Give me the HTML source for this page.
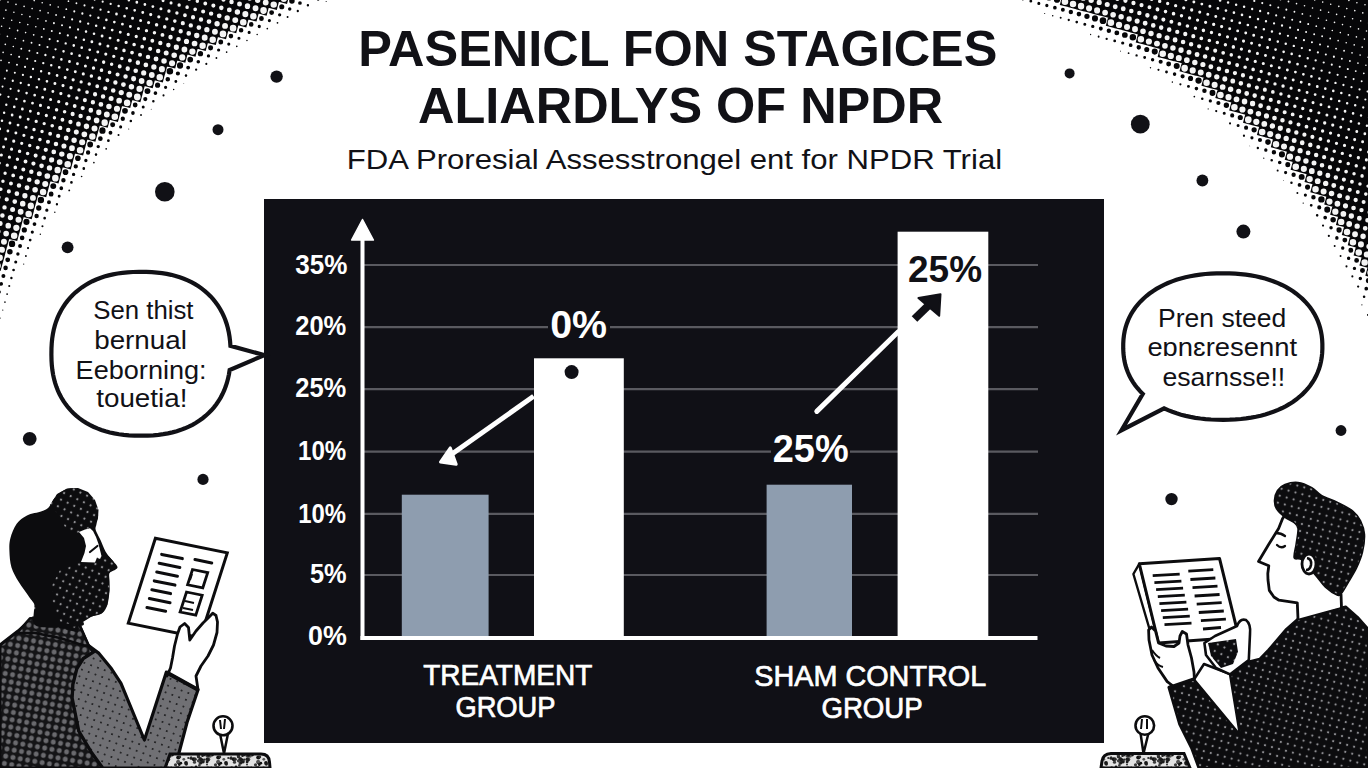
<!DOCTYPE html>
<html><head><meta charset="utf-8"><title>NPDR</title>
<style>html,body{margin:0;padding:0;background:#fff;width:1368px;height:768px;overflow:hidden}svg{display:block}</style>
</head><body><svg width="1368" height="768" viewBox="0 0 1368 768"><g id="halftone"><path fill="#060608" d="M-11.0 -7.4l8.3 2.2l-2.2 8.3l-8.3 -2.2zM-0.9 -13.3l8.3 2.2l-2.2 8.3l-8.3 -2.2zM-3.0 -5.2l8.3 2.2l-2.2 8.3l-8.3 -2.2zM-5.2 2.8l8.3 2.2l-2.2 8.3l-8.3 -2.2zM-7.3 10.8l8.3 2.2l-2.2 8.3l-8.3 -2.2zM-9.5 18.8l8.3 2.2l-2.2 8.3l-8.3 -2.2zM-11.6 26.8l8.3 2.2l-2.2 8.3l-8.3 -2.2zM7.1 -11.1l8.3 2.2l-2.2 8.3l-8.3 -2.2zM5.0 -3.1l8.3 2.2l-2.2 8.3l-8.3 -2.2zM2.8 4.9l8.3 2.2l-2.2 8.3l-8.3 -2.2zM0.7 12.9l8.3 2.2l-2.2 8.3l-8.3 -2.2zM-1.4 21.0l8.3 2.2l-2.2 8.3l-8.3 -2.2zM-3.6 29.0l8.3 2.2l-2.2 8.3l-8.3 -2.2zM-5.7 37.0l8.3 2.2l-2.2 8.3l-8.3 -2.2zM-7.9 45.0l8.3 2.2l-2.2 8.3l-8.3 -2.2zM-10.0 53.0l8.3 2.2l-2.2 8.3l-8.3 -2.2zM-12.2 61.1l8.3 2.2l-2.2 8.3l-8.3 -2.2zM15.2 -9.0l8.3 2.2l-2.2 8.3l-8.3 -2.2zM13.0 -0.9l8.3 2.2l-2.2 8.3l-8.3 -2.2zM10.9 7.1l8.3 2.2l-2.2 8.3l-8.3 -2.2zM8.7 15.1l8.3 2.2l-2.2 8.3l-8.3 -2.2zM6.6 23.1l8.3 2.2l-2.2 8.3l-8.3 -2.2zM4.4 31.1l8.3 2.2l-2.2 8.3l-8.3 -2.2zM2.3 39.1l8.3 2.2l-2.2 8.3l-8.3 -2.2zM0.1 47.2l8.3 2.2l-2.2 8.3l-8.3 -2.2zM-2.0 55.2l8.3 2.2l-2.2 8.3l-8.3 -2.2zM-4.2 63.2l8.3 2.2l-2.2 8.3l-8.3 -2.2zM-6.3 71.2l8.3 2.2l-2.2 8.3l-8.3 -2.2zM-8.5 79.2l8.3 2.2l-2.2 8.3l-8.3 -2.2zM-10.6 87.3l8.3 2.2l-2.2 8.3l-8.3 -2.2zM-12.8 95.3l8.3 2.2l-2.2 8.3l-8.3 -2.2zM25.3 -14.8l8.3 2.2l-2.2 8.3l-8.3 -2.2zM23.2 -6.8l8.3 2.2l-2.2 8.3l-8.3 -2.2zM21.0 1.2l8.3 2.2l-2.2 8.3l-8.3 -2.2zM18.9 9.2l8.3 2.2l-2.2 8.3l-8.3 -2.2zM16.7 17.2l8.3 2.2l-2.2 8.3l-8.3 -2.2zM14.6 25.3l8.3 2.2l-2.2 8.3l-8.3 -2.2zM12.4 33.3l8.3 2.2l-2.2 8.3l-8.3 -2.2zM10.3 41.3l8.3 2.2l-2.2 8.3l-8.3 -2.2zM8.1 49.3l8.3 2.2l-2.2 8.3l-8.3 -2.2zM6.0 57.3l8.3 2.2l-2.2 8.3l-8.3 -2.2zM3.8 65.3l8.3 2.2l-2.2 8.3l-8.3 -2.2zM1.7 73.4l8.3 2.2l-2.2 8.3l-8.3 -2.2zM-0.5 81.4l8.3 2.2l-2.2 8.3l-8.3 -2.2zM-2.6 89.4l8.3 2.2l-2.2 8.3l-8.3 -2.2zM-4.7 97.4l8.3 2.2l-2.2 8.3l-8.3 -2.2zM-6.9 105.4l8.3 2.2l-2.2 8.3l-8.3 -2.2zM-9.0 113.5l8.3 2.2l-2.2 8.3l-8.3 -2.2zM-11.2 121.5l8.3 2.2l-2.2 8.3l-8.3 -2.2zM33.3 -12.7l8.3 2.2l-2.2 8.3l-8.3 -2.2zM31.2 -4.7l8.3 2.2l-2.2 8.3l-8.3 -2.2zM29.0 3.4l8.3 2.2l-2.2 8.3l-8.3 -2.2zM26.9 11.4l8.3 2.2l-2.2 8.3l-8.3 -2.2zM24.7 19.4l8.3 2.2l-2.2 8.3l-8.3 -2.2zM22.6 27.4l8.3 2.2l-2.2 8.3l-8.3 -2.2zM20.5 35.4l8.3 2.2l-2.2 8.3l-8.3 -2.2zM18.3 43.4l8.3 2.2l-2.2 8.3l-8.3 -2.2zM16.2 51.5l8.3 2.2l-2.2 8.3l-8.3 -2.2zM14.0 59.5l8.3 2.2l-2.2 8.3l-8.3 -2.2zM11.9 67.5l8.3 2.2l-2.2 8.3l-8.3 -2.2zM9.7 75.5l8.3 2.2l-2.2 8.3l-8.3 -2.2zM7.6 83.5l8.3 2.2l-2.2 8.3l-8.3 -2.2zM5.4 91.5l8.3 2.2l-2.2 8.3l-8.3 -2.2zM3.3 99.6l8.3 2.2l-2.2 8.3l-8.3 -2.2zM1.1 107.6l8.3 2.2l-2.2 8.3l-8.3 -2.2zM-1.0 115.6l8.3 2.2l-2.2 8.3l-8.3 -2.2zM-3.2 123.6l8.3 2.2l-2.2 8.3l-8.3 -2.2zM-5.3 131.6l8.3 2.2l-2.2 8.3l-8.3 -2.2zM-7.5 139.6l8.3 2.2l-2.2 8.3l-8.3 -2.2zM-9.6 147.7l8.3 2.2l-2.2 8.3l-8.3 -2.2zM-11.8 155.7l8.3 2.2l-2.2 8.3l-8.3 -2.2zM41.4 -10.5l8.3 2.2l-2.2 8.3l-8.3 -2.2zM39.2 -2.5l8.3 2.2l-2.2 8.3l-8.3 -2.2zM37.1 5.5l8.3 2.2l-2.2 8.3l-8.3 -2.2zM34.9 13.5l8.3 2.2l-2.2 8.3l-8.3 -2.2zM32.8 21.5l8.3 2.2l-2.2 8.3l-8.3 -2.2zM30.6 29.6l8.3 2.2l-2.2 8.3l-8.3 -2.2zM28.5 37.6l8.3 2.2l-2.2 8.3l-8.3 -2.2zM26.3 45.6l8.3 2.2l-2.2 8.3l-8.3 -2.2zM24.2 53.6l8.3 2.2l-2.2 8.3l-8.3 -2.2zM22.0 61.6l8.3 2.2l-2.2 8.3l-8.3 -2.2zM19.9 69.6l8.3 2.2l-2.2 8.3l-8.3 -2.2zM17.7 77.7l8.3 2.2l-2.2 8.3l-8.3 -2.2zM15.6 85.7l8.3 2.2l-2.2 8.3l-8.3 -2.2zM13.4 93.7l8.3 2.2l-2.2 8.3l-8.3 -2.2zM11.3 101.7l8.3 2.2l-2.2 8.3l-8.3 -2.2zM9.1 109.7l8.3 2.2l-2.2 8.3l-8.3 -2.2zM7.0 117.7l8.3 2.2l-2.2 8.3l-8.3 -2.2zM4.8 125.8l8.3 2.2l-2.2 8.3l-8.3 -2.2zM2.7 133.8l8.3 2.2l-2.2 8.3l-8.3 -2.2zM0.5 141.8l8.3 2.2l-2.2 8.3l-8.3 -2.2zM-1.6 149.8l8.3 2.2l-2.2 8.3l-8.3 -2.2zM-3.8 157.8l8.3 2.2l-2.2 8.3l-8.3 -2.2zM-5.9 165.8l8.3 2.2l-2.2 8.3l-8.3 -2.2zM-8.0 173.9l8.3 2.2l-2.2 8.3l-8.3 -2.2zM-10.2 181.9l8.3 2.2l-2.2 8.3l-8.3 -2.2zM-12.3 189.9l8.3 2.2l-2.2 8.3l-8.3 -2.2zM49.4 -8.4l8.3 2.2l-2.2 8.3l-8.3 -2.2zM47.2 -0.4l8.3 2.2l-2.2 8.3l-8.3 -2.2zM45.1 7.7l8.3 2.2l-2.2 8.3l-8.3 -2.2zM42.9 15.7l8.3 2.2l-2.2 8.3l-8.3 -2.2zM40.8 23.7l8.3 2.2l-2.2 8.3l-8.3 -2.2zM38.6 31.7l8.3 2.2l-2.2 8.3l-8.3 -2.2zM36.5 39.7l8.3 2.2l-2.2 8.3l-8.3 -2.2zM34.3 47.7l8.3 2.2l-2.2 8.3l-8.3 -2.2zM32.2 55.8l8.3 2.2l-2.2 8.3l-8.3 -2.2zM30.0 63.8l8.3 2.2l-2.2 8.3l-8.3 -2.2zM27.9 71.8l8.3 2.2l-2.2 8.3l-8.3 -2.2zM25.7 79.8l8.3 2.2l-2.2 8.3l-8.3 -2.2zM23.6 87.8l8.3 2.2l-2.2 8.3l-8.3 -2.2zM21.5 95.8l8.3 2.2l-2.2 8.3l-8.3 -2.2zM19.3 103.9l8.3 2.2l-2.2 8.3l-8.3 -2.2zM17.2 111.9l8.3 2.2l-2.2 8.3l-8.3 -2.2zM15.0 119.9l8.3 2.2l-2.2 8.3l-8.3 -2.2zM12.9 127.9l8.3 2.2l-2.2 8.3l-8.3 -2.2zM10.7 135.9l8.3 2.2l-2.2 8.3l-8.3 -2.2zM8.6 143.9l8.3 2.2l-2.2 8.3l-8.3 -2.2zM6.4 152.0l8.3 2.2l-2.2 8.3l-8.3 -2.2zM4.3 160.0l8.3 2.2l-2.2 8.3l-8.3 -2.2zM2.1 168.0l8.3 2.2l-2.2 8.3l-8.3 -2.2zM-0.0 176.0l8.3 2.2l-2.2 8.3l-8.3 -2.2zM-2.2 184.0l8.3 2.2l-2.2 8.3l-8.3 -2.2zM-4.3 192.0l8.3 2.2l-2.2 8.3l-8.3 -2.2zM-6.5 200.1l8.3 2.2l-2.2 8.3l-8.3 -2.2zM-8.6 208.1l8.3 2.2l-2.2 8.3l-8.3 -2.2zM-10.8 216.1l8.3 2.2l-2.2 8.3l-8.3 -2.2zM-12.9 224.1l8.3 2.2l-2.2 8.3l-8.3 -2.2zM59.5 -14.2l8.3 2.2l-2.2 8.3l-8.3 -2.2zM57.4 -6.2l8.3 2.2l-2.2 8.3l-8.3 -2.2zM55.2 1.8l8.3 2.2l-2.2 8.3l-8.3 -2.2zM53.1 9.8l8.3 2.2l-2.2 8.3l-8.3 -2.2zM50.9 17.8l8.3 2.2l-2.2 8.3l-8.3 -2.2zM48.8 25.8l8.3 2.2l-2.2 8.3l-8.3 -2.2zM46.7 33.9l8.3 2.2l-2.2 8.3l-8.3 -2.2zM44.5 41.9l8.3 2.2l-2.2 8.3l-8.3 -2.2zM42.4 49.9l8.3 2.2l-2.2 8.3l-8.3 -2.2zM40.2 57.9l8.3 2.2l-2.2 8.3l-8.3 -2.2zM38.1 65.9l8.3 2.2l-2.2 8.3l-8.3 -2.2zM35.9 73.9l8.3 2.2l-2.2 8.3l-8.3 -2.2zM33.8 82.0l8.3 2.2l-2.2 8.3l-8.3 -2.2zM31.6 90.0l8.3 2.2l-2.2 8.3l-8.3 -2.2zM29.5 98.0l8.3 2.2l-2.2 8.3l-8.3 -2.2zM27.3 106.0l8.3 2.2l-2.2 8.3l-8.3 -2.2zM25.2 114.0l8.3 2.2l-2.2 8.3l-8.3 -2.2zM23.0 122.0l8.3 2.2l-2.2 8.3l-8.3 -2.2zM20.9 130.1l8.3 2.2l-2.2 8.3l-8.3 -2.2zM18.7 138.1l8.3 2.2l-2.2 8.3l-8.3 -2.2zM16.6 146.1l8.3 2.2l-2.2 8.3l-8.3 -2.2zM14.4 154.1l8.3 2.2l-2.2 8.3l-8.3 -2.2zM12.3 162.1l8.3 2.2l-2.2 8.3l-8.3 -2.2zM10.1 170.1l8.3 2.2l-2.2 8.3l-8.3 -2.2zM8.0 178.2l8.3 2.2l-2.2 8.3l-8.3 -2.2zM5.8 186.2l8.3 2.2l-2.2 8.3l-8.3 -2.2zM3.7 194.2l8.3 2.2l-2.2 8.3l-8.3 -2.2zM1.5 202.2l8.3 2.2l-2.2 8.3l-8.3 -2.2zM-0.6 210.2l8.3 2.2l-2.2 8.3l-8.3 -2.2zM-2.8 218.2l8.3 2.2l-2.2 8.3l-8.3 -2.2zM-4.9 226.3l8.3 2.2l-2.2 8.3l-8.3 -2.2zM-7.1 234.3l8.3 2.2l-2.2 8.3l-8.3 -2.2zM-9.2 242.3l8.3 2.2l-2.2 8.3l-8.3 -2.2zM-11.3 250.3l8.3 2.2l-2.2 8.3l-8.3 -2.2zM67.6 -12.1l8.3 2.2l-2.2 8.3l-8.3 -2.2zM65.4 -4.1l8.3 2.2l-2.2 8.3l-8.3 -2.2zM63.3 3.9l8.3 2.2l-2.2 8.3l-8.3 -2.2zM61.1 12.0l8.3 2.2l-2.2 8.3l-8.3 -2.2zM59.0 20.0l8.3 2.2l-2.2 8.3l-8.3 -2.2zM56.8 28.0l8.3 2.2l-2.2 8.3l-8.3 -2.2zM54.7 36.0l8.3 2.2l-2.2 8.3l-8.3 -2.2zM52.5 44.0l8.3 2.2l-2.2 8.3l-8.3 -2.2zM50.4 52.0l8.3 2.2l-2.2 8.3l-8.3 -2.2zM48.2 60.1l8.3 2.2l-2.2 8.3l-8.3 -2.2zM46.1 68.1l8.3 2.2l-2.2 8.3l-8.3 -2.2zM43.9 76.1l8.3 2.2l-2.2 8.3l-8.3 -2.2zM41.8 84.1l8.3 2.2l-2.2 8.3l-8.3 -2.2zM39.6 92.1l8.3 2.2l-2.2 8.3l-8.3 -2.2zM37.5 100.1l8.3 2.2l-2.2 8.3l-8.3 -2.2zM35.3 108.2l8.3 2.2l-2.2 8.3l-8.3 -2.2zM33.2 116.2l8.3 2.2l-2.2 8.3l-8.3 -2.2zM31.0 124.2l8.3 2.2l-2.2 8.3l-8.3 -2.2zM28.9 132.2l8.3 2.2l-2.2 8.3l-8.3 -2.2zM26.7 140.2l8.3 2.2l-2.2 8.3l-8.3 -2.2zM24.6 148.2l8.3 2.2l-2.2 8.3l-8.3 -2.2zM22.4 156.3l8.3 2.2l-2.2 8.3l-8.3 -2.2zM20.3 164.3l8.3 2.2l-2.2 8.3l-8.3 -2.2zM18.2 172.3l8.3 2.2l-2.2 8.3l-8.3 -2.2zM16.0 180.3l8.3 2.2l-2.2 8.3l-8.3 -2.2zM13.9 188.3l8.3 2.2l-2.2 8.3l-8.3 -2.2zM11.7 196.3l8.3 2.2l-2.2 8.3l-8.3 -2.2zM9.6 204.4l8.3 2.2l-2.2 8.3l-8.3 -2.2zM7.4 212.4l8.3 2.2l-2.2 8.3l-8.3 -2.2zM5.3 220.4l8.3 2.2l-2.2 8.3l-8.3 -2.2zM3.1 228.4l8.3 2.2l-2.2 8.3l-8.3 -2.2zM1.0 236.4l8.3 2.2l-2.2 8.3l-8.3 -2.2zM-1.2 244.4l8.3 2.2l-2.2 8.3l-8.3 -2.2zM-3.3 252.5l8.3 2.2l-2.2 8.3l-8.3 -2.2zM-5.5 260.5l8.3 2.2l-2.2 8.3l-8.3 -2.2zM75.6 -10.0l8.3 2.2l-2.2 8.3l-8.3 -2.2zM73.4 -1.9l8.3 2.2l-2.2 8.3l-8.3 -2.2zM71.3 6.1l8.3 2.2l-2.2 8.3l-8.3 -2.2zM69.1 14.1l8.3 2.2l-2.2 8.3l-8.3 -2.2zM67.0 22.1l8.3 2.2l-2.2 8.3l-8.3 -2.2zM64.8 30.1l8.3 2.2l-2.2 8.3l-8.3 -2.2zM62.7 38.2l8.3 2.2l-2.2 8.3l-8.3 -2.2zM60.5 46.2l8.3 2.2l-2.2 8.3l-8.3 -2.2zM58.4 54.2l8.3 2.2l-2.2 8.3l-8.3 -2.2zM56.2 62.2l8.3 2.2l-2.2 8.3l-8.3 -2.2zM54.1 70.2l8.3 2.2l-2.2 8.3l-8.3 -2.2zM51.9 78.2l8.3 2.2l-2.2 8.3l-8.3 -2.2zM49.8 86.3l8.3 2.2l-2.2 8.3l-8.3 -2.2zM47.7 94.3l8.3 2.2l-2.2 8.3l-8.3 -2.2zM45.5 102.3l8.3 2.2l-2.2 8.3l-8.3 -2.2zM43.4 110.3l8.3 2.2l-2.2 8.3l-8.3 -2.2zM41.2 118.3l8.3 2.2l-2.2 8.3l-8.3 -2.2zM39.1 126.3l8.3 2.2l-2.2 8.3l-8.3 -2.2zM36.9 134.4l8.3 2.2l-2.2 8.3l-8.3 -2.2zM34.8 142.4l8.3 2.2l-2.2 8.3l-8.3 -2.2zM32.6 150.4l8.3 2.2l-2.2 8.3l-8.3 -2.2zM30.5 158.4l8.3 2.2l-2.2 8.3l-8.3 -2.2zM28.3 166.4l8.3 2.2l-2.2 8.3l-8.3 -2.2zM26.2 174.4l8.3 2.2l-2.2 8.3l-8.3 -2.2zM24.0 182.5l8.3 2.2l-2.2 8.3l-8.3 -2.2zM21.9 190.5l8.3 2.2l-2.2 8.3l-8.3 -2.2zM19.7 198.5l8.3 2.2l-2.2 8.3l-8.3 -2.2zM17.6 206.5l8.3 2.2l-2.2 8.3l-8.3 -2.2zM15.4 214.5l8.3 2.2l-2.2 8.3l-8.3 -2.2zM13.3 222.5l8.3 2.2l-2.2 8.3l-8.3 -2.2zM11.1 230.6l8.3 2.2l-2.2 8.3l-8.3 -2.2zM83.6 -7.8l8.3 2.2l-2.2 8.3l-8.3 -2.2zM81.4 0.2l8.3 2.2l-2.2 8.3l-8.3 -2.2zM79.3 8.2l8.3 2.2l-2.2 8.3l-8.3 -2.2zM77.1 16.2l8.3 2.2l-2.2 8.3l-8.3 -2.2zM75.0 24.3l8.3 2.2l-2.2 8.3l-8.3 -2.2zM72.9 32.3l8.3 2.2l-2.2 8.3l-8.3 -2.2zM70.7 40.3l8.3 2.2l-2.2 8.3l-8.3 -2.2zM68.6 48.3l8.3 2.2l-2.2 8.3l-8.3 -2.2zM66.4 56.3l8.3 2.2l-2.2 8.3l-8.3 -2.2zM64.3 64.3l8.3 2.2l-2.2 8.3l-8.3 -2.2zM62.1 72.4l8.3 2.2l-2.2 8.3l-8.3 -2.2zM60.0 80.4l8.3 2.2l-2.2 8.3l-8.3 -2.2zM57.8 88.4l8.3 2.2l-2.2 8.3l-8.3 -2.2zM55.7 96.4l8.3 2.2l-2.2 8.3l-8.3 -2.2zM53.5 104.4l8.3 2.2l-2.2 8.3l-8.3 -2.2zM51.4 112.5l8.3 2.2l-2.2 8.3l-8.3 -2.2zM49.2 120.5l8.3 2.2l-2.2 8.3l-8.3 -2.2zM47.1 128.5l8.3 2.2l-2.2 8.3l-8.3 -2.2zM44.9 136.5l8.3 2.2l-2.2 8.3l-8.3 -2.2zM42.8 144.5l8.3 2.2l-2.2 8.3l-8.3 -2.2zM40.6 152.5l8.3 2.2l-2.2 8.3l-8.3 -2.2zM38.5 160.6l8.3 2.2l-2.2 8.3l-8.3 -2.2zM36.3 168.6l8.3 2.2l-2.2 8.3l-8.3 -2.2zM34.2 176.6l8.3 2.2l-2.2 8.3l-8.3 -2.2zM32.0 184.6l8.3 2.2l-2.2 8.3l-8.3 -2.2zM29.9 192.6l8.3 2.2l-2.2 8.3l-8.3 -2.2zM27.7 200.6l8.3 2.2l-2.2 8.3l-8.3 -2.2zM25.6 208.7l8.3 2.2l-2.2 8.3l-8.3 -2.2zM93.8 -13.7l8.3 2.2l-2.2 8.3l-8.3 -2.2zM91.6 -5.7l8.3 2.2l-2.2 8.3l-8.3 -2.2zM89.5 2.4l8.3 2.2l-2.2 8.3l-8.3 -2.2zM87.3 10.4l8.3 2.2l-2.2 8.3l-8.3 -2.2zM85.2 18.4l8.3 2.2l-2.2 8.3l-8.3 -2.2zM83.0 26.4l8.3 2.2l-2.2 8.3l-8.3 -2.2zM80.9 34.4l8.3 2.2l-2.2 8.3l-8.3 -2.2zM78.7 42.4l8.3 2.2l-2.2 8.3l-8.3 -2.2zM76.6 50.5l8.3 2.2l-2.2 8.3l-8.3 -2.2zM74.4 58.5l8.3 2.2l-2.2 8.3l-8.3 -2.2zM72.3 66.5l8.3 2.2l-2.2 8.3l-8.3 -2.2zM70.1 74.5l8.3 2.2l-2.2 8.3l-8.3 -2.2zM68.0 82.5l8.3 2.2l-2.2 8.3l-8.3 -2.2zM65.8 90.5l8.3 2.2l-2.2 8.3l-8.3 -2.2zM63.7 98.6l8.3 2.2l-2.2 8.3l-8.3 -2.2zM61.5 106.6l8.3 2.2l-2.2 8.3l-8.3 -2.2zM59.4 114.6l8.3 2.2l-2.2 8.3l-8.3 -2.2zM57.2 122.6l8.3 2.2l-2.2 8.3l-8.3 -2.2zM55.1 130.6l8.3 2.2l-2.2 8.3l-8.3 -2.2zM52.9 138.7l8.3 2.2l-2.2 8.3l-8.3 -2.2zM50.8 146.7l8.3 2.2l-2.2 8.3l-8.3 -2.2zM48.6 154.7l8.3 2.2l-2.2 8.3l-8.3 -2.2zM46.5 162.7l8.3 2.2l-2.2 8.3l-8.3 -2.2zM44.4 170.7l8.3 2.2l-2.2 8.3l-8.3 -2.2zM42.2 178.7l8.3 2.2l-2.2 8.3l-8.3 -2.2zM40.1 186.8l8.3 2.2l-2.2 8.3l-8.3 -2.2zM101.8 -11.5l8.3 2.2l-2.2 8.3l-8.3 -2.2zM99.6 -3.5l8.3 2.2l-2.2 8.3l-8.3 -2.2zM97.5 4.5l8.3 2.2l-2.2 8.3l-8.3 -2.2zM95.3 12.5l8.3 2.2l-2.2 8.3l-8.3 -2.2zM93.2 20.5l8.3 2.2l-2.2 8.3l-8.3 -2.2zM91.0 28.6l8.3 2.2l-2.2 8.3l-8.3 -2.2zM88.9 36.6l8.3 2.2l-2.2 8.3l-8.3 -2.2zM86.7 44.6l8.3 2.2l-2.2 8.3l-8.3 -2.2zM84.6 52.6l8.3 2.2l-2.2 8.3l-8.3 -2.2zM82.4 60.6l8.3 2.2l-2.2 8.3l-8.3 -2.2zM80.3 68.6l8.3 2.2l-2.2 8.3l-8.3 -2.2zM78.1 76.7l8.3 2.2l-2.2 8.3l-8.3 -2.2zM76.0 84.7l8.3 2.2l-2.2 8.3l-8.3 -2.2zM73.8 92.7l8.3 2.2l-2.2 8.3l-8.3 -2.2zM71.7 100.7l8.3 2.2l-2.2 8.3l-8.3 -2.2zM69.6 108.7l8.3 2.2l-2.2 8.3l-8.3 -2.2zM67.4 116.7l8.3 2.2l-2.2 8.3l-8.3 -2.2zM65.3 124.8l8.3 2.2l-2.2 8.3l-8.3 -2.2zM63.1 132.8l8.3 2.2l-2.2 8.3l-8.3 -2.2zM61.0 140.8l8.3 2.2l-2.2 8.3l-8.3 -2.2zM58.8 148.8l8.3 2.2l-2.2 8.3l-8.3 -2.2zM56.7 156.8l8.3 2.2l-2.2 8.3l-8.3 -2.2zM54.5 164.9l8.3 2.2l-2.2 8.3l-8.3 -2.2zM52.4 172.9l8.3 2.2l-2.2 8.3l-8.3 -2.2zM109.8 -9.4l8.3 2.2l-2.2 8.3l-8.3 -2.2zM107.6 -1.4l8.3 2.2l-2.2 8.3l-8.3 -2.2zM105.5 6.7l8.3 2.2l-2.2 8.3l-8.3 -2.2zM103.3 14.7l8.3 2.2l-2.2 8.3l-8.3 -2.2zM101.2 22.7l8.3 2.2l-2.2 8.3l-8.3 -2.2zM99.1 30.7l8.3 2.2l-2.2 8.3l-8.3 -2.2zM96.9 38.7l8.3 2.2l-2.2 8.3l-8.3 -2.2zM94.8 46.7l8.3 2.2l-2.2 8.3l-8.3 -2.2zM92.6 54.8l8.3 2.2l-2.2 8.3l-8.3 -2.2zM90.5 62.8l8.3 2.2l-2.2 8.3l-8.3 -2.2zM88.3 70.8l8.3 2.2l-2.2 8.3l-8.3 -2.2zM86.2 78.8l8.3 2.2l-2.2 8.3l-8.3 -2.2zM84.0 86.8l8.3 2.2l-2.2 8.3l-8.3 -2.2zM81.9 94.8l8.3 2.2l-2.2 8.3l-8.3 -2.2zM79.7 102.9l8.3 2.2l-2.2 8.3l-8.3 -2.2zM77.6 110.9l8.3 2.2l-2.2 8.3l-8.3 -2.2zM75.4 118.9l8.3 2.2l-2.2 8.3l-8.3 -2.2zM73.3 126.9l8.3 2.2l-2.2 8.3l-8.3 -2.2zM71.1 134.9l8.3 2.2l-2.2 8.3l-8.3 -2.2zM69.0 142.9l8.3 2.2l-2.2 8.3l-8.3 -2.2zM66.8 151.0l8.3 2.2l-2.2 8.3l-8.3 -2.2zM64.7 159.0l8.3 2.2l-2.2 8.3l-8.3 -2.2zM117.8 -7.2l8.3 2.2l-2.2 8.3l-8.3 -2.2zM115.7 0.8l8.3 2.2l-2.2 8.3l-8.3 -2.2zM113.5 8.8l8.3 2.2l-2.2 8.3l-8.3 -2.2zM111.4 16.8l8.3 2.2l-2.2 8.3l-8.3 -2.2zM109.2 24.8l8.3 2.2l-2.2 8.3l-8.3 -2.2zM107.1 32.9l8.3 2.2l-2.2 8.3l-8.3 -2.2zM104.9 40.9l8.3 2.2l-2.2 8.3l-8.3 -2.2zM102.8 48.9l8.3 2.2l-2.2 8.3l-8.3 -2.2zM100.6 56.9l8.3 2.2l-2.2 8.3l-8.3 -2.2zM98.5 64.9l8.3 2.2l-2.2 8.3l-8.3 -2.2zM96.3 72.9l8.3 2.2l-2.2 8.3l-8.3 -2.2zM94.2 81.0l8.3 2.2l-2.2 8.3l-8.3 -2.2zM92.0 89.0l8.3 2.2l-2.2 8.3l-8.3 -2.2zM89.9 97.0l8.3 2.2l-2.2 8.3l-8.3 -2.2zM87.7 105.0l8.3 2.2l-2.2 8.3l-8.3 -2.2zM85.6 113.0l8.3 2.2l-2.2 8.3l-8.3 -2.2zM83.4 121.0l8.3 2.2l-2.2 8.3l-8.3 -2.2zM81.3 129.1l8.3 2.2l-2.2 8.3l-8.3 -2.2zM79.1 137.1l8.3 2.2l-2.2 8.3l-8.3 -2.2zM77.0 145.1l8.3 2.2l-2.2 8.3l-8.3 -2.2zM128.0 -13.1l8.3 2.2l-2.2 8.3l-8.3 -2.2zM125.8 -5.1l8.3 2.2l-2.2 8.3l-8.3 -2.2zM123.7 2.9l8.3 2.2l-2.2 8.3l-8.3 -2.2zM121.5 11.0l8.3 2.2l-2.2 8.3l-8.3 -2.2zM119.4 19.0l8.3 2.2l-2.2 8.3l-8.3 -2.2zM117.2 27.0l8.3 2.2l-2.2 8.3l-8.3 -2.2zM115.1 35.0l8.3 2.2l-2.2 8.3l-8.3 -2.2zM112.9 43.0l8.3 2.2l-2.2 8.3l-8.3 -2.2zM110.8 51.0l8.3 2.2l-2.2 8.3l-8.3 -2.2zM108.6 59.1l8.3 2.2l-2.2 8.3l-8.3 -2.2zM106.5 67.1l8.3 2.2l-2.2 8.3l-8.3 -2.2zM104.3 75.1l8.3 2.2l-2.2 8.3l-8.3 -2.2zM102.2 83.1l8.3 2.2l-2.2 8.3l-8.3 -2.2zM100.0 91.1l8.3 2.2l-2.2 8.3l-8.3 -2.2zM97.9 99.1l8.3 2.2l-2.2 8.3l-8.3 -2.2zM95.8 107.2l8.3 2.2l-2.2 8.3l-8.3 -2.2zM93.6 115.2l8.3 2.2l-2.2 8.3l-8.3 -2.2zM91.5 123.2l8.3 2.2l-2.2 8.3l-8.3 -2.2zM89.3 131.2l8.3 2.2l-2.2 8.3l-8.3 -2.2zM136.0 -10.9l8.3 2.2l-2.2 8.3l-8.3 -2.2zM133.8 -2.9l8.3 2.2l-2.2 8.3l-8.3 -2.2zM131.7 5.1l8.3 2.2l-2.2 8.3l-8.3 -2.2zM129.5 13.1l8.3 2.2l-2.2 8.3l-8.3 -2.2zM127.4 21.1l8.3 2.2l-2.2 8.3l-8.3 -2.2zM125.3 29.1l8.3 2.2l-2.2 8.3l-8.3 -2.2zM123.1 37.2l8.3 2.2l-2.2 8.3l-8.3 -2.2zM121.0 45.2l8.3 2.2l-2.2 8.3l-8.3 -2.2zM118.8 53.2l8.3 2.2l-2.2 8.3l-8.3 -2.2zM116.7 61.2l8.3 2.2l-2.2 8.3l-8.3 -2.2zM114.5 69.2l8.3 2.2l-2.2 8.3l-8.3 -2.2zM112.4 77.2l8.3 2.2l-2.2 8.3l-8.3 -2.2zM110.2 85.3l8.3 2.2l-2.2 8.3l-8.3 -2.2zM108.1 93.3l8.3 2.2l-2.2 8.3l-8.3 -2.2zM105.9 101.3l8.3 2.2l-2.2 8.3l-8.3 -2.2zM103.8 109.3l8.3 2.2l-2.2 8.3l-8.3 -2.2zM101.6 117.3l8.3 2.2l-2.2 8.3l-8.3 -2.2zM144.0 -8.8l8.3 2.2l-2.2 8.3l-8.3 -2.2zM141.9 -0.8l8.3 2.2l-2.2 8.3l-8.3 -2.2zM139.7 7.2l8.3 2.2l-2.2 8.3l-8.3 -2.2zM137.6 15.2l8.3 2.2l-2.2 8.3l-8.3 -2.2zM135.4 23.3l8.3 2.2l-2.2 8.3l-8.3 -2.2zM133.3 31.3l8.3 2.2l-2.2 8.3l-8.3 -2.2zM131.1 39.3l8.3 2.2l-2.2 8.3l-8.3 -2.2zM129.0 47.3l8.3 2.2l-2.2 8.3l-8.3 -2.2zM126.8 55.3l8.3 2.2l-2.2 8.3l-8.3 -2.2zM124.7 63.4l8.3 2.2l-2.2 8.3l-8.3 -2.2zM122.5 71.4l8.3 2.2l-2.2 8.3l-8.3 -2.2zM120.4 79.4l8.3 2.2l-2.2 8.3l-8.3 -2.2zM118.2 87.4l8.3 2.2l-2.2 8.3l-8.3 -2.2zM116.1 95.4l8.3 2.2l-2.2 8.3l-8.3 -2.2zM113.9 103.4l8.3 2.2l-2.2 8.3l-8.3 -2.2zM111.8 111.5l8.3 2.2l-2.2 8.3l-8.3 -2.2zM154.2 -14.7l8.3 2.2l-2.2 8.3l-8.3 -2.2zM152.0 -6.7l8.3 2.2l-2.2 8.3l-8.3 -2.2zM149.9 1.4l8.3 2.2l-2.2 8.3l-8.3 -2.2zM147.7 9.4l8.3 2.2l-2.2 8.3l-8.3 -2.2zM145.6 17.4l8.3 2.2l-2.2 8.3l-8.3 -2.2zM143.4 25.4l8.3 2.2l-2.2 8.3l-8.3 -2.2zM141.3 33.4l8.3 2.2l-2.2 8.3l-8.3 -2.2zM139.1 41.4l8.3 2.2l-2.2 8.3l-8.3 -2.2zM137.0 49.5l8.3 2.2l-2.2 8.3l-8.3 -2.2zM134.8 57.5l8.3 2.2l-2.2 8.3l-8.3 -2.2zM132.7 65.5l8.3 2.2l-2.2 8.3l-8.3 -2.2zM130.5 73.5l8.3 2.2l-2.2 8.3l-8.3 -2.2zM128.4 81.5l8.3 2.2l-2.2 8.3l-8.3 -2.2zM126.2 89.6l8.3 2.2l-2.2 8.3l-8.3 -2.2zM124.1 97.6l8.3 2.2l-2.2 8.3l-8.3 -2.2zM162.2 -12.5l8.3 2.2l-2.2 8.3l-8.3 -2.2zM160.0 -4.5l8.3 2.2l-2.2 8.3l-8.3 -2.2zM157.9 3.5l8.3 2.2l-2.2 8.3l-8.3 -2.2zM155.7 11.5l8.3 2.2l-2.2 8.3l-8.3 -2.2zM153.6 19.5l8.3 2.2l-2.2 8.3l-8.3 -2.2zM151.5 27.6l8.3 2.2l-2.2 8.3l-8.3 -2.2zM149.3 35.6l8.3 2.2l-2.2 8.3l-8.3 -2.2zM147.2 43.6l8.3 2.2l-2.2 8.3l-8.3 -2.2zM145.0 51.6l8.3 2.2l-2.2 8.3l-8.3 -2.2zM142.9 59.6l8.3 2.2l-2.2 8.3l-8.3 -2.2zM140.7 67.6l8.3 2.2l-2.2 8.3l-8.3 -2.2zM138.6 75.7l8.3 2.2l-2.2 8.3l-8.3 -2.2zM136.4 83.7l8.3 2.2l-2.2 8.3l-8.3 -2.2zM134.3 91.7l8.3 2.2l-2.2 8.3l-8.3 -2.2zM170.2 -10.4l8.3 2.2l-2.2 8.3l-8.3 -2.2zM168.1 -2.4l8.3 2.2l-2.2 8.3l-8.3 -2.2zM165.9 5.7l8.3 2.2l-2.2 8.3l-8.3 -2.2zM163.8 13.7l8.3 2.2l-2.2 8.3l-8.3 -2.2zM161.6 21.7l8.3 2.2l-2.2 8.3l-8.3 -2.2zM159.5 29.7l8.3 2.2l-2.2 8.3l-8.3 -2.2zM157.3 37.7l8.3 2.2l-2.2 8.3l-8.3 -2.2zM155.2 45.7l8.3 2.2l-2.2 8.3l-8.3 -2.2zM153.0 53.8l8.3 2.2l-2.2 8.3l-8.3 -2.2zM150.9 61.8l8.3 2.2l-2.2 8.3l-8.3 -2.2zM148.7 69.8l8.3 2.2l-2.2 8.3l-8.3 -2.2zM146.6 77.8l8.3 2.2l-2.2 8.3l-8.3 -2.2zM178.2 -8.2l8.3 2.2l-2.2 8.3l-8.3 -2.2zM176.1 -0.2l8.3 2.2l-2.2 8.3l-8.3 -2.2zM173.9 7.8l8.3 2.2l-2.2 8.3l-8.3 -2.2zM171.8 15.8l8.3 2.2l-2.2 8.3l-8.3 -2.2zM169.6 23.8l8.3 2.2l-2.2 8.3l-8.3 -2.2zM167.5 31.9l8.3 2.2l-2.2 8.3l-8.3 -2.2zM165.3 39.9l8.3 2.2l-2.2 8.3l-8.3 -2.2zM163.2 47.9l8.3 2.2l-2.2 8.3l-8.3 -2.2zM161.0 55.9l8.3 2.2l-2.2 8.3l-8.3 -2.2zM158.9 63.9l8.3 2.2l-2.2 8.3l-8.3 -2.2zM156.7 71.9l8.3 2.2l-2.2 8.3l-8.3 -2.2zM188.4 -14.1l8.3 2.2l-2.2 8.3l-8.3 -2.2zM186.2 -6.1l8.3 2.2l-2.2 8.3l-8.3 -2.2zM184.1 1.9l8.3 2.2l-2.2 8.3l-8.3 -2.2zM181.9 10.0l8.3 2.2l-2.2 8.3l-8.3 -2.2zM179.8 18.0l8.3 2.2l-2.2 8.3l-8.3 -2.2zM177.7 26.0l8.3 2.2l-2.2 8.3l-8.3 -2.2zM175.5 34.0l8.3 2.2l-2.2 8.3l-8.3 -2.2zM173.4 42.0l8.3 2.2l-2.2 8.3l-8.3 -2.2zM171.2 50.0l8.3 2.2l-2.2 8.3l-8.3 -2.2zM169.1 58.1l8.3 2.2l-2.2 8.3l-8.3 -2.2zM196.4 -11.9l8.3 2.2l-2.2 8.3l-8.3 -2.2zM194.3 -3.9l8.3 2.2l-2.2 8.3l-8.3 -2.2zM192.1 4.1l8.3 2.2l-2.2 8.3l-8.3 -2.2zM190.0 12.1l8.3 2.2l-2.2 8.3l-8.3 -2.2zM187.8 20.1l8.3 2.2l-2.2 8.3l-8.3 -2.2zM185.7 28.1l8.3 2.2l-2.2 8.3l-8.3 -2.2zM183.5 36.2l8.3 2.2l-2.2 8.3l-8.3 -2.2zM181.4 44.2l8.3 2.2l-2.2 8.3l-8.3 -2.2zM179.2 52.2l8.3 2.2l-2.2 8.3l-8.3 -2.2zM204.4 -9.8l8.3 2.2l-2.2 8.3l-8.3 -2.2zM202.3 -1.8l8.3 2.2l-2.2 8.3l-8.3 -2.2zM200.1 6.2l8.3 2.2l-2.2 8.3l-8.3 -2.2zM198.0 14.3l8.3 2.2l-2.2 8.3l-8.3 -2.2zM195.8 22.3l8.3 2.2l-2.2 8.3l-8.3 -2.2zM193.7 30.3l8.3 2.2l-2.2 8.3l-8.3 -2.2zM191.5 38.3l8.3 2.2l-2.2 8.3l-8.3 -2.2zM189.4 46.3l8.3 2.2l-2.2 8.3l-8.3 -2.2zM212.4 -7.7l8.3 2.2l-2.2 8.3l-8.3 -2.2zM210.3 0.4l8.3 2.2l-2.2 8.3l-8.3 -2.2zM208.1 8.4l8.3 2.2l-2.2 8.3l-8.3 -2.2zM206.0 16.4l8.3 2.2l-2.2 8.3l-8.3 -2.2zM203.9 24.4l8.3 2.2l-2.2 8.3l-8.3 -2.2zM201.7 32.4l8.3 2.2l-2.2 8.3l-8.3 -2.2zM199.6 40.5l8.3 2.2l-2.2 8.3l-8.3 -2.2zM222.6 -13.5l8.3 2.2l-2.2 8.3l-8.3 -2.2zM220.5 -5.5l8.3 2.2l-2.2 8.3l-8.3 -2.2zM218.3 2.5l8.3 2.2l-2.2 8.3l-8.3 -2.2zM216.2 10.5l8.3 2.2l-2.2 8.3l-8.3 -2.2zM214.0 18.5l8.3 2.2l-2.2 8.3l-8.3 -2.2zM211.9 26.6l8.3 2.2l-2.2 8.3l-8.3 -2.2zM209.7 34.6l8.3 2.2l-2.2 8.3l-8.3 -2.2zM230.6 -11.4l8.3 2.2l-2.2 8.3l-8.3 -2.2zM228.5 -3.4l8.3 2.2l-2.2 8.3l-8.3 -2.2zM226.3 4.7l8.3 2.2l-2.2 8.3l-8.3 -2.2zM224.2 12.7l8.3 2.2l-2.2 8.3l-8.3 -2.2zM222.0 20.7l8.3 2.2l-2.2 8.3l-8.3 -2.2zM219.9 28.7l8.3 2.2l-2.2 8.3l-8.3 -2.2zM238.6 -9.2l8.3 2.2l-2.2 8.3l-8.3 -2.2zM236.5 -1.2l8.3 2.2l-2.2 8.3l-8.3 -2.2zM234.3 6.8l8.3 2.2l-2.2 8.3l-8.3 -2.2zM232.2 14.8l8.3 2.2l-2.2 8.3l-8.3 -2.2zM230.1 22.8l8.3 2.2l-2.2 8.3l-8.3 -2.2zM248.8 -15.1l8.3 2.2l-2.2 8.3l-8.3 -2.2zM246.7 -7.1l8.3 2.2l-2.2 8.3l-8.3 -2.2zM244.5 0.9l8.3 2.2l-2.2 8.3l-8.3 -2.2zM242.4 9.0l8.3 2.2l-2.2 8.3l-8.3 -2.2zM240.2 17.0l8.3 2.2l-2.2 8.3l-8.3 -2.2zM256.8 -12.9l8.3 2.2l-2.2 8.3l-8.3 -2.2zM254.7 -4.9l8.3 2.2l-2.2 8.3l-8.3 -2.2zM252.5 3.1l8.3 2.2l-2.2 8.3l-8.3 -2.2zM250.4 11.1l8.3 2.2l-2.2 8.3l-8.3 -2.2zM264.8 -10.8l8.3 2.2l-2.2 8.3l-8.3 -2.2zM262.7 -2.8l8.3 2.2l-2.2 8.3l-8.3 -2.2zM260.5 5.2l8.3 2.2l-2.2 8.3l-8.3 -2.2zM272.9 -8.6l8.3 2.2l-2.2 8.3l-8.3 -2.2zM270.7 -0.6l8.3 2.2l-2.2 8.3l-8.3 -2.2zM283.0 -14.5l8.3 2.2l-2.2 8.3l-8.3 -2.2zM280.9 -6.5l8.3 2.2l-2.2 8.3l-8.3 -2.2zM291.0 -12.4l8.3 2.2l-2.2 8.3l-8.3 -2.2zM1056.1 -13.6l8.3 2.2l-2.2 8.3l-8.3 -2.2zM1064.1 -11.4l8.3 2.2l-2.2 8.3l-8.3 -2.2zM1062.0 -3.4l8.3 2.2l-2.2 8.3l-8.3 -2.2zM1072.2 -9.3l8.3 2.2l-2.2 8.3l-8.3 -2.2zM1070.0 -1.3l8.3 2.2l-2.2 8.3l-8.3 -2.2zM1082.3 -15.2l8.3 2.2l-2.2 8.3l-8.3 -2.2zM1080.2 -7.1l8.3 2.2l-2.2 8.3l-8.3 -2.2zM1078.0 0.9l8.3 2.2l-2.2 8.3l-8.3 -2.2zM1090.3 -13.0l8.3 2.2l-2.2 8.3l-8.3 -2.2zM1088.2 -5.0l8.3 2.2l-2.2 8.3l-8.3 -2.2zM1086.1 3.0l8.3 2.2l-2.2 8.3l-8.3 -2.2zM1098.4 -10.9l8.3 2.2l-2.2 8.3l-8.3 -2.2zM1096.2 -2.9l8.3 2.2l-2.2 8.3l-8.3 -2.2zM1094.1 5.2l8.3 2.2l-2.2 8.3l-8.3 -2.2zM1106.4 -8.7l8.3 2.2l-2.2 8.3l-8.3 -2.2zM1104.2 -0.7l8.3 2.2l-2.2 8.3l-8.3 -2.2zM1102.1 7.3l8.3 2.2l-2.2 8.3l-8.3 -2.2zM1116.5 -14.6l8.3 2.2l-2.2 8.3l-8.3 -2.2zM1114.4 -6.6l8.3 2.2l-2.2 8.3l-8.3 -2.2zM1112.3 1.4l8.3 2.2l-2.2 8.3l-8.3 -2.2zM1110.1 9.5l8.3 2.2l-2.2 8.3l-8.3 -2.2zM1108.0 17.5l8.3 2.2l-2.2 8.3l-8.3 -2.2zM1124.6 -12.4l8.3 2.2l-2.2 8.3l-8.3 -2.2zM1122.4 -4.4l8.3 2.2l-2.2 8.3l-8.3 -2.2zM1120.3 3.6l8.3 2.2l-2.2 8.3l-8.3 -2.2zM1118.1 11.6l8.3 2.2l-2.2 8.3l-8.3 -2.2zM1116.0 19.6l8.3 2.2l-2.2 8.3l-8.3 -2.2zM1132.6 -10.3l8.3 2.2l-2.2 8.3l-8.3 -2.2zM1130.4 -2.3l8.3 2.2l-2.2 8.3l-8.3 -2.2zM1128.3 5.7l8.3 2.2l-2.2 8.3l-8.3 -2.2zM1126.1 13.8l8.3 2.2l-2.2 8.3l-8.3 -2.2zM1124.0 21.8l8.3 2.2l-2.2 8.3l-8.3 -2.2zM1140.6 -8.1l8.3 2.2l-2.2 8.3l-8.3 -2.2zM1138.4 -0.1l8.3 2.2l-2.2 8.3l-8.3 -2.2zM1136.3 7.9l8.3 2.2l-2.2 8.3l-8.3 -2.2zM1134.2 15.9l8.3 2.2l-2.2 8.3l-8.3 -2.2zM1132.0 23.9l8.3 2.2l-2.2 8.3l-8.3 -2.2zM1150.8 -14.0l8.3 2.2l-2.2 8.3l-8.3 -2.2zM1148.6 -6.0l8.3 2.2l-2.2 8.3l-8.3 -2.2zM1146.5 2.0l8.3 2.2l-2.2 8.3l-8.3 -2.2zM1144.3 10.0l8.3 2.2l-2.2 8.3l-8.3 -2.2zM1142.2 18.1l8.3 2.2l-2.2 8.3l-8.3 -2.2zM1140.0 26.1l8.3 2.2l-2.2 8.3l-8.3 -2.2zM1137.9 34.1l8.3 2.2l-2.2 8.3l-8.3 -2.2zM1158.8 -11.9l8.3 2.2l-2.2 8.3l-8.3 -2.2zM1156.6 -3.8l8.3 2.2l-2.2 8.3l-8.3 -2.2zM1154.5 4.2l8.3 2.2l-2.2 8.3l-8.3 -2.2zM1152.3 12.2l8.3 2.2l-2.2 8.3l-8.3 -2.2zM1150.2 20.2l8.3 2.2l-2.2 8.3l-8.3 -2.2zM1148.0 28.2l8.3 2.2l-2.2 8.3l-8.3 -2.2zM1145.9 36.2l8.3 2.2l-2.2 8.3l-8.3 -2.2zM1166.8 -9.7l8.3 2.2l-2.2 8.3l-8.3 -2.2zM1164.6 -1.7l8.3 2.2l-2.2 8.3l-8.3 -2.2zM1162.5 6.3l8.3 2.2l-2.2 8.3l-8.3 -2.2zM1160.4 14.3l8.3 2.2l-2.2 8.3l-8.3 -2.2zM1158.2 22.4l8.3 2.2l-2.2 8.3l-8.3 -2.2zM1156.1 30.4l8.3 2.2l-2.2 8.3l-8.3 -2.2zM1153.9 38.4l8.3 2.2l-2.2 8.3l-8.3 -2.2zM1174.8 -7.6l8.3 2.2l-2.2 8.3l-8.3 -2.2zM1172.7 0.4l8.3 2.2l-2.2 8.3l-8.3 -2.2zM1170.5 8.5l8.3 2.2l-2.2 8.3l-8.3 -2.2zM1168.4 16.5l8.3 2.2l-2.2 8.3l-8.3 -2.2zM1166.2 24.5l8.3 2.2l-2.2 8.3l-8.3 -2.2zM1164.1 32.5l8.3 2.2l-2.2 8.3l-8.3 -2.2zM1161.9 40.5l8.3 2.2l-2.2 8.3l-8.3 -2.2zM1159.8 48.6l8.3 2.2l-2.2 8.3l-8.3 -2.2zM1185.0 -13.4l8.3 2.2l-2.2 8.3l-8.3 -2.2zM1182.8 -5.4l8.3 2.2l-2.2 8.3l-8.3 -2.2zM1180.7 2.6l8.3 2.2l-2.2 8.3l-8.3 -2.2zM1178.5 10.6l8.3 2.2l-2.2 8.3l-8.3 -2.2zM1176.4 18.6l8.3 2.2l-2.2 8.3l-8.3 -2.2zM1174.2 26.6l8.3 2.2l-2.2 8.3l-8.3 -2.2zM1172.1 34.7l8.3 2.2l-2.2 8.3l-8.3 -2.2zM1169.9 42.7l8.3 2.2l-2.2 8.3l-8.3 -2.2zM1167.8 50.7l8.3 2.2l-2.2 8.3l-8.3 -2.2zM1193.0 -11.3l8.3 2.2l-2.2 8.3l-8.3 -2.2zM1190.8 -3.3l8.3 2.2l-2.2 8.3l-8.3 -2.2zM1188.7 4.7l8.3 2.2l-2.2 8.3l-8.3 -2.2zM1186.6 12.8l8.3 2.2l-2.2 8.3l-8.3 -2.2zM1184.4 20.8l8.3 2.2l-2.2 8.3l-8.3 -2.2zM1182.3 28.8l8.3 2.2l-2.2 8.3l-8.3 -2.2zM1180.1 36.8l8.3 2.2l-2.2 8.3l-8.3 -2.2zM1178.0 44.8l8.3 2.2l-2.2 8.3l-8.3 -2.2zM1175.8 52.8l8.3 2.2l-2.2 8.3l-8.3 -2.2zM1201.0 -9.1l8.3 2.2l-2.2 8.3l-8.3 -2.2zM1198.9 -1.1l8.3 2.2l-2.2 8.3l-8.3 -2.2zM1196.7 6.9l8.3 2.2l-2.2 8.3l-8.3 -2.2zM1194.6 14.9l8.3 2.2l-2.2 8.3l-8.3 -2.2zM1192.4 22.9l8.3 2.2l-2.2 8.3l-8.3 -2.2zM1190.3 30.9l8.3 2.2l-2.2 8.3l-8.3 -2.2zM1188.1 39.0l8.3 2.2l-2.2 8.3l-8.3 -2.2zM1186.0 47.0l8.3 2.2l-2.2 8.3l-8.3 -2.2zM1183.8 55.0l8.3 2.2l-2.2 8.3l-8.3 -2.2zM1181.7 63.0l8.3 2.2l-2.2 8.3l-8.3 -2.2zM1211.2 -15.0l8.3 2.2l-2.2 8.3l-8.3 -2.2zM1209.0 -7.0l8.3 2.2l-2.2 8.3l-8.3 -2.2zM1206.9 1.0l8.3 2.2l-2.2 8.3l-8.3 -2.2zM1204.7 9.0l8.3 2.2l-2.2 8.3l-8.3 -2.2zM1202.6 17.1l8.3 2.2l-2.2 8.3l-8.3 -2.2zM1200.4 25.1l8.3 2.2l-2.2 8.3l-8.3 -2.2zM1198.3 33.1l8.3 2.2l-2.2 8.3l-8.3 -2.2zM1196.1 41.1l8.3 2.2l-2.2 8.3l-8.3 -2.2zM1194.0 49.1l8.3 2.2l-2.2 8.3l-8.3 -2.2zM1191.8 57.1l8.3 2.2l-2.2 8.3l-8.3 -2.2zM1189.7 65.2l8.3 2.2l-2.2 8.3l-8.3 -2.2zM1219.2 -12.9l8.3 2.2l-2.2 8.3l-8.3 -2.2zM1217.0 -4.8l8.3 2.2l-2.2 8.3l-8.3 -2.2zM1214.9 3.2l8.3 2.2l-2.2 8.3l-8.3 -2.2zM1212.8 11.2l8.3 2.2l-2.2 8.3l-8.3 -2.2zM1210.6 19.2l8.3 2.2l-2.2 8.3l-8.3 -2.2zM1208.5 27.2l8.3 2.2l-2.2 8.3l-8.3 -2.2zM1206.3 35.2l8.3 2.2l-2.2 8.3l-8.3 -2.2zM1204.2 43.3l8.3 2.2l-2.2 8.3l-8.3 -2.2zM1202.0 51.3l8.3 2.2l-2.2 8.3l-8.3 -2.2zM1199.9 59.3l8.3 2.2l-2.2 8.3l-8.3 -2.2zM1197.7 67.3l8.3 2.2l-2.2 8.3l-8.3 -2.2zM1227.2 -10.7l8.3 2.2l-2.2 8.3l-8.3 -2.2zM1225.1 -2.7l8.3 2.2l-2.2 8.3l-8.3 -2.2zM1222.9 5.3l8.3 2.2l-2.2 8.3l-8.3 -2.2zM1220.8 13.3l8.3 2.2l-2.2 8.3l-8.3 -2.2zM1218.6 21.4l8.3 2.2l-2.2 8.3l-8.3 -2.2zM1216.5 29.4l8.3 2.2l-2.2 8.3l-8.3 -2.2zM1214.3 37.4l8.3 2.2l-2.2 8.3l-8.3 -2.2zM1212.2 45.4l8.3 2.2l-2.2 8.3l-8.3 -2.2zM1210.0 53.4l8.3 2.2l-2.2 8.3l-8.3 -2.2zM1207.9 61.4l8.3 2.2l-2.2 8.3l-8.3 -2.2zM1205.7 69.5l8.3 2.2l-2.2 8.3l-8.3 -2.2zM1203.6 77.5l8.3 2.2l-2.2 8.3l-8.3 -2.2zM1235.2 -8.6l8.3 2.2l-2.2 8.3l-8.3 -2.2zM1233.1 -0.5l8.3 2.2l-2.2 8.3l-8.3 -2.2zM1230.9 7.5l8.3 2.2l-2.2 8.3l-8.3 -2.2zM1228.8 15.5l8.3 2.2l-2.2 8.3l-8.3 -2.2zM1226.6 23.5l8.3 2.2l-2.2 8.3l-8.3 -2.2zM1224.5 31.5l8.3 2.2l-2.2 8.3l-8.3 -2.2zM1222.3 39.5l8.3 2.2l-2.2 8.3l-8.3 -2.2zM1220.2 47.6l8.3 2.2l-2.2 8.3l-8.3 -2.2zM1218.0 55.6l8.3 2.2l-2.2 8.3l-8.3 -2.2zM1215.9 63.6l8.3 2.2l-2.2 8.3l-8.3 -2.2zM1213.7 71.6l8.3 2.2l-2.2 8.3l-8.3 -2.2zM1211.6 79.6l8.3 2.2l-2.2 8.3l-8.3 -2.2zM1245.4 -14.4l8.3 2.2l-2.2 8.3l-8.3 -2.2zM1243.2 -6.4l8.3 2.2l-2.2 8.3l-8.3 -2.2zM1241.1 1.6l8.3 2.2l-2.2 8.3l-8.3 -2.2zM1239.0 9.6l8.3 2.2l-2.2 8.3l-8.3 -2.2zM1236.8 17.6l8.3 2.2l-2.2 8.3l-8.3 -2.2zM1234.7 25.7l8.3 2.2l-2.2 8.3l-8.3 -2.2zM1232.5 33.7l8.3 2.2l-2.2 8.3l-8.3 -2.2zM1230.4 41.7l8.3 2.2l-2.2 8.3l-8.3 -2.2zM1228.2 49.7l8.3 2.2l-2.2 8.3l-8.3 -2.2zM1226.1 57.7l8.3 2.2l-2.2 8.3l-8.3 -2.2zM1223.9 65.7l8.3 2.2l-2.2 8.3l-8.3 -2.2zM1221.8 73.8l8.3 2.2l-2.2 8.3l-8.3 -2.2zM1219.6 81.8l8.3 2.2l-2.2 8.3l-8.3 -2.2zM1217.5 89.8l8.3 2.2l-2.2 8.3l-8.3 -2.2zM1253.4 -12.3l8.3 2.2l-2.2 8.3l-8.3 -2.2zM1251.3 -4.3l8.3 2.2l-2.2 8.3l-8.3 -2.2zM1249.1 3.7l8.3 2.2l-2.2 8.3l-8.3 -2.2zM1247.0 11.8l8.3 2.2l-2.2 8.3l-8.3 -2.2zM1244.8 19.8l8.3 2.2l-2.2 8.3l-8.3 -2.2zM1242.7 27.8l8.3 2.2l-2.2 8.3l-8.3 -2.2zM1240.5 35.8l8.3 2.2l-2.2 8.3l-8.3 -2.2zM1238.4 43.8l8.3 2.2l-2.2 8.3l-8.3 -2.2zM1236.2 51.9l8.3 2.2l-2.2 8.3l-8.3 -2.2zM1234.1 59.9l8.3 2.2l-2.2 8.3l-8.3 -2.2zM1231.9 67.9l8.3 2.2l-2.2 8.3l-8.3 -2.2zM1229.8 75.9l8.3 2.2l-2.2 8.3l-8.3 -2.2zM1227.6 83.9l8.3 2.2l-2.2 8.3l-8.3 -2.2zM1225.5 91.9l8.3 2.2l-2.2 8.3l-8.3 -2.2zM1261.4 -10.1l8.3 2.2l-2.2 8.3l-8.3 -2.2zM1259.3 -2.1l8.3 2.2l-2.2 8.3l-8.3 -2.2zM1257.1 5.9l8.3 2.2l-2.2 8.3l-8.3 -2.2zM1255.0 13.9l8.3 2.2l-2.2 8.3l-8.3 -2.2zM1252.8 21.9l8.3 2.2l-2.2 8.3l-8.3 -2.2zM1250.7 29.9l8.3 2.2l-2.2 8.3l-8.3 -2.2zM1248.5 38.0l8.3 2.2l-2.2 8.3l-8.3 -2.2zM1246.4 46.0l8.3 2.2l-2.2 8.3l-8.3 -2.2zM1244.2 54.0l8.3 2.2l-2.2 8.3l-8.3 -2.2zM1242.1 62.0l8.3 2.2l-2.2 8.3l-8.3 -2.2zM1239.9 70.0l8.3 2.2l-2.2 8.3l-8.3 -2.2zM1237.8 78.1l8.3 2.2l-2.2 8.3l-8.3 -2.2zM1235.7 86.1l8.3 2.2l-2.2 8.3l-8.3 -2.2zM1233.5 94.1l8.3 2.2l-2.2 8.3l-8.3 -2.2zM1231.4 102.1l8.3 2.2l-2.2 8.3l-8.3 -2.2zM1269.4 -8.0l8.3 2.2l-2.2 8.3l-8.3 -2.2zM1267.3 0.0l8.3 2.2l-2.2 8.3l-8.3 -2.2zM1265.2 8.0l8.3 2.2l-2.2 8.3l-8.3 -2.2zM1263.0 16.1l8.3 2.2l-2.2 8.3l-8.3 -2.2zM1260.9 24.1l8.3 2.2l-2.2 8.3l-8.3 -2.2zM1258.7 32.1l8.3 2.2l-2.2 8.3l-8.3 -2.2zM1256.6 40.1l8.3 2.2l-2.2 8.3l-8.3 -2.2zM1254.4 48.1l8.3 2.2l-2.2 8.3l-8.3 -2.2zM1252.3 56.1l8.3 2.2l-2.2 8.3l-8.3 -2.2zM1250.1 64.2l8.3 2.2l-2.2 8.3l-8.3 -2.2zM1248.0 72.2l8.3 2.2l-2.2 8.3l-8.3 -2.2zM1245.8 80.2l8.3 2.2l-2.2 8.3l-8.3 -2.2zM1243.7 88.2l8.3 2.2l-2.2 8.3l-8.3 -2.2zM1241.5 96.2l8.3 2.2l-2.2 8.3l-8.3 -2.2zM1239.4 104.3l8.3 2.2l-2.2 8.3l-8.3 -2.2zM1279.6 -13.9l8.3 2.2l-2.2 8.3l-8.3 -2.2zM1277.5 -5.8l8.3 2.2l-2.2 8.3l-8.3 -2.2zM1275.3 2.2l8.3 2.2l-2.2 8.3l-8.3 -2.2zM1273.2 10.2l8.3 2.2l-2.2 8.3l-8.3 -2.2zM1271.0 18.2l8.3 2.2l-2.2 8.3l-8.3 -2.2zM1268.9 26.2l8.3 2.2l-2.2 8.3l-8.3 -2.2zM1266.7 34.2l8.3 2.2l-2.2 8.3l-8.3 -2.2zM1264.6 42.3l8.3 2.2l-2.2 8.3l-8.3 -2.2zM1262.4 50.3l8.3 2.2l-2.2 8.3l-8.3 -2.2zM1260.3 58.3l8.3 2.2l-2.2 8.3l-8.3 -2.2zM1258.1 66.3l8.3 2.2l-2.2 8.3l-8.3 -2.2zM1256.0 74.3l8.3 2.2l-2.2 8.3l-8.3 -2.2zM1253.8 82.3l8.3 2.2l-2.2 8.3l-8.3 -2.2zM1251.7 90.4l8.3 2.2l-2.2 8.3l-8.3 -2.2zM1249.5 98.4l8.3 2.2l-2.2 8.3l-8.3 -2.2zM1247.4 106.4l8.3 2.2l-2.2 8.3l-8.3 -2.2zM1245.2 114.4l8.3 2.2l-2.2 8.3l-8.3 -2.2zM1287.6 -11.7l8.3 2.2l-2.2 8.3l-8.3 -2.2zM1285.5 -3.7l8.3 2.2l-2.2 8.3l-8.3 -2.2zM1283.3 4.3l8.3 2.2l-2.2 8.3l-8.3 -2.2zM1281.2 12.3l8.3 2.2l-2.2 8.3l-8.3 -2.2zM1279.0 20.4l8.3 2.2l-2.2 8.3l-8.3 -2.2zM1276.9 28.4l8.3 2.2l-2.2 8.3l-8.3 -2.2zM1274.7 36.4l8.3 2.2l-2.2 8.3l-8.3 -2.2zM1272.6 44.4l8.3 2.2l-2.2 8.3l-8.3 -2.2zM1270.4 52.4l8.3 2.2l-2.2 8.3l-8.3 -2.2zM1268.3 60.4l8.3 2.2l-2.2 8.3l-8.3 -2.2zM1266.1 68.5l8.3 2.2l-2.2 8.3l-8.3 -2.2zM1264.0 76.5l8.3 2.2l-2.2 8.3l-8.3 -2.2zM1261.9 84.5l8.3 2.2l-2.2 8.3l-8.3 -2.2zM1259.7 92.5l8.3 2.2l-2.2 8.3l-8.3 -2.2zM1257.6 100.5l8.3 2.2l-2.2 8.3l-8.3 -2.2zM1255.4 108.5l8.3 2.2l-2.2 8.3l-8.3 -2.2zM1253.3 116.6l8.3 2.2l-2.2 8.3l-8.3 -2.2zM1295.6 -9.6l8.3 2.2l-2.2 8.3l-8.3 -2.2zM1293.5 -1.5l8.3 2.2l-2.2 8.3l-8.3 -2.2zM1291.4 6.5l8.3 2.2l-2.2 8.3l-8.3 -2.2zM1289.2 14.5l8.3 2.2l-2.2 8.3l-8.3 -2.2zM1287.1 22.5l8.3 2.2l-2.2 8.3l-8.3 -2.2zM1284.9 30.5l8.3 2.2l-2.2 8.3l-8.3 -2.2zM1282.8 38.5l8.3 2.2l-2.2 8.3l-8.3 -2.2zM1280.6 46.6l8.3 2.2l-2.2 8.3l-8.3 -2.2zM1278.5 54.6l8.3 2.2l-2.2 8.3l-8.3 -2.2zM1276.3 62.6l8.3 2.2l-2.2 8.3l-8.3 -2.2zM1274.2 70.6l8.3 2.2l-2.2 8.3l-8.3 -2.2zM1272.0 78.6l8.3 2.2l-2.2 8.3l-8.3 -2.2zM1269.9 86.6l8.3 2.2l-2.2 8.3l-8.3 -2.2zM1267.7 94.7l8.3 2.2l-2.2 8.3l-8.3 -2.2zM1265.6 102.7l8.3 2.2l-2.2 8.3l-8.3 -2.2zM1263.4 110.7l8.3 2.2l-2.2 8.3l-8.3 -2.2zM1261.3 118.7l8.3 2.2l-2.2 8.3l-8.3 -2.2zM1259.1 126.7l8.3 2.2l-2.2 8.3l-8.3 -2.2zM1303.7 -7.4l8.3 2.2l-2.2 8.3l-8.3 -2.2zM1301.5 0.6l8.3 2.2l-2.2 8.3l-8.3 -2.2zM1299.4 8.6l8.3 2.2l-2.2 8.3l-8.3 -2.2zM1297.2 16.6l8.3 2.2l-2.2 8.3l-8.3 -2.2zM1295.1 24.7l8.3 2.2l-2.2 8.3l-8.3 -2.2zM1292.9 32.7l8.3 2.2l-2.2 8.3l-8.3 -2.2zM1290.8 40.7l8.3 2.2l-2.2 8.3l-8.3 -2.2zM1288.6 48.7l8.3 2.2l-2.2 8.3l-8.3 -2.2zM1286.5 56.7l8.3 2.2l-2.2 8.3l-8.3 -2.2zM1284.3 64.7l8.3 2.2l-2.2 8.3l-8.3 -2.2zM1282.2 72.8l8.3 2.2l-2.2 8.3l-8.3 -2.2zM1280.0 80.8l8.3 2.2l-2.2 8.3l-8.3 -2.2zM1277.9 88.8l8.3 2.2l-2.2 8.3l-8.3 -2.2zM1275.7 96.8l8.3 2.2l-2.2 8.3l-8.3 -2.2zM1273.6 104.8l8.3 2.2l-2.2 8.3l-8.3 -2.2zM1271.4 112.8l8.3 2.2l-2.2 8.3l-8.3 -2.2zM1269.3 120.9l8.3 2.2l-2.2 8.3l-8.3 -2.2zM1267.1 128.9l8.3 2.2l-2.2 8.3l-8.3 -2.2zM1313.8 -13.3l8.3 2.2l-2.2 8.3l-8.3 -2.2zM1311.7 -5.3l8.3 2.2l-2.2 8.3l-8.3 -2.2zM1309.5 2.8l8.3 2.2l-2.2 8.3l-8.3 -2.2zM1307.4 10.8l8.3 2.2l-2.2 8.3l-8.3 -2.2zM1305.2 18.8l8.3 2.2l-2.2 8.3l-8.3 -2.2zM1303.1 26.8l8.3 2.2l-2.2 8.3l-8.3 -2.2zM1300.9 34.8l8.3 2.2l-2.2 8.3l-8.3 -2.2zM1298.8 42.8l8.3 2.2l-2.2 8.3l-8.3 -2.2zM1296.6 50.9l8.3 2.2l-2.2 8.3l-8.3 -2.2zM1294.5 58.9l8.3 2.2l-2.2 8.3l-8.3 -2.2zM1292.3 66.9l8.3 2.2l-2.2 8.3l-8.3 -2.2zM1290.2 74.9l8.3 2.2l-2.2 8.3l-8.3 -2.2zM1288.1 82.9l8.3 2.2l-2.2 8.3l-8.3 -2.2zM1285.9 90.9l8.3 2.2l-2.2 8.3l-8.3 -2.2zM1283.8 99.0l8.3 2.2l-2.2 8.3l-8.3 -2.2zM1281.6 107.0l8.3 2.2l-2.2 8.3l-8.3 -2.2zM1279.5 115.0l8.3 2.2l-2.2 8.3l-8.3 -2.2zM1277.3 123.0l8.3 2.2l-2.2 8.3l-8.3 -2.2zM1275.2 131.0l8.3 2.2l-2.2 8.3l-8.3 -2.2zM1273.0 139.0l8.3 2.2l-2.2 8.3l-8.3 -2.2zM1321.8 -11.1l8.3 2.2l-2.2 8.3l-8.3 -2.2zM1319.7 -3.1l8.3 2.2l-2.2 8.3l-8.3 -2.2zM1317.6 4.9l8.3 2.2l-2.2 8.3l-8.3 -2.2zM1315.4 12.9l8.3 2.2l-2.2 8.3l-8.3 -2.2zM1313.3 20.9l8.3 2.2l-2.2 8.3l-8.3 -2.2zM1311.1 29.0l8.3 2.2l-2.2 8.3l-8.3 -2.2zM1309.0 37.0l8.3 2.2l-2.2 8.3l-8.3 -2.2zM1306.8 45.0l8.3 2.2l-2.2 8.3l-8.3 -2.2zM1304.7 53.0l8.3 2.2l-2.2 8.3l-8.3 -2.2zM1302.5 61.0l8.3 2.2l-2.2 8.3l-8.3 -2.2zM1300.4 69.0l8.3 2.2l-2.2 8.3l-8.3 -2.2zM1298.2 77.1l8.3 2.2l-2.2 8.3l-8.3 -2.2zM1296.1 85.1l8.3 2.2l-2.2 8.3l-8.3 -2.2zM1293.9 93.1l8.3 2.2l-2.2 8.3l-8.3 -2.2zM1291.8 101.1l8.3 2.2l-2.2 8.3l-8.3 -2.2zM1289.6 109.1l8.3 2.2l-2.2 8.3l-8.3 -2.2zM1287.5 117.1l8.3 2.2l-2.2 8.3l-8.3 -2.2zM1285.3 125.2l8.3 2.2l-2.2 8.3l-8.3 -2.2zM1283.2 133.2l8.3 2.2l-2.2 8.3l-8.3 -2.2zM1281.0 141.2l8.3 2.2l-2.2 8.3l-8.3 -2.2zM1329.9 -9.0l8.3 2.2l-2.2 8.3l-8.3 -2.2zM1327.7 -1.0l8.3 2.2l-2.2 8.3l-8.3 -2.2zM1325.6 7.0l8.3 2.2l-2.2 8.3l-8.3 -2.2zM1323.4 15.1l8.3 2.2l-2.2 8.3l-8.3 -2.2zM1321.3 23.1l8.3 2.2l-2.2 8.3l-8.3 -2.2zM1319.1 31.1l8.3 2.2l-2.2 8.3l-8.3 -2.2zM1317.0 39.1l8.3 2.2l-2.2 8.3l-8.3 -2.2zM1314.8 47.1l8.3 2.2l-2.2 8.3l-8.3 -2.2zM1312.7 55.2l8.3 2.2l-2.2 8.3l-8.3 -2.2zM1310.5 63.2l8.3 2.2l-2.2 8.3l-8.3 -2.2zM1308.4 71.2l8.3 2.2l-2.2 8.3l-8.3 -2.2zM1306.2 79.2l8.3 2.2l-2.2 8.3l-8.3 -2.2zM1304.1 87.2l8.3 2.2l-2.2 8.3l-8.3 -2.2zM1301.9 95.2l8.3 2.2l-2.2 8.3l-8.3 -2.2zM1299.8 103.3l8.3 2.2l-2.2 8.3l-8.3 -2.2zM1297.6 111.3l8.3 2.2l-2.2 8.3l-8.3 -2.2zM1295.5 119.3l8.3 2.2l-2.2 8.3l-8.3 -2.2zM1293.3 127.3l8.3 2.2l-2.2 8.3l-8.3 -2.2zM1291.2 135.3l8.3 2.2l-2.2 8.3l-8.3 -2.2zM1289.0 143.3l8.3 2.2l-2.2 8.3l-8.3 -2.2zM1286.9 151.4l8.3 2.2l-2.2 8.3l-8.3 -2.2zM1340.0 -14.9l8.3 2.2l-2.2 8.3l-8.3 -2.2zM1337.9 -6.8l8.3 2.2l-2.2 8.3l-8.3 -2.2zM1335.7 1.2l8.3 2.2l-2.2 8.3l-8.3 -2.2zM1333.6 9.2l8.3 2.2l-2.2 8.3l-8.3 -2.2zM1331.4 17.2l8.3 2.2l-2.2 8.3l-8.3 -2.2zM1329.3 25.2l8.3 2.2l-2.2 8.3l-8.3 -2.2zM1327.1 33.2l8.3 2.2l-2.2 8.3l-8.3 -2.2zM1325.0 41.3l8.3 2.2l-2.2 8.3l-8.3 -2.2zM1322.8 49.3l8.3 2.2l-2.2 8.3l-8.3 -2.2zM1320.7 57.3l8.3 2.2l-2.2 8.3l-8.3 -2.2zM1318.5 65.3l8.3 2.2l-2.2 8.3l-8.3 -2.2zM1316.4 73.3l8.3 2.2l-2.2 8.3l-8.3 -2.2zM1314.3 81.4l8.3 2.2l-2.2 8.3l-8.3 -2.2zM1312.1 89.4l8.3 2.2l-2.2 8.3l-8.3 -2.2zM1310.0 97.4l8.3 2.2l-2.2 8.3l-8.3 -2.2zM1307.8 105.4l8.3 2.2l-2.2 8.3l-8.3 -2.2zM1305.7 113.4l8.3 2.2l-2.2 8.3l-8.3 -2.2zM1303.5 121.4l8.3 2.2l-2.2 8.3l-8.3 -2.2zM1301.4 129.5l8.3 2.2l-2.2 8.3l-8.3 -2.2zM1299.2 137.5l8.3 2.2l-2.2 8.3l-8.3 -2.2zM1297.1 145.5l8.3 2.2l-2.2 8.3l-8.3 -2.2zM1294.9 153.5l8.3 2.2l-2.2 8.3l-8.3 -2.2zM1292.8 161.5l8.3 2.2l-2.2 8.3l-8.3 -2.2zM1348.0 -12.7l8.3 2.2l-2.2 8.3l-8.3 -2.2zM1345.9 -4.7l8.3 2.2l-2.2 8.3l-8.3 -2.2zM1343.8 3.3l8.3 2.2l-2.2 8.3l-8.3 -2.2zM1341.6 11.3l8.3 2.2l-2.2 8.3l-8.3 -2.2zM1339.5 19.4l8.3 2.2l-2.2 8.3l-8.3 -2.2zM1337.3 27.4l8.3 2.2l-2.2 8.3l-8.3 -2.2zM1335.2 35.4l8.3 2.2l-2.2 8.3l-8.3 -2.2zM1333.0 43.4l8.3 2.2l-2.2 8.3l-8.3 -2.2zM1330.9 51.4l8.3 2.2l-2.2 8.3l-8.3 -2.2zM1328.7 59.4l8.3 2.2l-2.2 8.3l-8.3 -2.2zM1326.6 67.5l8.3 2.2l-2.2 8.3l-8.3 -2.2zM1324.4 75.5l8.3 2.2l-2.2 8.3l-8.3 -2.2zM1322.3 83.5l8.3 2.2l-2.2 8.3l-8.3 -2.2zM1320.1 91.5l8.3 2.2l-2.2 8.3l-8.3 -2.2zM1318.0 99.5l8.3 2.2l-2.2 8.3l-8.3 -2.2zM1315.8 107.6l8.3 2.2l-2.2 8.3l-8.3 -2.2zM1313.7 115.6l8.3 2.2l-2.2 8.3l-8.3 -2.2zM1311.5 123.6l8.3 2.2l-2.2 8.3l-8.3 -2.2zM1309.4 131.6l8.3 2.2l-2.2 8.3l-8.3 -2.2zM1307.2 139.6l8.3 2.2l-2.2 8.3l-8.3 -2.2zM1305.1 147.6l8.3 2.2l-2.2 8.3l-8.3 -2.2zM1302.9 155.7l8.3 2.2l-2.2 8.3l-8.3 -2.2zM1300.8 163.7l8.3 2.2l-2.2 8.3l-8.3 -2.2zM1356.1 -10.6l8.3 2.2l-2.2 8.3l-8.3 -2.2zM1353.9 -2.5l8.3 2.2l-2.2 8.3l-8.3 -2.2zM1351.8 5.5l8.3 2.2l-2.2 8.3l-8.3 -2.2zM1349.6 13.5l8.3 2.2l-2.2 8.3l-8.3 -2.2zM1347.5 21.5l8.3 2.2l-2.2 8.3l-8.3 -2.2zM1345.3 29.5l8.3 2.2l-2.2 8.3l-8.3 -2.2zM1343.2 37.5l8.3 2.2l-2.2 8.3l-8.3 -2.2zM1341.0 45.6l8.3 2.2l-2.2 8.3l-8.3 -2.2zM1338.9 53.6l8.3 2.2l-2.2 8.3l-8.3 -2.2zM1336.7 61.6l8.3 2.2l-2.2 8.3l-8.3 -2.2zM1334.6 69.6l8.3 2.2l-2.2 8.3l-8.3 -2.2zM1332.4 77.6l8.3 2.2l-2.2 8.3l-8.3 -2.2zM1330.3 85.6l8.3 2.2l-2.2 8.3l-8.3 -2.2zM1328.1 93.7l8.3 2.2l-2.2 8.3l-8.3 -2.2zM1326.0 101.7l8.3 2.2l-2.2 8.3l-8.3 -2.2zM1323.8 109.7l8.3 2.2l-2.2 8.3l-8.3 -2.2zM1321.7 117.7l8.3 2.2l-2.2 8.3l-8.3 -2.2zM1319.5 125.7l8.3 2.2l-2.2 8.3l-8.3 -2.2zM1317.4 133.8l8.3 2.2l-2.2 8.3l-8.3 -2.2zM1315.2 141.8l8.3 2.2l-2.2 8.3l-8.3 -2.2zM1313.1 149.8l8.3 2.2l-2.2 8.3l-8.3 -2.2zM1311.0 157.8l8.3 2.2l-2.2 8.3l-8.3 -2.2zM1308.8 165.8l8.3 2.2l-2.2 8.3l-8.3 -2.2zM1306.7 173.8l8.3 2.2l-2.2 8.3l-8.3 -2.2zM1364.1 -8.4l8.3 2.2l-2.2 8.3l-8.3 -2.2zM1361.9 -0.4l8.3 2.2l-2.2 8.3l-8.3 -2.2zM1359.8 7.6l8.3 2.2l-2.2 8.3l-8.3 -2.2zM1357.6 15.6l8.3 2.2l-2.2 8.3l-8.3 -2.2zM1355.5 23.7l8.3 2.2l-2.2 8.3l-8.3 -2.2zM1353.3 31.7l8.3 2.2l-2.2 8.3l-8.3 -2.2zM1351.2 39.7l8.3 2.2l-2.2 8.3l-8.3 -2.2zM1349.0 47.7l8.3 2.2l-2.2 8.3l-8.3 -2.2zM1346.9 55.7l8.3 2.2l-2.2 8.3l-8.3 -2.2zM1344.7 63.7l8.3 2.2l-2.2 8.3l-8.3 -2.2zM1342.6 71.8l8.3 2.2l-2.2 8.3l-8.3 -2.2zM1340.5 79.8l8.3 2.2l-2.2 8.3l-8.3 -2.2zM1338.3 87.8l8.3 2.2l-2.2 8.3l-8.3 -2.2zM1336.2 95.8l8.3 2.2l-2.2 8.3l-8.3 -2.2zM1334.0 103.8l8.3 2.2l-2.2 8.3l-8.3 -2.2zM1331.9 111.8l8.3 2.2l-2.2 8.3l-8.3 -2.2zM1329.7 119.9l8.3 2.2l-2.2 8.3l-8.3 -2.2zM1327.6 127.9l8.3 2.2l-2.2 8.3l-8.3 -2.2zM1325.4 135.9l8.3 2.2l-2.2 8.3l-8.3 -2.2zM1323.3 143.9l8.3 2.2l-2.2 8.3l-8.3 -2.2zM1321.1 151.9l8.3 2.2l-2.2 8.3l-8.3 -2.2zM1319.0 160.0l8.3 2.2l-2.2 8.3l-8.3 -2.2zM1316.8 168.0l8.3 2.2l-2.2 8.3l-8.3 -2.2zM1314.7 176.0l8.3 2.2l-2.2 8.3l-8.3 -2.2zM1312.5 184.0l8.3 2.2l-2.2 8.3l-8.3 -2.2zM1374.2 -14.3l8.3 2.2l-2.2 8.3l-8.3 -2.2zM1372.1 -6.3l8.3 2.2l-2.2 8.3l-8.3 -2.2zM1370.0 1.8l8.3 2.2l-2.2 8.3l-8.3 -2.2zM1367.8 9.8l8.3 2.2l-2.2 8.3l-8.3 -2.2zM1365.7 17.8l8.3 2.2l-2.2 8.3l-8.3 -2.2zM1363.5 25.8l8.3 2.2l-2.2 8.3l-8.3 -2.2zM1361.4 33.8l8.3 2.2l-2.2 8.3l-8.3 -2.2zM1359.2 41.8l8.3 2.2l-2.2 8.3l-8.3 -2.2zM1357.1 49.9l8.3 2.2l-2.2 8.3l-8.3 -2.2zM1354.9 57.9l8.3 2.2l-2.2 8.3l-8.3 -2.2zM1352.8 65.9l8.3 2.2l-2.2 8.3l-8.3 -2.2zM1350.6 73.9l8.3 2.2l-2.2 8.3l-8.3 -2.2zM1348.5 81.9l8.3 2.2l-2.2 8.3l-8.3 -2.2zM1346.3 89.9l8.3 2.2l-2.2 8.3l-8.3 -2.2zM1344.2 98.0l8.3 2.2l-2.2 8.3l-8.3 -2.2zM1342.0 106.0l8.3 2.2l-2.2 8.3l-8.3 -2.2zM1339.9 114.0l8.3 2.2l-2.2 8.3l-8.3 -2.2zM1337.7 122.0l8.3 2.2l-2.2 8.3l-8.3 -2.2zM1335.6 130.0l8.3 2.2l-2.2 8.3l-8.3 -2.2zM1333.4 138.0l8.3 2.2l-2.2 8.3l-8.3 -2.2zM1331.3 146.1l8.3 2.2l-2.2 8.3l-8.3 -2.2zM1329.1 154.1l8.3 2.2l-2.2 8.3l-8.3 -2.2zM1327.0 162.1l8.3 2.2l-2.2 8.3l-8.3 -2.2zM1324.8 170.1l8.3 2.2l-2.2 8.3l-8.3 -2.2zM1322.7 178.1l8.3 2.2l-2.2 8.3l-8.3 -2.2zM1320.5 186.2l8.3 2.2l-2.2 8.3l-8.3 -2.2zM1373.7 19.9l8.3 2.2l-2.2 8.3l-8.3 -2.2zM1371.5 28.0l8.3 2.2l-2.2 8.3l-8.3 -2.2zM1369.4 36.0l8.3 2.2l-2.2 8.3l-8.3 -2.2zM1367.2 44.0l8.3 2.2l-2.2 8.3l-8.3 -2.2zM1365.1 52.0l8.3 2.2l-2.2 8.3l-8.3 -2.2zM1362.9 60.0l8.3 2.2l-2.2 8.3l-8.3 -2.2zM1360.8 68.0l8.3 2.2l-2.2 8.3l-8.3 -2.2zM1358.6 76.1l8.3 2.2l-2.2 8.3l-8.3 -2.2zM1356.5 84.1l8.3 2.2l-2.2 8.3l-8.3 -2.2zM1354.3 92.1l8.3 2.2l-2.2 8.3l-8.3 -2.2zM1352.2 100.1l8.3 2.2l-2.2 8.3l-8.3 -2.2zM1350.0 108.1l8.3 2.2l-2.2 8.3l-8.3 -2.2zM1347.9 116.1l8.3 2.2l-2.2 8.3l-8.3 -2.2zM1345.7 124.2l8.3 2.2l-2.2 8.3l-8.3 -2.2zM1343.6 132.2l8.3 2.2l-2.2 8.3l-8.3 -2.2zM1341.4 140.2l8.3 2.2l-2.2 8.3l-8.3 -2.2zM1339.3 148.2l8.3 2.2l-2.2 8.3l-8.3 -2.2zM1337.2 156.2l8.3 2.2l-2.2 8.3l-8.3 -2.2zM1335.0 164.2l8.3 2.2l-2.2 8.3l-8.3 -2.2zM1332.9 172.3l8.3 2.2l-2.2 8.3l-8.3 -2.2zM1330.7 180.3l8.3 2.2l-2.2 8.3l-8.3 -2.2zM1328.6 188.3l8.3 2.2l-2.2 8.3l-8.3 -2.2zM1326.4 196.3l8.3 2.2l-2.2 8.3l-8.3 -2.2zM1373.1 54.2l8.3 2.2l-2.2 8.3l-8.3 -2.2zM1370.9 62.2l8.3 2.2l-2.2 8.3l-8.3 -2.2zM1368.8 70.2l8.3 2.2l-2.2 8.3l-8.3 -2.2zM1366.7 78.2l8.3 2.2l-2.2 8.3l-8.3 -2.2zM1364.5 86.2l8.3 2.2l-2.2 8.3l-8.3 -2.2zM1362.4 94.2l8.3 2.2l-2.2 8.3l-8.3 -2.2zM1360.2 102.3l8.3 2.2l-2.2 8.3l-8.3 -2.2zM1358.1 110.3l8.3 2.2l-2.2 8.3l-8.3 -2.2zM1355.9 118.3l8.3 2.2l-2.2 8.3l-8.3 -2.2zM1353.8 126.3l8.3 2.2l-2.2 8.3l-8.3 -2.2zM1351.6 134.3l8.3 2.2l-2.2 8.3l-8.3 -2.2zM1349.5 142.3l8.3 2.2l-2.2 8.3l-8.3 -2.2zM1347.3 150.4l8.3 2.2l-2.2 8.3l-8.3 -2.2zM1345.2 158.4l8.3 2.2l-2.2 8.3l-8.3 -2.2zM1343.0 166.4l8.3 2.2l-2.2 8.3l-8.3 -2.2zM1340.9 174.4l8.3 2.2l-2.2 8.3l-8.3 -2.2zM1338.7 182.4l8.3 2.2l-2.2 8.3l-8.3 -2.2zM1336.6 190.4l8.3 2.2l-2.2 8.3l-8.3 -2.2zM1334.4 198.5l8.3 2.2l-2.2 8.3l-8.3 -2.2zM1332.3 206.5l8.3 2.2l-2.2 8.3l-8.3 -2.2zM1374.7 80.4l8.3 2.2l-2.2 8.3l-8.3 -2.2zM1372.5 88.4l8.3 2.2l-2.2 8.3l-8.3 -2.2zM1370.4 96.4l8.3 2.2l-2.2 8.3l-8.3 -2.2zM1368.2 104.4l8.3 2.2l-2.2 8.3l-8.3 -2.2zM1366.1 112.4l8.3 2.2l-2.2 8.3l-8.3 -2.2zM1363.9 120.4l8.3 2.2l-2.2 8.3l-8.3 -2.2zM1361.8 128.5l8.3 2.2l-2.2 8.3l-8.3 -2.2zM1359.6 136.5l8.3 2.2l-2.2 8.3l-8.3 -2.2zM1357.5 144.5l8.3 2.2l-2.2 8.3l-8.3 -2.2zM1355.3 152.5l8.3 2.2l-2.2 8.3l-8.3 -2.2zM1353.2 160.5l8.3 2.2l-2.2 8.3l-8.3 -2.2zM1351.0 168.5l8.3 2.2l-2.2 8.3l-8.3 -2.2zM1348.9 176.6l8.3 2.2l-2.2 8.3l-8.3 -2.2zM1346.7 184.6l8.3 2.2l-2.2 8.3l-8.3 -2.2zM1344.6 192.6l8.3 2.2l-2.2 8.3l-8.3 -2.2zM1342.4 200.6l8.3 2.2l-2.2 8.3l-8.3 -2.2zM1340.3 208.6l8.3 2.2l-2.2 8.3l-8.3 -2.2zM1338.1 216.6l8.3 2.2l-2.2 8.3l-8.3 -2.2zM1374.1 114.6l8.3 2.2l-2.2 8.3l-8.3 -2.2zM1371.9 122.6l8.3 2.2l-2.2 8.3l-8.3 -2.2zM1369.8 130.6l8.3 2.2l-2.2 8.3l-8.3 -2.2zM1367.6 138.6l8.3 2.2l-2.2 8.3l-8.3 -2.2zM1365.5 146.6l8.3 2.2l-2.2 8.3l-8.3 -2.2zM1363.4 154.7l8.3 2.2l-2.2 8.3l-8.3 -2.2zM1361.2 162.7l8.3 2.2l-2.2 8.3l-8.3 -2.2zM1359.1 170.7l8.3 2.2l-2.2 8.3l-8.3 -2.2zM1356.9 178.7l8.3 2.2l-2.2 8.3l-8.3 -2.2zM1354.8 186.7l8.3 2.2l-2.2 8.3l-8.3 -2.2zM1352.6 194.7l8.3 2.2l-2.2 8.3l-8.3 -2.2zM1350.5 202.8l8.3 2.2l-2.2 8.3l-8.3 -2.2zM1348.3 210.8l8.3 2.2l-2.2 8.3l-8.3 -2.2zM1346.2 218.8l8.3 2.2l-2.2 8.3l-8.3 -2.2zM1344.0 226.8l8.3 2.2l-2.2 8.3l-8.3 -2.2zM1373.5 148.8l8.3 2.2l-2.2 8.3l-8.3 -2.2zM1371.4 156.8l8.3 2.2l-2.2 8.3l-8.3 -2.2zM1369.2 164.8l8.3 2.2l-2.2 8.3l-8.3 -2.2zM1367.1 172.8l8.3 2.2l-2.2 8.3l-8.3 -2.2zM1364.9 180.9l8.3 2.2l-2.2 8.3l-8.3 -2.2zM1362.8 188.9l8.3 2.2l-2.2 8.3l-8.3 -2.2zM1360.6 196.9l8.3 2.2l-2.2 8.3l-8.3 -2.2zM1358.5 204.9l8.3 2.2l-2.2 8.3l-8.3 -2.2zM1356.3 212.9l8.3 2.2l-2.2 8.3l-8.3 -2.2zM1354.2 220.9l8.3 2.2l-2.2 8.3l-8.3 -2.2zM1352.0 229.0l8.3 2.2l-2.2 8.3l-8.3 -2.2zM1349.9 237.0l8.3 2.2l-2.2 8.3l-8.3 -2.2zM1372.9 183.0l8.3 2.2l-2.2 8.3l-8.3 -2.2zM1370.8 191.0l8.3 2.2l-2.2 8.3l-8.3 -2.2zM1368.6 199.0l8.3 2.2l-2.2 8.3l-8.3 -2.2zM1366.5 207.1l8.3 2.2l-2.2 8.3l-8.3 -2.2zM1364.3 215.1l8.3 2.2l-2.2 8.3l-8.3 -2.2zM1362.2 223.1l8.3 2.2l-2.2 8.3l-8.3 -2.2zM1360.1 231.1l8.3 2.2l-2.2 8.3l-8.3 -2.2zM1357.9 239.1l8.3 2.2l-2.2 8.3l-8.3 -2.2zM1355.8 247.1l8.3 2.2l-2.2 8.3l-8.3 -2.2zM1374.5 209.2l8.3 2.2l-2.2 8.3l-8.3 -2.2zM1372.4 217.2l8.3 2.2l-2.2 8.3l-8.3 -2.2zM1370.2 225.2l8.3 2.2l-2.2 8.3l-8.3 -2.2zM1368.1 233.3l8.3 2.2l-2.2 8.3l-8.3 -2.2zM1365.9 241.3l8.3 2.2l-2.2 8.3l-8.3 -2.2zM1363.8 249.3l8.3 2.2l-2.2 8.3l-8.3 -2.2zM1361.6 257.3l8.3 2.2l-2.2 8.3l-8.3 -2.2zM1373.9 243.4l8.3 2.2l-2.2 8.3l-8.3 -2.2zM1371.8 251.4l8.3 2.2l-2.2 8.3l-8.3 -2.2zM1369.6 259.5l8.3 2.2l-2.2 8.3l-8.3 -2.2zM1367.5 267.5l8.3 2.2l-2.2 8.3l-8.3 -2.2zM1373.4 277.6l8.3 2.2l-2.2 8.3l-8.3 -2.2z"/><path fill="#060608" d="M-7.7 273.7a3.13 3.13 0 1 0 6.26 0a3.13 3.13 0 1 0 -6.26 0M-9.6 281.8a2.88 2.88 0 1 0 5.75 0a2.88 2.88 0 1 0 -5.75 0M-11.5 289.8a2.63 2.63 0 1 0 5.26 0a2.63 2.63 0 1 0 -5.26 0M8.9 243.8a3.14 3.14 0 1 0 6.27 0a3.14 3.14 0 1 0 -6.27 0M7.1 251.8a2.78 2.78 0 1 0 5.56 0a2.78 2.78 0 1 0 -5.56 0M5.3 259.8a2.40 2.40 0 1 0 4.81 0a2.40 2.40 0 1 0 -4.81 0M3.4 267.9a2.19 2.19 0 1 0 4.37 0a2.19 2.19 0 1 0 -4.37 0M1.4 275.9a2.00 2.00 0 1 0 4.00 0a2.00 2.00 0 1 0 -4.00 0M-0.6 283.9a1.82 1.82 0 1 0 3.64 0a1.82 1.82 0 1 0 -3.64 0M-2.5 291.9a1.66 1.66 0 1 0 3.32 0a1.66 1.66 0 1 0 -3.32 0M-4.6 299.9a1.57 1.57 0 1 0 3.13 0a1.57 1.57 0 1 0 -3.13 0M-6.7 308.0a1.48 1.48 0 1 0 2.96 0a1.48 1.48 0 1 0 -2.96 0M-8.7 316.0a1.40 1.40 0 1 0 2.80 0a1.40 1.40 0 1 0 -2.80 0M-10.8 324.0a1.34 1.34 0 1 0 2.67 0a1.34 1.34 0 1 0 -2.67 0M23.4 221.9a3.06 3.06 0 1 0 6.13 0a3.06 3.06 0 1 0 -6.13 0M21.7 229.9a2.61 2.61 0 1 0 5.22 0a2.61 2.61 0 1 0 -5.22 0M19.9 237.9a2.23 2.23 0 1 0 4.45 0a2.23 2.23 0 1 0 -4.45 0M18.1 246.0a1.97 1.97 0 1 0 3.94 0a1.97 1.97 0 1 0 -3.94 0M16.2 254.0a1.70 1.70 0 1 0 3.41 0a1.70 1.70 0 1 0 -3.41 0M14.2 262.0a1.53 1.53 0 1 0 3.07 0a1.53 1.53 0 1 0 -3.07 0M12.2 270.0a1.37 1.37 0 1 0 2.74 0a1.37 1.37 0 1 0 -2.74 0M10.2 278.0a1.20 1.20 0 1 0 2.41 0a1.20 1.20 0 1 0 -2.41 0M8.2 286.0a1.05 1.05 0 1 0 2.10 0a1.05 1.05 0 1 0 -2.10 0M6.2 294.1a0.90 0.90 0 1 0 1.81 0a0.90 0.90 0 1 0 -1.81 0M4.2 302.1a0.76 0.76 0 1 0 1.51 0a0.76 0.76 0 1 0 -1.51 0M2.2 310.1a0.60 0.60 0 1 0 1.21 0a0.60 0.60 0 1 0 -1.21 0M0.2 318.1a0.45 0.45 0 1 0 0.89 0a0.45 0.45 0 1 0 -0.89 0M37.7 200.0a3.19 3.19 0 1 0 6.39 0a3.19 3.19 0 1 0 -6.39 0M36.1 208.0a2.67 2.67 0 1 0 5.34 0a2.67 2.67 0 1 0 -5.34 0M34.4 216.0a2.21 2.21 0 1 0 4.42 0a2.21 2.21 0 1 0 -4.42 0M32.6 224.1a1.89 1.89 0 1 0 3.79 0a1.89 1.89 0 1 0 -3.79 0M30.7 232.1a1.60 1.60 0 1 0 3.21 0a1.60 1.60 0 1 0 -3.21 0M28.8 240.1a1.38 1.38 0 1 0 2.76 0a1.38 1.38 0 1 0 -2.76 0M26.9 248.1a1.14 1.14 0 1 0 2.28 0a1.14 1.14 0 1 0 -2.28 0M25.0 256.1a0.91 0.91 0 1 0 1.81 0a0.91 0.91 0 1 0 -1.81 0M23.1 264.1a0.62 0.62 0 1 0 1.24 0a0.62 0.62 0 1 0 -1.24 0M50.3 186.1a2.97 2.97 0 1 0 5.94 0a2.97 2.97 0 1 0 -5.94 0M48.8 194.1a2.34 2.34 0 1 0 4.67 0a2.34 2.34 0 1 0 -4.67 0M47.0 202.2a1.98 1.98 0 1 0 3.96 0a1.98 1.98 0 1 0 -3.96 0M45.2 210.2a1.62 1.62 0 1 0 3.24 0a1.62 1.62 0 1 0 -3.24 0M43.3 218.2a1.35 1.35 0 1 0 2.70 0a1.35 1.35 0 1 0 -2.70 0M41.4 226.2a1.05 1.05 0 1 0 2.10 0a1.05 1.05 0 1 0 -2.10 0M39.6 234.2a0.71 0.71 0 1 0 1.42 0a0.71 0.71 0 1 0 -1.42 0M62.7 172.2a2.83 2.83 0 1 0 5.66 0a2.83 2.83 0 1 0 -5.66 0M61.2 180.3a2.22 2.22 0 1 0 4.44 0a2.22 2.22 0 1 0 -4.44 0M59.5 188.3a1.80 1.80 0 1 0 3.59 0a1.80 1.80 0 1 0 -3.59 0M57.7 196.3a1.46 1.46 0 1 0 2.92 0a1.46 1.46 0 1 0 -2.92 0M55.8 204.3a1.12 1.12 0 1 0 2.23 0a1.12 1.12 0 1 0 -2.23 0M54.1 212.3a0.72 0.72 0 1 0 1.44 0a0.72 0.72 0 1 0 -1.44 0M75.1 158.3a2.80 2.80 0 1 0 5.60 0a2.80 2.80 0 1 0 -5.60 0M73.6 166.4a2.16 2.16 0 1 0 4.33 0a2.16 2.16 0 1 0 -4.33 0M71.9 174.4a1.68 1.68 0 1 0 3.37 0a1.68 1.68 0 1 0 -3.37 0M70.1 182.4a1.34 1.34 0 1 0 2.68 0a1.34 1.34 0 1 0 -2.68 0M68.3 190.4a0.94 0.94 0 1 0 1.88 0a0.94 0.94 0 1 0 -1.88 0M87.3 144.5a2.88 2.88 0 1 0 5.76 0a2.88 2.88 0 1 0 -5.76 0M85.9 152.5a2.18 2.18 0 1 0 4.36 0a2.18 2.18 0 1 0 -4.36 0M84.2 160.5a1.67 1.67 0 1 0 3.34 0a1.67 1.67 0 1 0 -3.34 0M82.5 168.5a1.29 1.29 0 1 0 2.57 0a1.29 1.29 0 1 0 -2.57 0M80.8 176.5a0.82 0.82 0 1 0 1.65 0a0.82 0.82 0 1 0 -1.65 0M99.4 130.6a3.07 3.07 0 1 0 6.13 0a3.07 3.07 0 1 0 -6.13 0M98.1 138.6a2.27 2.27 0 1 0 4.53 0a2.27 2.27 0 1 0 -4.53 0M96.5 146.6a1.72 1.72 0 1 0 3.45 0a1.72 1.72 0 1 0 -3.45 0M94.7 154.6a1.30 1.30 0 1 0 2.61 0a1.30 1.30 0 1 0 -2.61 0M93.1 162.6a0.80 0.80 0 1 0 1.59 0a0.80 0.80 0 1 0 -1.59 0M110.2 124.7a2.49 2.49 0 1 0 4.98 0a2.49 2.49 0 1 0 -4.98 0M108.6 132.7a1.88 1.88 0 1 0 3.75 0a1.88 1.88 0 1 0 -3.75 0M107.0 140.7a1.39 1.39 0 1 0 2.78 0a1.39 1.39 0 1 0 -2.78 0M105.3 148.8a0.87 0.87 0 1 0 1.74 0a0.87 0.87 0 1 0 -1.74 0M122.1 110.8a2.88 2.88 0 1 0 5.77 0a2.88 2.88 0 1 0 -5.77 0M120.7 118.8a2.10 2.10 0 1 0 4.19 0a2.10 2.10 0 1 0 -4.19 0M119.1 126.9a1.53 1.53 0 1 0 3.07 0a1.53 1.53 0 1 0 -3.07 0M117.5 134.9a1.02 1.02 0 1 0 2.04 0a1.02 1.02 0 1 0 -2.04 0M132.8 105.0a2.38 2.38 0 1 0 4.77 0a2.38 2.38 0 1 0 -4.77 0M131.2 113.0a1.75 1.75 0 1 0 3.49 0a1.75 1.75 0 1 0 -3.49 0M129.6 121.0a1.24 1.24 0 1 0 2.47 0a1.24 1.24 0 1 0 -2.47 0M128.2 129.0a0.54 0.54 0 1 0 1.08 0a0.54 0.54 0 1 0 -1.08 0M144.5 91.1a2.96 2.96 0 1 0 5.93 0a2.96 2.96 0 1 0 -5.93 0M143.2 99.1a2.10 2.10 0 1 0 4.20 0a2.10 2.10 0 1 0 -4.20 0M141.7 107.1a1.50 1.50 0 1 0 3.00 0a1.50 1.50 0 1 0 -3.00 0M140.1 115.1a0.92 0.92 0 1 0 1.83 0a0.92 0.92 0 1 0 -1.83 0M155.0 85.2a2.59 2.59 0 1 0 5.19 0a2.59 2.59 0 1 0 -5.19 0M153.6 93.2a1.83 1.83 0 1 0 3.66 0a1.83 1.83 0 1 0 -3.66 0M152.1 101.2a1.26 1.26 0 1 0 2.52 0a1.26 1.26 0 1 0 -2.52 0M150.7 109.2a0.48 0.48 0 1 0 0.97 0a0.48 0.48 0 1 0 -0.97 0M166.6 71.3a3.29 3.29 0 1 0 6.58 0a3.29 3.29 0 1 0 -6.58 0M165.5 79.3a2.28 2.28 0 1 0 4.56 0a2.28 2.28 0 1 0 -4.56 0M164.0 87.3a1.61 1.61 0 1 0 3.22 0a1.61 1.61 0 1 0 -3.22 0M162.5 95.4a1.02 1.02 0 1 0 2.03 0a1.02 1.02 0 1 0 -2.03 0M177.0 65.4a3.06 3.06 0 1 0 6.11 0a3.06 3.06 0 1 0 -6.11 0M175.8 73.5a2.10 2.10 0 1 0 4.21 0a2.10 2.10 0 1 0 -4.21 0M174.4 81.5a1.45 1.45 0 1 0 2.90 0a1.45 1.45 0 1 0 -2.90 0M172.9 89.5a0.76 0.76 0 1 0 1.52 0a0.76 0.76 0 1 0 -1.52 0M187.4 59.6a2.84 2.84 0 1 0 5.69 0a2.84 2.84 0 1 0 -5.69 0M186.2 67.6a1.94 1.94 0 1 0 3.88 0a1.94 1.94 0 1 0 -3.88 0M184.7 75.6a1.29 1.29 0 1 0 2.59 0a1.29 1.29 0 1 0 -2.59 0M183.4 83.6a0.42 0.42 0 1 0 0.84 0a0.42 0.42 0 1 0 -0.84 0M197.8 53.7a2.65 2.65 0 1 0 5.31 0a2.65 2.65 0 1 0 -5.31 0M196.5 61.7a1.79 1.79 0 1 0 3.58 0a1.79 1.79 0 1 0 -3.58 0M195.0 69.7a1.14 1.14 0 1 0 2.29 0a1.14 1.14 0 1 0 -2.29 0M208.1 47.8a2.50 2.50 0 1 0 4.99 0a2.50 2.50 0 1 0 -4.99 0M206.8 55.9a1.67 1.67 0 1 0 3.34 0a1.67 1.67 0 1 0 -3.34 0M205.3 63.9a1.03 1.03 0 1 0 2.05 0a1.03 1.03 0 1 0 -2.05 0M218.4 42.0a2.38 2.38 0 1 0 4.75 0a2.38 2.38 0 1 0 -4.75 0M217.0 50.0a1.61 1.61 0 1 0 3.22 0a1.61 1.61 0 1 0 -3.22 0M215.5 58.0a0.92 0.92 0 1 0 1.85 0a0.92 0.92 0 1 0 -1.85 0M228.6 36.1a2.32 2.32 0 1 0 4.64 0a2.32 2.32 0 1 0 -4.64 0M227.2 44.1a1.57 1.57 0 1 0 3.14 0a1.57 1.57 0 1 0 -3.14 0M225.8 52.1a0.84 0.84 0 1 0 1.68 0a0.84 0.84 0 1 0 -1.68 0M238.8 30.2a2.30 2.30 0 1 0 4.61 0a2.30 2.30 0 1 0 -4.61 0M237.4 38.2a1.54 1.54 0 1 0 3.09 0a1.54 1.54 0 1 0 -3.09 0M236.0 46.3a0.79 0.79 0 1 0 1.57 0a0.79 0.79 0 1 0 -1.57 0M248.9 24.4a2.31 2.31 0 1 0 4.62 0a2.31 2.31 0 1 0 -4.62 0M247.6 32.4a1.54 1.54 0 1 0 3.08 0a1.54 1.54 0 1 0 -3.08 0M246.2 40.4a0.76 0.76 0 1 0 1.53 0a0.76 0.76 0 1 0 -1.53 0M259.1 18.5a2.34 2.34 0 1 0 4.67 0a2.34 2.34 0 1 0 -4.67 0M257.7 26.5a1.56 1.56 0 1 0 3.11 0a1.56 1.56 0 1 0 -3.11 0M256.4 34.5a0.77 0.77 0 1 0 1.55 0a0.77 0.77 0 1 0 -1.55 0M269.2 12.6a2.43 2.43 0 1 0 4.86 0a2.43 2.43 0 1 0 -4.86 0M267.8 20.6a1.59 1.59 0 1 0 3.18 0a1.59 1.59 0 1 0 -3.18 0M266.5 28.7a0.82 0.82 0 1 0 1.63 0a0.82 0.82 0 1 0 -1.63 0M279.2 6.8a2.57 2.57 0 1 0 5.14 0a2.57 2.57 0 1 0 -5.14 0M278.0 14.8a1.64 1.64 0 1 0 3.28 0a1.64 1.64 0 1 0 -3.28 0M276.6 22.8a0.89 0.89 0 1 0 1.78 0a0.89 0.89 0 1 0 -1.78 0M289.2 0.9a2.73 2.73 0 1 0 5.47 0a2.73 2.73 0 1 0 -5.47 0M288.0 8.9a1.72 1.72 0 1 0 3.44 0a1.72 1.72 0 1 0 -3.44 0M286.6 16.9a0.98 0.98 0 1 0 1.96 0a0.98 0.98 0 1 0 -1.96 0M299.2 -5.0a2.92 2.92 0 1 0 5.85 0a2.92 2.92 0 1 0 -5.85 0M298.1 3.0a1.85 1.85 0 1 0 3.71 0a1.85 1.85 0 1 0 -3.71 0M296.7 11.0a1.09 1.09 0 1 0 2.17 0a1.09 1.09 0 1 0 -2.17 0M308.1 -2.8a2.00 2.00 0 1 0 4.01 0a2.00 2.00 0 1 0 -4.01 0M306.7 5.2a1.21 1.21 0 1 0 2.42 0a1.21 1.21 0 1 0 -2.42 0M318.1 -8.7a2.16 2.16 0 1 0 4.33 0a2.16 2.16 0 1 0 -4.33 0M316.8 -0.7a1.35 1.35 0 1 0 2.71 0a1.35 1.35 0 1 0 -2.71 0M326.8 -6.6a1.50 1.50 0 1 0 3.00 0a1.50 1.50 0 1 0 -3.00 0M325.6 1.5a0.57 0.57 0 1 0 1.14 0a0.57 0.57 0 1 0 -1.14 0M335.5 -4.4a0.85 0.85 0 1 0 1.69 0a0.85 0.85 0 1 0 -1.69 0M989.8 -9.5a0.96 0.96 0 1 0 1.92 0a0.96 0.96 0 1 0 -1.92 0M997.7 -7.4a1.04 1.04 0 1 0 2.07 0a1.04 1.04 0 1 0 -2.07 0M1005.6 -5.2a1.12 1.12 0 1 0 2.24 0a1.12 1.12 0 1 0 -2.24 0M1013.6 -3.1a1.22 1.22 0 1 0 2.43 0a1.22 1.22 0 1 0 -2.43 0M1022.6 -8.9a2.29 2.29 0 1 0 4.57 0a2.29 2.29 0 1 0 -4.57 0M1021.5 -0.9a1.32 1.32 0 1 0 2.64 0a1.32 1.32 0 1 0 -2.64 0M1030.5 -6.8a2.45 2.45 0 1 0 4.90 0a2.45 2.45 0 1 0 -4.90 0M1029.4 1.2a1.42 1.42 0 1 0 2.85 0a1.42 1.42 0 1 0 -2.85 0M1038.3 -4.6a2.67 2.67 0 1 0 5.35 0a2.67 2.67 0 1 0 -5.35 0M1037.3 3.4a1.53 1.53 0 1 0 3.06 0a1.53 1.53 0 1 0 -3.06 0M1046.1 -2.5a2.90 2.90 0 1 0 5.79 0a2.90 2.90 0 1 0 -5.79 0M1045.2 5.5a1.64 1.64 0 1 0 3.28 0a1.64 1.64 0 1 0 -3.28 0M1044.1 13.5a0.57 0.57 0 1 0 1.15 0a0.57 0.57 0 1 0 -1.15 0M1053.9 -0.3a3.12 3.12 0 1 0 6.24 0a3.12 3.12 0 1 0 -6.24 0M1053.1 7.7a1.79 1.79 0 1 0 3.57 0a1.79 1.79 0 1 0 -3.57 0M1051.9 15.7a0.80 0.80 0 1 0 1.60 0a0.80 0.80 0 1 0 -1.60 0M1060.9 9.8a1.97 1.97 0 1 0 3.94 0a1.97 1.97 0 1 0 -3.94 0M1059.7 17.8a0.99 0.99 0 1 0 1.98 0a0.99 0.99 0 1 0 -1.98 0M1068.7 12.0a2.15 2.15 0 1 0 4.29 0a2.15 2.15 0 1 0 -4.29 0M1067.6 20.0a1.16 1.16 0 1 0 2.32 0a1.16 1.16 0 1 0 -2.32 0M1076.6 14.1a2.32 2.32 0 1 0 4.64 0a2.32 2.32 0 1 0 -4.64 0M1075.4 22.1a1.34 1.34 0 1 0 2.68 0a1.34 1.34 0 1 0 -2.68 0M1084.3 16.3a2.65 2.65 0 1 0 5.30 0a2.65 2.65 0 1 0 -5.30 0M1083.3 24.3a1.51 1.51 0 1 0 3.02 0a1.51 1.51 0 1 0 -3.02 0M1092.0 18.4a2.98 2.98 0 1 0 5.95 0a2.98 2.98 0 1 0 -5.95 0M1091.1 26.4a1.67 1.67 0 1 0 3.34 0a1.67 1.67 0 1 0 -3.34 0M1090.0 34.5a0.63 0.63 0 1 0 1.26 0a0.63 0.63 0 1 0 -1.26 0M1099.7 20.6a3.29 3.29 0 1 0 6.57 0a3.29 3.29 0 1 0 -6.57 0M1098.9 28.6a1.92 1.92 0 1 0 3.83 0a1.92 1.92 0 1 0 -3.83 0M1097.7 36.6a0.93 0.93 0 1 0 1.85 0a0.93 0.93 0 1 0 -1.85 0M1106.7 30.7a2.16 2.16 0 1 0 4.31 0a2.16 2.16 0 1 0 -4.31 0M1105.5 38.8a1.16 1.16 0 1 0 2.33 0a1.16 1.16 0 1 0 -2.33 0M1114.4 32.9a2.43 2.43 0 1 0 4.86 0a2.43 2.43 0 1 0 -4.86 0M1113.3 40.9a1.40 1.40 0 1 0 2.80 0a1.40 1.40 0 1 0 -2.80 0M1122.0 35.0a2.86 2.86 0 1 0 5.72 0a2.86 2.86 0 1 0 -5.72 0M1121.1 43.0a1.61 1.61 0 1 0 3.22 0a1.61 1.61 0 1 0 -3.22 0M1120.1 51.1a0.47 0.47 0 1 0 0.93 0a0.47 0.47 0 1 0 -0.93 0M1129.6 37.2a3.25 3.25 0 1 0 6.50 0a3.25 3.25 0 1 0 -6.50 0M1128.8 45.2a1.88 1.88 0 1 0 3.76 0a1.88 1.88 0 1 0 -3.76 0M1127.7 53.2a0.89 0.89 0 1 0 1.78 0a0.89 0.89 0 1 0 -1.78 0M1136.6 47.3a2.18 2.18 0 1 0 4.35 0a2.18 2.18 0 1 0 -4.35 0M1135.4 55.4a1.18 1.18 0 1 0 2.36 0a1.18 1.18 0 1 0 -2.36 0M1144.2 49.5a2.56 2.56 0 1 0 5.12 0a2.56 2.56 0 1 0 -5.12 0M1143.2 57.5a1.46 1.46 0 1 0 2.92 0a1.46 1.46 0 1 0 -2.92 0M1151.7 51.6a3.04 3.04 0 1 0 6.09 0a3.04 3.04 0 1 0 -6.09 0M1150.9 59.7a1.71 1.71 0 1 0 3.42 0a1.71 1.71 0 1 0 -3.42 0M1149.8 67.7a0.69 0.69 0 1 0 1.39 0a0.69 0.69 0 1 0 -1.39 0M1158.6 61.8a2.07 2.07 0 1 0 4.14 0a2.07 2.07 0 1 0 -4.14 0M1157.4 69.8a1.08 1.08 0 1 0 2.16 0a1.08 1.08 0 1 0 -2.16 0M1166.2 64.0a2.44 2.44 0 1 0 4.88 0a2.44 2.44 0 1 0 -4.88 0M1165.1 72.0a1.40 1.40 0 1 0 2.81 0a1.40 1.40 0 1 0 -2.81 0M1173.7 66.1a3.01 3.01 0 1 0 6.02 0a3.01 3.01 0 1 0 -6.02 0M1172.9 74.1a1.69 1.69 0 1 0 3.37 0a1.69 1.69 0 1 0 -3.37 0M1171.7 82.1a0.67 0.67 0 1 0 1.33 0a0.67 0.67 0 1 0 -1.33 0M1180.5 76.3a2.09 2.09 0 1 0 4.19 0a2.09 2.09 0 1 0 -4.19 0M1179.3 84.3a1.10 1.10 0 1 0 2.21 0a1.10 1.10 0 1 0 -2.21 0M1188.0 78.4a2.55 2.55 0 1 0 5.11 0a2.55 2.55 0 1 0 -5.11 0M1187.0 86.4a1.46 1.46 0 1 0 2.93 0a1.46 1.46 0 1 0 -2.93 0M1195.4 80.6a3.16 3.16 0 1 0 6.32 0a3.16 3.16 0 1 0 -6.32 0M1194.6 88.6a1.82 1.82 0 1 0 3.64 0a1.82 1.82 0 1 0 -3.64 0M1193.5 96.6a0.84 0.84 0 1 0 1.67 0a0.84 0.84 0 1 0 -1.67 0M1202.2 90.7a2.24 2.24 0 1 0 4.49 0a2.24 2.24 0 1 0 -4.49 0M1201.0 98.7a1.27 1.27 0 1 0 2.54 0a1.27 1.27 0 1 0 -2.54 0M1209.6 92.9a2.88 2.88 0 1 0 5.75 0a2.88 2.88 0 1 0 -5.75 0M1208.7 100.9a1.63 1.63 0 1 0 3.26 0a1.63 1.63 0 1 0 -3.26 0M1207.6 108.9a0.57 0.57 0 1 0 1.14 0a0.57 0.57 0 1 0 -1.14 0M1216.3 103.0a2.09 2.09 0 1 0 4.19 0a2.09 2.09 0 1 0 -4.19 0M1215.1 111.1a1.12 1.12 0 1 0 2.24 0a1.12 1.12 0 1 0 -2.24 0M1223.7 105.2a2.68 2.68 0 1 0 5.36 0a2.68 2.68 0 1 0 -5.36 0M1222.7 113.2a1.54 1.54 0 1 0 3.08 0a1.54 1.54 0 1 0 -3.08 0M1230.2 115.4a2.01 2.01 0 1 0 4.01 0a2.01 2.01 0 1 0 -4.01 0M1229.0 123.4a1.05 1.05 0 1 0 2.10 0a1.05 1.05 0 1 0 -2.10 0M1237.7 117.5a2.59 2.59 0 1 0 5.18 0a2.59 2.59 0 1 0 -5.18 0M1236.6 125.5a1.51 1.51 0 1 0 3.02 0a1.51 1.51 0 1 0 -3.02 0M1244.1 127.7a2.00 2.00 0 1 0 3.99 0a2.00 2.00 0 1 0 -3.99 0M1242.9 135.7a1.06 1.06 0 1 0 2.11 0a1.06 1.06 0 1 0 -2.11 0M1251.5 129.8a2.62 2.62 0 1 0 5.25 0a2.62 2.62 0 1 0 -5.25 0M1250.4 137.8a1.54 1.54 0 1 0 3.07 0a1.54 1.54 0 1 0 -3.07 0M1249.4 145.9a0.39 0.39 0 1 0 0.78 0a0.39 0.39 0 1 0 -0.78 0M1257.9 140.0a2.06 2.06 0 1 0 4.13 0a2.06 2.06 0 1 0 -4.13 0M1256.7 148.0a1.14 1.14 0 1 0 2.27 0a1.14 1.14 0 1 0 -2.27 0M1265.2 142.1a2.78 2.78 0 1 0 5.56 0a2.78 2.78 0 1 0 -5.56 0M1264.2 150.1a1.63 1.63 0 1 0 3.25 0a1.63 1.63 0 1 0 -3.25 0M1263.1 158.2a0.66 0.66 0 1 0 1.32 0a0.66 0.66 0 1 0 -1.32 0M1271.7 152.3a2.21 2.21 0 1 0 4.42 0a2.21 2.21 0 1 0 -4.42 0M1270.4 160.3a1.30 1.30 0 1 0 2.60 0a1.30 1.30 0 1 0 -2.60 0M1278.9 154.4a3.04 3.04 0 1 0 6.09 0a3.04 3.04 0 1 0 -6.09 0M1277.9 162.5a1.82 1.82 0 1 0 3.64 0a1.82 1.82 0 1 0 -3.64 0M1276.7 170.5a0.95 0.95 0 1 0 1.89 0a0.95 0.95 0 1 0 -1.89 0M1285.3 164.6a2.49 2.49 0 1 0 4.97 0a2.49 2.49 0 1 0 -4.97 0M1284.1 172.6a1.52 1.52 0 1 0 3.03 0a1.52 1.52 0 1 0 -3.03 0M1283.0 180.6a0.47 0.47 0 1 0 0.95 0a0.47 0.47 0 1 0 -0.95 0M1291.5 174.8a2.12 2.12 0 1 0 4.23 0a2.12 2.12 0 1 0 -4.23 0M1290.2 182.8a1.25 1.25 0 1 0 2.50 0a1.25 1.25 0 1 0 -2.50 0M1298.7 176.9a2.97 2.97 0 1 0 5.95 0a2.97 2.97 0 1 0 -5.95 0M1297.7 184.9a1.82 1.82 0 1 0 3.63 0a1.82 1.82 0 1 0 -3.63 0M1296.4 193.0a0.99 0.99 0 1 0 1.98 0a0.99 0.99 0 1 0 -1.98 0M1305.0 187.1a2.55 2.55 0 1 0 5.10 0a2.55 2.55 0 1 0 -5.10 0M1303.8 195.1a1.58 1.58 0 1 0 3.17 0a1.58 1.58 0 1 0 -3.17 0M1302.5 203.1a0.71 0.71 0 1 0 1.42 0a0.71 0.71 0 1 0 -1.42 0M1311.2 197.3a2.24 2.24 0 1 0 4.48 0a2.24 2.24 0 1 0 -4.48 0M1309.8 205.3a1.41 1.41 0 1 0 2.82 0a1.41 1.41 0 1 0 -2.82 0M1318.2 199.4a3.21 3.21 0 1 0 6.42 0a3.21 3.21 0 1 0 -6.42 0M1317.2 207.4a2.05 2.05 0 1 0 4.10 0a2.05 2.05 0 1 0 -4.10 0M1315.9 215.4a1.26 1.26 0 1 0 2.51 0a1.26 1.26 0 1 0 -2.51 0M1324.3 209.6a2.96 2.96 0 1 0 5.91 0a2.96 2.96 0 1 0 -5.91 0M1323.3 217.6a1.88 1.88 0 1 0 3.77 0a1.88 1.88 0 1 0 -3.77 0M1321.9 225.6a1.12 1.12 0 1 0 2.25 0a1.12 1.12 0 1 0 -2.25 0M1330.4 219.7a2.74 2.74 0 1 0 5.48 0a2.74 2.74 0 1 0 -5.48 0M1329.3 227.8a1.75 1.75 0 1 0 3.50 0a1.75 1.75 0 1 0 -3.50 0M1327.8 235.8a1.04 1.04 0 1 0 2.07 0a1.04 1.04 0 1 0 -2.07 0M1336.5 229.9a2.57 2.57 0 1 0 5.13 0a2.57 2.57 0 1 0 -5.13 0M1335.2 237.9a1.67 1.67 0 1 0 3.33 0a1.67 1.67 0 1 0 -3.33 0M1333.7 245.9a0.98 0.98 0 1 0 1.96 0a0.98 0.98 0 1 0 -1.96 0M1342.4 240.1a2.45 2.45 0 1 0 4.90 0a2.45 2.45 0 1 0 -4.90 0M1341.1 248.1a1.64 1.64 0 1 0 3.27 0a1.64 1.64 0 1 0 -3.27 0M1339.6 256.1a0.97 0.97 0 1 0 1.94 0a0.97 0.97 0 1 0 -1.94 0M1348.4 250.2a2.40 2.40 0 1 0 4.79 0a2.40 2.40 0 1 0 -4.79 0M1347.0 258.2a1.64 1.64 0 1 0 3.27 0a1.64 1.64 0 1 0 -3.27 0M1345.5 266.3a1.00 1.00 0 1 0 1.99 0a1.00 1.00 0 1 0 -1.99 0M1354.2 260.4a2.41 2.41 0 1 0 4.82 0a2.41 2.41 0 1 0 -4.82 0M1352.8 268.4a1.66 1.66 0 1 0 3.32 0a1.66 1.66 0 1 0 -3.32 0M1351.3 276.4a1.06 1.06 0 1 0 2.12 0a1.06 1.06 0 1 0 -2.12 0M1360.0 270.6a2.48 2.48 0 1 0 4.97 0a2.48 2.48 0 1 0 -4.97 0M1358.6 278.6a1.73 1.73 0 1 0 3.46 0a1.73 1.73 0 1 0 -3.46 0M1357.0 286.6a1.16 1.16 0 1 0 2.32 0a1.16 1.16 0 1 0 -2.32 0M1365.8 280.7a2.61 2.61 0 1 0 5.23 0a2.61 2.61 0 1 0 -5.23 0M1364.4 288.7a1.85 1.85 0 1 0 3.71 0a1.85 1.85 0 1 0 -3.71 0M1362.8 296.8a1.29 1.29 0 1 0 2.59 0a1.29 1.29 0 1 0 -2.59 0M1361.3 304.8a0.61 0.61 0 1 0 1.22 0a0.61 0.61 0 1 0 -1.22 0M1371.4 290.9a2.79 2.79 0 1 0 5.58 0a2.79 2.79 0 1 0 -5.58 0M1370.1 298.9a2.00 2.00 0 1 0 4.01 0a2.00 2.00 0 1 0 -4.01 0M1368.5 306.9a1.44 1.44 0 1 0 2.89 0a1.44 1.44 0 1 0 -2.89 0M1366.9 314.9a0.89 0.89 0 1 0 1.78 0a0.89 0.89 0 1 0 -1.78 0M1375.8 309.1a2.17 2.17 0 1 0 4.35 0a2.17 2.17 0 1 0 -4.35 0M1374.2 317.1a1.60 1.60 0 1 0 3.21 0a1.60 1.60 0 1 0 -3.21 0M1372.5 325.1a1.13 1.13 0 1 0 2.26 0a1.13 1.13 0 1 0 -2.26 0M1371.1 333.1a0.45 0.45 0 1 0 0.90 0a0.45 0.45 0 1 0 -0.90 0"/><path fill="#f4f4f4" d="M-8.8 -2.1a0.79 0.79 0 1 0 1.57 0a0.79 0.79 0 1 0 -1.57 0M1.4 -8.0a0.79 0.79 0 1 0 1.58 0a0.79 0.79 0 1 0 -1.58 0M-0.8 0.0a0.79 0.79 0 1 0 1.58 0a0.79 0.79 0 1 0 -1.58 0M-2.9 8.0a0.79 0.79 0 1 0 1.58 0a0.79 0.79 0 1 0 -1.58 0M-5.1 16.0a0.79 0.79 0 1 0 1.59 0a0.79 0.79 0 1 0 -1.59 0M-7.2 24.1a0.80 0.80 0 1 0 1.59 0a0.80 0.80 0 1 0 -1.59 0M-9.4 32.1a0.80 0.80 0 1 0 1.60 0a0.80 0.80 0 1 0 -1.60 0M9.4 -5.9a0.79 0.79 0 1 0 1.58 0a0.79 0.79 0 1 0 -1.58 0M7.2 2.1a0.79 0.79 0 1 0 1.59 0a0.79 0.79 0 1 0 -1.59 0M5.1 10.2a0.80 0.80 0 1 0 1.59 0a0.80 0.80 0 1 0 -1.59 0M2.9 18.2a0.80 0.80 0 1 0 1.60 0a0.80 0.80 0 1 0 -1.60 0M0.8 26.2a0.80 0.80 0 1 0 1.60 0a0.80 0.80 0 1 0 -1.60 0M-1.4 34.2a0.80 0.80 0 1 0 1.60 0a0.80 0.80 0 1 0 -1.60 0M-3.5 42.2a0.80 0.80 0 1 0 1.61 0a0.80 0.80 0 1 0 -1.61 0M-5.7 50.3a0.81 0.81 0 1 0 1.61 0a0.81 0.81 0 1 0 -1.61 0M-7.8 58.3a0.81 0.81 0 1 0 1.62 0a0.81 0.81 0 1 0 -1.62 0M-10.0 66.3a0.81 0.81 0 1 0 1.62 0a0.81 0.81 0 1 0 -1.62 0M17.4 -3.7a0.79 0.79 0 1 0 1.59 0a0.79 0.79 0 1 0 -1.59 0M15.2 4.3a0.80 0.80 0 1 0 1.59 0a0.80 0.80 0 1 0 -1.59 0M13.1 12.3a0.80 0.80 0 1 0 1.60 0a0.80 0.80 0 1 0 -1.60 0M10.9 20.3a0.80 0.80 0 1 0 1.60 0a0.80 0.80 0 1 0 -1.60 0M8.8 28.3a0.80 0.80 0 1 0 1.61 0a0.80 0.80 0 1 0 -1.61 0M6.6 36.4a0.81 0.81 0 1 0 1.61 0a0.81 0.81 0 1 0 -1.61 0M4.5 44.4a0.81 0.81 0 1 0 1.61 0a0.81 0.81 0 1 0 -1.61 0M2.3 52.4a0.81 0.81 0 1 0 1.62 0a0.81 0.81 0 1 0 -1.62 0M0.2 60.4a0.82 0.82 0 1 0 1.63 0a0.82 0.82 0 1 0 -1.63 0M-2.0 68.4a0.87 0.87 0 1 0 1.74 0a0.87 0.87 0 1 0 -1.74 0M-4.2 76.5a0.92 0.92 0 1 0 1.83 0a0.92 0.92 0 1 0 -1.83 0M-6.4 84.5a0.96 0.96 0 1 0 1.92 0a0.96 0.96 0 1 0 -1.92 0M-8.6 92.5a1.00 1.00 0 1 0 2.00 0a1.00 1.00 0 1 0 -2.00 0M-10.8 100.5a1.04 1.04 0 1 0 2.08 0a1.04 1.04 0 1 0 -2.08 0M27.6 -9.6a0.80 0.80 0 1 0 1.59 0a0.80 0.80 0 1 0 -1.59 0M25.4 -1.6a0.80 0.80 0 1 0 1.60 0a0.80 0.80 0 1 0 -1.60 0M23.3 6.4a0.80 0.80 0 1 0 1.60 0a0.80 0.80 0 1 0 -1.60 0M21.1 14.5a0.80 0.80 0 1 0 1.61 0a0.80 0.80 0 1 0 -1.61 0M19.0 22.5a0.80 0.80 0 1 0 1.61 0a0.80 0.80 0 1 0 -1.61 0M16.8 30.5a0.81 0.81 0 1 0 1.61 0a0.81 0.81 0 1 0 -1.61 0M14.6 38.5a0.81 0.81 0 1 0 1.62 0a0.81 0.81 0 1 0 -1.62 0M12.5 46.5a0.81 0.81 0 1 0 1.62 0a0.81 0.81 0 1 0 -1.62 0M10.3 54.5a0.86 0.86 0 1 0 1.72 0a0.86 0.86 0 1 0 -1.72 0M8.1 62.6a0.91 0.91 0 1 0 1.82 0a0.91 0.91 0 1 0 -1.82 0M5.9 70.6a0.96 0.96 0 1 0 1.91 0a0.96 0.96 0 1 0 -1.91 0M3.7 78.6a1.00 1.00 0 1 0 2.00 0a1.00 1.00 0 1 0 -2.00 0M1.5 86.6a1.04 1.04 0 1 0 2.08 0a1.04 1.04 0 1 0 -2.08 0M-0.7 94.6a1.08 1.08 0 1 0 2.16 0a1.08 1.08 0 1 0 -2.16 0M-2.8 102.7a1.12 1.12 0 1 0 2.23 0a1.12 1.12 0 1 0 -2.23 0M-5.0 110.7a1.15 1.15 0 1 0 2.30 0a1.15 1.15 0 1 0 -2.30 0M-7.2 118.7a1.19 1.19 0 1 0 2.39 0a1.19 1.19 0 1 0 -2.39 0M-9.4 126.7a1.24 1.24 0 1 0 2.47 0a1.24 1.24 0 1 0 -2.47 0M35.6 -7.4a0.80 0.80 0 1 0 1.60 0a0.80 0.80 0 1 0 -1.60 0M33.4 0.6a0.80 0.80 0 1 0 1.60 0a0.80 0.80 0 1 0 -1.60 0M31.3 8.6a0.80 0.80 0 1 0 1.61 0a0.80 0.80 0 1 0 -1.61 0M29.1 16.6a0.81 0.81 0 1 0 1.61 0a0.81 0.81 0 1 0 -1.61 0M27.0 24.6a0.81 0.81 0 1 0 1.62 0a0.81 0.81 0 1 0 -1.62 0M24.8 32.6a0.81 0.81 0 1 0 1.62 0a0.81 0.81 0 1 0 -1.62 0M22.6 40.7a0.84 0.84 0 1 0 1.69 0a0.84 0.84 0 1 0 -1.69 0M20.4 48.7a0.90 0.90 0 1 0 1.79 0a0.90 0.90 0 1 0 -1.79 0M18.2 56.7a0.95 0.95 0 1 0 1.89 0a0.95 0.95 0 1 0 -1.89 0M16.0 64.7a0.99 0.99 0 1 0 1.98 0a0.99 0.99 0 1 0 -1.98 0M13.8 72.7a1.03 1.03 0 1 0 2.07 0a1.03 1.03 0 1 0 -2.07 0M11.7 80.7a1.08 1.08 0 1 0 2.15 0a1.08 1.08 0 1 0 -2.15 0M9.5 88.8a1.11 1.11 0 1 0 2.23 0a1.11 1.11 0 1 0 -2.23 0M7.3 96.8a1.15 1.15 0 1 0 2.30 0a1.15 1.15 0 1 0 -2.30 0M5.1 104.8a1.20 1.20 0 1 0 2.40 0a1.20 1.20 0 1 0 -2.40 0M2.9 112.8a1.24 1.24 0 1 0 2.48 0a1.24 1.24 0 1 0 -2.48 0M0.7 120.8a1.28 1.28 0 1 0 2.57 0a1.28 1.28 0 1 0 -2.57 0M-1.5 128.9a1.32 1.32 0 1 0 2.64 0a1.32 1.32 0 1 0 -2.64 0M-3.7 136.9a1.36 1.36 0 1 0 2.72 0a1.36 1.36 0 1 0 -2.72 0M-5.8 144.9a1.39 1.39 0 1 0 2.79 0a1.39 1.39 0 1 0 -2.79 0M-8.0 152.9a1.43 1.43 0 1 0 2.85 0a1.43 1.43 0 1 0 -2.85 0M-10.2 160.9a1.46 1.46 0 1 0 2.92 0a1.46 1.46 0 1 0 -2.92 0M43.6 -5.3a0.80 0.80 0 1 0 1.61 0a0.80 0.80 0 1 0 -1.61 0M41.4 2.7a0.80 0.80 0 1 0 1.61 0a0.80 0.80 0 1 0 -1.61 0M39.3 10.7a0.81 0.81 0 1 0 1.61 0a0.81 0.81 0 1 0 -1.61 0M37.1 18.8a0.81 0.81 0 1 0 1.62 0a0.81 0.81 0 1 0 -1.62 0M35.0 26.8a0.82 0.82 0 1 0 1.64 0a0.82 0.82 0 1 0 -1.64 0M32.8 34.8a0.88 0.88 0 1 0 1.76 0a0.88 0.88 0 1 0 -1.76 0M30.6 42.8a0.93 0.93 0 1 0 1.86 0a0.93 0.93 0 1 0 -1.86 0M28.4 50.8a0.98 0.98 0 1 0 1.96 0a0.98 0.98 0 1 0 -1.96 0M26.2 58.8a1.02 1.02 0 1 0 2.05 0a1.02 1.02 0 1 0 -2.05 0M24.0 66.9a1.07 1.07 0 1 0 2.14 0a1.07 1.07 0 1 0 -2.14 0M21.8 74.9a1.11 1.11 0 1 0 2.22 0a1.11 1.11 0 1 0 -2.22 0M19.6 82.9a1.15 1.15 0 1 0 2.29 0a1.15 1.15 0 1 0 -2.29 0M17.4 90.9a1.20 1.20 0 1 0 2.39 0a1.20 1.20 0 1 0 -2.39 0M15.2 98.9a1.24 1.24 0 1 0 2.48 0a1.24 1.24 0 1 0 -2.48 0M13.0 106.9a1.29 1.29 0 1 0 2.57 0a1.29 1.29 0 1 0 -2.57 0M10.8 115.0a1.33 1.33 0 1 0 2.65 0a1.33 1.33 0 1 0 -2.65 0M8.6 123.0a1.37 1.37 0 1 0 2.73 0a1.37 1.37 0 1 0 -2.73 0M6.5 131.0a1.40 1.40 0 1 0 2.80 0a1.40 1.40 0 1 0 -2.80 0M4.3 139.0a1.44 1.44 0 1 0 2.87 0a1.44 1.44 0 1 0 -2.87 0M2.1 147.0a1.47 1.47 0 1 0 2.94 0a1.47 1.47 0 1 0 -2.94 0M-0.1 155.1a1.51 1.51 0 1 0 3.03 0a1.51 1.51 0 1 0 -3.03 0M-2.3 163.1a1.56 1.56 0 1 0 3.12 0a1.56 1.56 0 1 0 -3.12 0M-4.5 171.1a1.60 1.60 0 1 0 3.20 0a1.60 1.60 0 1 0 -3.20 0M-6.7 179.1a1.64 1.64 0 1 0 3.28 0a1.64 1.64 0 1 0 -3.28 0M-8.9 187.1a1.68 1.68 0 1 0 3.36 0a1.68 1.68 0 1 0 -3.36 0M-11.0 195.1a1.71 1.71 0 1 0 3.43 0a1.71 1.71 0 1 0 -3.43 0M51.6 -3.1a0.81 0.81 0 1 0 1.61 0a0.81 0.81 0 1 0 -1.61 0M49.4 4.9a0.81 0.81 0 1 0 1.62 0a0.81 0.81 0 1 0 -1.62 0M47.3 12.9a0.81 0.81 0 1 0 1.62 0a0.81 0.81 0 1 0 -1.62 0M45.1 20.9a0.85 0.85 0 1 0 1.71 0a0.85 0.85 0 1 0 -1.71 0M42.9 28.9a0.91 0.91 0 1 0 1.82 0a0.91 0.91 0 1 0 -1.82 0M40.7 36.9a0.96 0.96 0 1 0 1.92 0a0.96 0.96 0 1 0 -1.92 0M38.5 45.0a1.01 1.01 0 1 0 2.02 0a1.01 1.01 0 1 0 -2.02 0M36.3 53.0a1.05 1.05 0 1 0 2.11 0a1.05 1.05 0 1 0 -2.11 0M34.1 61.0a1.10 1.10 0 1 0 2.20 0a1.10 1.10 0 1 0 -2.20 0M31.9 69.0a1.14 1.14 0 1 0 2.28 0a1.14 1.14 0 1 0 -2.28 0M29.7 77.0a1.19 1.19 0 1 0 2.37 0a1.19 1.19 0 1 0 -2.37 0M27.5 85.0a1.24 1.24 0 1 0 2.47 0a1.24 1.24 0 1 0 -2.47 0M25.3 93.1a1.28 1.28 0 1 0 2.56 0a1.28 1.28 0 1 0 -2.56 0M23.1 101.1a1.33 1.33 0 1 0 2.65 0a1.33 1.33 0 1 0 -2.65 0M21.0 109.1a1.37 1.37 0 1 0 2.73 0a1.37 1.37 0 1 0 -2.73 0M18.8 117.1a1.41 1.41 0 1 0 2.81 0a1.41 1.41 0 1 0 -2.81 0M16.6 125.1a1.44 1.44 0 1 0 2.89 0a1.44 1.44 0 1 0 -2.89 0M14.4 133.1a1.48 1.48 0 1 0 2.96 0a1.48 1.48 0 1 0 -2.96 0M12.2 141.2a1.53 1.53 0 1 0 3.05 0a1.53 1.53 0 1 0 -3.05 0M10.0 149.2a1.57 1.57 0 1 0 3.15 0a1.57 1.57 0 1 0 -3.15 0M7.8 157.2a1.62 1.62 0 1 0 3.24 0a1.62 1.62 0 1 0 -3.24 0M5.6 165.2a1.66 1.66 0 1 0 3.33 0a1.66 1.66 0 1 0 -3.33 0M3.4 173.2a1.70 1.70 0 1 0 3.41 0a1.70 1.70 0 1 0 -3.41 0M1.2 181.3a1.74 1.74 0 1 0 3.48 0a1.74 1.74 0 1 0 -3.48 0M-1.0 189.3a1.82 1.82 0 1 0 3.64 0a1.82 1.82 0 1 0 -3.64 0M-3.2 197.3a1.91 1.91 0 1 0 3.82 0a1.91 1.91 0 1 0 -3.82 0M-5.4 205.3a1.99 1.99 0 1 0 3.99 0a1.99 1.99 0 1 0 -3.99 0M-7.7 213.3a2.07 2.07 0 1 0 4.14 0a2.07 2.07 0 1 0 -4.14 0M-9.9 221.3a2.14 2.14 0 1 0 4.28 0a2.14 2.14 0 1 0 -4.28 0M-12.1 229.4a2.21 2.21 0 1 0 4.42 0a2.21 2.21 0 1 0 -4.42 0M61.8 -9.0a0.81 0.81 0 1 0 1.61 0a0.81 0.81 0 1 0 -1.61 0M59.6 -1.0a0.81 0.81 0 1 0 1.62 0a0.81 0.81 0 1 0 -1.62 0M57.4 7.0a0.82 0.82 0 1 0 1.64 0a0.82 0.82 0 1 0 -1.64 0M55.2 15.0a0.88 0.88 0 1 0 1.76 0a0.88 0.88 0 1 0 -1.76 0M53.0 23.1a0.94 0.94 0 1 0 1.87 0a0.94 0.94 0 1 0 -1.87 0M50.8 31.1a0.99 0.99 0 1 0 1.98 0a0.99 0.99 0 1 0 -1.98 0M48.6 39.1a1.04 1.04 0 1 0 2.07 0a1.04 1.04 0 1 0 -2.07 0M46.4 47.1a1.08 1.08 0 1 0 2.17 0a1.08 1.08 0 1 0 -2.17 0M44.3 55.1a1.13 1.13 0 1 0 2.25 0a1.13 1.13 0 1 0 -2.25 0M42.1 63.1a1.17 1.17 0 1 0 2.35 0a1.17 1.17 0 1 0 -2.35 0M39.9 71.2a1.22 1.22 0 1 0 2.45 0a1.22 1.22 0 1 0 -2.45 0M37.7 79.2a1.27 1.27 0 1 0 2.55 0a1.27 1.27 0 1 0 -2.55 0M35.5 87.2a1.32 1.32 0 1 0 2.64 0a1.32 1.32 0 1 0 -2.64 0M33.3 95.2a1.36 1.36 0 1 0 2.72 0a1.36 1.36 0 1 0 -2.72 0M31.1 103.2a1.40 1.40 0 1 0 2.81 0a1.40 1.40 0 1 0 -2.81 0M28.9 111.2a1.44 1.44 0 1 0 2.89 0a1.44 1.44 0 1 0 -2.89 0M26.7 119.3a1.48 1.48 0 1 0 2.96 0a1.48 1.48 0 1 0 -2.96 0M24.5 127.3a1.53 1.53 0 1 0 3.07 0a1.53 1.53 0 1 0 -3.07 0M22.3 135.3a1.58 1.58 0 1 0 3.17 0a1.58 1.58 0 1 0 -3.17 0M20.1 143.3a1.63 1.63 0 1 0 3.26 0a1.63 1.63 0 1 0 -3.26 0M17.9 151.3a1.68 1.68 0 1 0 3.35 0a1.68 1.68 0 1 0 -3.35 0M15.7 159.3a1.72 1.72 0 1 0 3.44 0a1.72 1.72 0 1 0 -3.44 0M13.5 167.4a1.78 1.78 0 1 0 3.55 0a1.78 1.78 0 1 0 -3.55 0M11.3 175.4a1.88 1.88 0 1 0 3.76 0a1.88 1.88 0 1 0 -3.76 0M9.0 183.4a1.97 1.97 0 1 0 3.95 0a1.97 1.97 0 1 0 -3.95 0M6.8 191.4a2.06 2.06 0 1 0 4.12 0a2.06 2.06 0 1 0 -4.12 0M4.6 199.4a2.14 2.14 0 1 0 4.29 0a2.14 2.14 0 1 0 -4.29 0M2.3 207.4a2.22 2.22 0 1 0 4.44 0a2.22 2.22 0 1 0 -4.44 0M0.1 215.5a2.29 2.29 0 1 0 4.58 0a2.29 2.29 0 1 0 -4.58 0M-2.1 223.5a2.37 2.37 0 1 0 4.73 0a2.37 2.37 0 1 0 -4.73 0M-4.4 231.5a2.48 2.48 0 1 0 4.97 0a2.48 2.48 0 1 0 -4.97 0M-6.6 239.5a2.59 2.59 0 1 0 5.18 0a2.59 2.59 0 1 0 -5.18 0M-8.9 247.5a2.69 2.69 0 1 0 5.38 0a2.69 2.69 0 1 0 -5.38 0M-11.1 255.6a2.78 2.78 0 1 0 5.56 0a2.78 2.78 0 1 0 -5.56 0M69.8 -6.9a0.81 0.81 0 1 0 1.62 0a0.81 0.81 0 1 0 -1.62 0M67.6 1.2a0.85 0.85 0 1 0 1.70 0a0.85 0.85 0 1 0 -1.70 0M65.4 9.2a0.91 0.91 0 1 0 1.82 0a0.91 0.91 0 1 0 -1.82 0M63.2 17.2a0.96 0.96 0 1 0 1.93 0a0.96 0.96 0 1 0 -1.93 0M61.0 25.2a1.01 1.01 0 1 0 2.03 0a1.01 1.01 0 1 0 -2.03 0M58.8 33.2a1.06 1.06 0 1 0 2.12 0a1.06 1.06 0 1 0 -2.12 0M56.6 41.2a1.11 1.11 0 1 0 2.22 0a1.11 1.11 0 1 0 -2.22 0M54.4 49.3a1.15 1.15 0 1 0 2.30 0a1.15 1.15 0 1 0 -2.30 0M52.2 57.3a1.21 1.21 0 1 0 2.41 0a1.21 1.21 0 1 0 -2.41 0M50.0 65.3a1.26 1.26 0 1 0 2.52 0a1.26 1.26 0 1 0 -2.52 0M47.8 73.3a1.31 1.31 0 1 0 2.61 0a1.31 1.31 0 1 0 -2.61 0M45.6 81.3a1.35 1.35 0 1 0 2.70 0a1.35 1.35 0 1 0 -2.70 0M43.4 89.3a1.40 1.40 0 1 0 2.79 0a1.40 1.40 0 1 0 -2.79 0M41.2 97.4a1.44 1.44 0 1 0 2.88 0a1.44 1.44 0 1 0 -2.88 0M39.0 105.4a1.48 1.48 0 1 0 2.95 0a1.48 1.48 0 1 0 -2.95 0M36.8 113.4a1.53 1.53 0 1 0 3.06 0a1.53 1.53 0 1 0 -3.06 0M34.6 121.4a1.59 1.59 0 1 0 3.17 0a1.59 1.59 0 1 0 -3.17 0M32.4 129.4a1.64 1.64 0 1 0 3.27 0a1.64 1.64 0 1 0 -3.27 0M30.2 137.4a1.68 1.68 0 1 0 3.37 0a1.68 1.68 0 1 0 -3.37 0M28.0 145.5a1.73 1.73 0 1 0 3.46 0a1.73 1.73 0 1 0 -3.46 0M25.8 153.5a1.81 1.81 0 1 0 3.62 0a1.81 1.81 0 1 0 -3.62 0M23.6 161.5a1.92 1.92 0 1 0 3.83 0a1.92 1.92 0 1 0 -3.83 0M21.3 169.5a2.02 2.02 0 1 0 4.04 0a2.02 2.02 0 1 0 -4.04 0M19.1 177.5a2.11 2.11 0 1 0 4.22 0a2.11 2.11 0 1 0 -4.22 0M16.8 185.5a2.20 2.20 0 1 0 4.39 0a2.20 2.20 0 1 0 -4.39 0M14.6 193.6a2.28 2.28 0 1 0 4.55 0a2.28 2.28 0 1 0 -4.55 0M12.4 201.6a2.36 2.36 0 1 0 4.73 0a2.36 2.36 0 1 0 -4.73 0M10.1 209.6a2.50 2.50 0 1 0 5.00 0a2.50 2.50 0 1 0 -5.00 0M7.8 217.6a2.62 2.62 0 1 0 5.24 0a2.62 2.62 0 1 0 -5.24 0M5.5 225.6a2.74 2.74 0 1 0 5.47 0a2.74 2.74 0 1 0 -5.47 0M3.3 233.6a2.84 2.84 0 1 0 5.68 0a2.84 2.84 0 1 0 -5.68 0M1.0 241.7a2.95 2.95 0 1 0 5.91 0a2.95 2.95 0 1 0 -5.91 0M-1.2 249.7a3.07 3.07 0 1 0 6.15 0a3.07 3.07 0 1 0 -6.15 0M-3.5 257.7a3.18 3.18 0 1 0 6.37 0a3.18 3.18 0 1 0 -6.37 0M-5.7 265.7a3.28 3.28 0 1 0 6.57 0a3.28 3.28 0 1 0 -6.57 0M77.7 -4.7a0.87 0.87 0 1 0 1.74 0a0.87 0.87 0 1 0 -1.74 0M75.5 3.3a0.93 0.93 0 1 0 1.86 0a0.93 0.93 0 1 0 -1.86 0M73.3 11.3a0.99 0.99 0 1 0 1.97 0a0.99 0.99 0 1 0 -1.97 0M71.1 19.3a1.04 1.04 0 1 0 2.07 0a1.04 1.04 0 1 0 -2.07 0M68.9 27.4a1.09 1.09 0 1 0 2.17 0a1.09 1.09 0 1 0 -2.17 0M66.7 35.4a1.13 1.13 0 1 0 2.26 0a1.13 1.13 0 1 0 -2.26 0M64.5 43.4a1.18 1.18 0 1 0 2.37 0a1.18 1.18 0 1 0 -2.37 0M62.3 51.4a1.24 1.24 0 1 0 2.47 0a1.24 1.24 0 1 0 -2.47 0M60.1 59.4a1.29 1.29 0 1 0 2.58 0a1.29 1.29 0 1 0 -2.58 0M57.9 67.4a1.34 1.34 0 1 0 2.67 0a1.34 1.34 0 1 0 -2.67 0M55.7 75.5a1.38 1.38 0 1 0 2.77 0a1.38 1.38 0 1 0 -2.77 0M53.5 83.5a1.43 1.43 0 1 0 2.85 0a1.43 1.43 0 1 0 -2.85 0M51.4 91.5a1.47 1.47 0 1 0 2.94 0a1.47 1.47 0 1 0 -2.94 0M49.1 99.5a1.52 1.52 0 1 0 3.05 0a1.52 1.52 0 1 0 -3.05 0M46.9 107.5a1.58 1.58 0 1 0 3.16 0a1.58 1.58 0 1 0 -3.16 0M44.7 115.5a1.63 1.63 0 1 0 3.27 0a1.63 1.63 0 1 0 -3.27 0M42.5 123.6a1.68 1.68 0 1 0 3.37 0a1.68 1.68 0 1 0 -3.37 0M40.3 131.6a1.73 1.73 0 1 0 3.46 0a1.73 1.73 0 1 0 -3.46 0M38.1 139.6a1.82 1.82 0 1 0 3.65 0a1.82 1.82 0 1 0 -3.65 0M35.8 147.6a1.94 1.94 0 1 0 3.88 0a1.94 1.94 0 1 0 -3.88 0M33.6 155.6a2.04 2.04 0 1 0 4.09 0a2.04 2.04 0 1 0 -4.09 0M31.3 163.6a2.14 2.14 0 1 0 4.28 0a2.14 2.14 0 1 0 -4.28 0M29.1 171.7a2.23 2.23 0 1 0 4.47 0a2.23 2.23 0 1 0 -4.47 0M26.9 179.7a2.32 2.32 0 1 0 4.64 0a2.32 2.32 0 1 0 -4.64 0M24.6 187.7a2.45 2.45 0 1 0 4.91 0a2.45 2.45 0 1 0 -4.91 0M22.3 195.7a2.60 2.60 0 1 0 5.19 0a2.60 2.60 0 1 0 -5.19 0M20.0 203.7a2.73 2.73 0 1 0 5.45 0a2.73 2.73 0 1 0 -5.45 0M17.8 211.7a2.85 2.85 0 1 0 5.69 0a2.85 2.85 0 1 0 -5.69 0M15.5 219.8a2.98 2.98 0 1 0 5.97 0a2.98 2.98 0 1 0 -5.97 0M13.2 227.8a3.12 3.12 0 1 0 6.25 0a3.12 3.12 0 1 0 -6.25 0M10.9 235.8a3.25 3.25 0 1 0 6.50 0a3.25 3.25 0 1 0 -6.50 0M85.7 -2.6a0.95 0.95 0 1 0 1.90 0a0.95 0.95 0 1 0 -1.90 0M83.5 5.4a1.01 1.01 0 1 0 2.01 0a1.01 1.01 0 1 0 -2.01 0M81.3 13.5a1.06 1.06 0 1 0 2.11 0a1.06 1.06 0 1 0 -2.11 0M79.1 21.5a1.11 1.11 0 1 0 2.21 0a1.11 1.11 0 1 0 -2.21 0M76.9 29.5a1.15 1.15 0 1 0 2.31 0a1.15 1.15 0 1 0 -2.31 0M74.7 37.5a1.21 1.21 0 1 0 2.42 0a1.21 1.21 0 1 0 -2.42 0M72.5 45.5a1.27 1.27 0 1 0 2.53 0a1.27 1.27 0 1 0 -2.53 0M70.3 53.6a1.32 1.32 0 1 0 2.63 0a1.32 1.32 0 1 0 -2.63 0M68.1 61.6a1.37 1.37 0 1 0 2.73 0a1.37 1.37 0 1 0 -2.73 0M65.9 69.6a1.41 1.41 0 1 0 2.82 0a1.41 1.41 0 1 0 -2.82 0M63.7 77.6a1.46 1.46 0 1 0 2.91 0a1.46 1.46 0 1 0 -2.91 0M61.5 85.6a1.51 1.51 0 1 0 3.01 0a1.51 1.51 0 1 0 -3.01 0M59.3 93.6a1.57 1.57 0 1 0 3.13 0a1.57 1.57 0 1 0 -3.13 0M57.1 101.7a1.62 1.62 0 1 0 3.25 0a1.62 1.62 0 1 0 -3.25 0M54.9 109.7a1.68 1.68 0 1 0 3.35 0a1.68 1.68 0 1 0 -3.35 0M52.7 117.7a1.73 1.73 0 1 0 3.46 0a1.73 1.73 0 1 0 -3.46 0M50.4 125.7a1.82 1.82 0 1 0 3.64 0a1.82 1.82 0 1 0 -3.64 0M48.2 133.7a1.94 1.94 0 1 0 3.88 0a1.94 1.94 0 1 0 -3.88 0M45.9 141.7a2.05 2.05 0 1 0 4.11 0a2.05 2.05 0 1 0 -4.11 0M43.6 149.8a2.16 2.16 0 1 0 4.32 0a2.16 2.16 0 1 0 -4.32 0M41.4 157.8a2.25 2.25 0 1 0 4.51 0a2.25 2.25 0 1 0 -4.51 0M39.2 165.8a2.35 2.35 0 1 0 4.70 0a2.35 2.35 0 1 0 -4.70 0M36.8 173.8a2.51 2.51 0 1 0 5.03 0a2.51 2.51 0 1 0 -5.03 0M34.5 181.8a2.66 2.66 0 1 0 5.33 0a2.66 2.66 0 1 0 -5.33 0M32.3 189.8a2.80 2.80 0 1 0 5.60 0a2.80 2.80 0 1 0 -5.60 0M30.0 197.9a2.94 2.94 0 1 0 5.89 0a2.94 2.94 0 1 0 -5.89 0M27.7 205.9a3.11 3.11 0 1 0 6.21 0a3.11 3.11 0 1 0 -6.21 0M25.4 213.9a3.25 3.25 0 1 0 6.51 0a3.25 3.25 0 1 0 -6.51 0M95.8 -8.4a0.97 0.97 0 1 0 1.94 0a0.97 0.97 0 1 0 -1.94 0M93.6 -0.4a1.02 1.02 0 1 0 2.05 0a1.02 1.02 0 1 0 -2.05 0M91.4 7.6a1.08 1.08 0 1 0 2.15 0a1.08 1.08 0 1 0 -2.15 0M89.2 15.6a1.12 1.12 0 1 0 2.25 0a1.12 1.12 0 1 0 -2.25 0M87.0 23.6a1.18 1.18 0 1 0 2.36 0a1.18 1.18 0 1 0 -2.36 0M84.8 31.6a1.24 1.24 0 1 0 2.47 0a1.24 1.24 0 1 0 -2.47 0M82.6 39.7a1.29 1.29 0 1 0 2.58 0a1.29 1.29 0 1 0 -2.58 0M80.4 47.7a1.34 1.34 0 1 0 2.68 0a1.34 1.34 0 1 0 -2.68 0M78.2 55.7a1.39 1.39 0 1 0 2.78 0a1.39 1.39 0 1 0 -2.78 0M76.0 63.7a1.44 1.44 0 1 0 2.88 0a1.44 1.44 0 1 0 -2.88 0M73.8 71.7a1.48 1.48 0 1 0 2.97 0a1.48 1.48 0 1 0 -2.97 0M71.6 79.8a1.55 1.55 0 1 0 3.09 0a1.55 1.55 0 1 0 -3.09 0M69.4 87.8a1.61 1.61 0 1 0 3.21 0a1.61 1.61 0 1 0 -3.21 0M67.2 95.8a1.66 1.66 0 1 0 3.33 0a1.66 1.66 0 1 0 -3.33 0M65.0 103.8a1.72 1.72 0 1 0 3.44 0a1.72 1.72 0 1 0 -3.44 0M62.8 111.8a1.80 1.80 0 1 0 3.60 0a1.80 1.80 0 1 0 -3.60 0M60.5 119.8a1.93 1.93 0 1 0 3.86 0a1.93 1.93 0 1 0 -3.86 0M58.2 127.9a2.05 2.05 0 1 0 4.09 0a2.05 2.05 0 1 0 -4.09 0M56.0 135.9a2.16 2.16 0 1 0 4.32 0a2.16 2.16 0 1 0 -4.32 0M53.7 143.9a2.26 2.26 0 1 0 4.52 0a2.26 2.26 0 1 0 -4.52 0M51.4 151.9a2.37 2.37 0 1 0 4.74 0a2.37 2.37 0 1 0 -4.74 0M49.1 159.9a2.55 2.55 0 1 0 5.09 0a2.55 2.55 0 1 0 -5.09 0M46.8 167.9a2.70 2.70 0 1 0 5.41 0a2.70 2.70 0 1 0 -5.41 0M44.5 176.0a2.85 2.85 0 1 0 5.70 0a2.85 2.85 0 1 0 -5.70 0M42.2 184.0a3.02 3.02 0 1 0 6.04 0a3.02 3.02 0 1 0 -6.04 0M39.9 192.0a3.19 3.19 0 1 0 6.38 0a3.19 3.19 0 1 0 -6.38 0M103.8 -6.3a1.04 1.04 0 1 0 2.08 0a1.04 1.04 0 1 0 -2.08 0M101.6 1.7a1.09 1.09 0 1 0 2.18 0a1.09 1.09 0 1 0 -2.18 0M99.4 9.7a1.14 1.14 0 1 0 2.28 0a1.14 1.14 0 1 0 -2.28 0M97.2 17.8a1.20 1.20 0 1 0 2.40 0a1.20 1.20 0 1 0 -2.40 0M94.9 25.8a1.26 1.26 0 1 0 2.52 0a1.26 1.26 0 1 0 -2.52 0M92.7 33.8a1.31 1.31 0 1 0 2.63 0a1.31 1.31 0 1 0 -2.63 0M90.5 41.8a1.37 1.37 0 1 0 2.73 0a1.37 1.37 0 1 0 -2.73 0M88.3 49.8a1.41 1.41 0 1 0 2.83 0a1.41 1.41 0 1 0 -2.83 0M86.2 57.8a1.46 1.46 0 1 0 2.92 0a1.46 1.46 0 1 0 -2.92 0M83.9 65.9a1.52 1.52 0 1 0 3.04 0a1.52 1.52 0 1 0 -3.04 0M81.7 73.9a1.58 1.58 0 1 0 3.17 0a1.58 1.58 0 1 0 -3.17 0M79.5 81.9a1.64 1.64 0 1 0 3.29 0a1.64 1.64 0 1 0 -3.29 0M77.3 89.9a1.70 1.70 0 1 0 3.40 0a1.70 1.70 0 1 0 -3.40 0M75.1 97.9a1.76 1.76 0 1 0 3.52 0a1.76 1.76 0 1 0 -3.52 0M72.8 106.0a1.90 1.90 0 1 0 3.80 0a1.90 1.90 0 1 0 -3.80 0M70.6 114.0a2.03 2.03 0 1 0 4.05 0a2.03 2.03 0 1 0 -4.05 0M68.3 122.0a2.14 2.14 0 1 0 4.29 0a2.14 2.14 0 1 0 -4.29 0M66.0 130.0a2.25 2.25 0 1 0 4.50 0a2.25 2.25 0 1 0 -4.50 0M63.8 138.0a2.37 2.37 0 1 0 4.73 0a2.37 2.37 0 1 0 -4.73 0M61.4 146.0a2.55 2.55 0 1 0 5.10 0a2.55 2.55 0 1 0 -5.10 0M59.1 154.1a2.72 2.72 0 1 0 5.44 0a2.72 2.72 0 1 0 -5.44 0M56.8 162.1a2.87 2.87 0 1 0 5.75 0a2.87 2.87 0 1 0 -5.75 0M54.5 170.1a3.07 3.07 0 1 0 6.13 0a3.07 3.07 0 1 0 -6.13 0M52.1 178.1a3.25 3.25 0 1 0 6.49 0a3.25 3.25 0 1 0 -6.49 0M111.7 -4.1a1.11 1.11 0 1 0 2.21 0a1.11 1.11 0 1 0 -2.21 0M109.5 3.9a1.16 1.16 0 1 0 2.32 0a1.16 1.16 0 1 0 -2.32 0M107.3 11.9a1.22 1.22 0 1 0 2.44 0a1.22 1.22 0 1 0 -2.44 0M105.1 19.9a1.28 1.28 0 1 0 2.56 0a1.28 1.28 0 1 0 -2.56 0M102.9 27.9a1.33 1.33 0 1 0 2.67 0a1.33 1.33 0 1 0 -2.67 0M100.7 35.9a1.39 1.39 0 1 0 2.77 0a1.39 1.39 0 1 0 -2.77 0M98.5 44.0a1.44 1.44 0 1 0 2.87 0a1.44 1.44 0 1 0 -2.87 0M96.3 52.0a1.48 1.48 0 1 0 2.97 0a1.48 1.48 0 1 0 -2.97 0M94.1 60.0a1.55 1.55 0 1 0 3.10 0a1.55 1.55 0 1 0 -3.10 0M91.9 68.0a1.62 1.62 0 1 0 3.23 0a1.62 1.62 0 1 0 -3.23 0M89.7 76.0a1.68 1.68 0 1 0 3.35 0a1.68 1.68 0 1 0 -3.35 0M87.5 84.0a1.73 1.73 0 1 0 3.47 0a1.73 1.73 0 1 0 -3.47 0M85.2 92.1a1.85 1.85 0 1 0 3.70 0a1.85 1.85 0 1 0 -3.70 0M82.9 100.1a1.99 1.99 0 1 0 3.97 0a1.99 1.99 0 1 0 -3.97 0M80.6 108.1a2.11 2.11 0 1 0 4.22 0a2.11 2.11 0 1 0 -4.22 0M78.4 116.1a2.23 2.23 0 1 0 4.46 0a2.23 2.23 0 1 0 -4.46 0M76.1 124.1a2.34 2.34 0 1 0 4.67 0a2.34 2.34 0 1 0 -4.67 0M73.8 132.1a2.53 2.53 0 1 0 5.06 0a2.53 2.53 0 1 0 -5.06 0M71.4 140.2a2.71 2.71 0 1 0 5.42 0a2.71 2.71 0 1 0 -5.42 0M69.1 148.2a2.87 2.87 0 1 0 5.75 0a2.87 2.87 0 1 0 -5.75 0M66.8 156.2a3.08 3.08 0 1 0 6.16 0a3.08 3.08 0 1 0 -6.16 0M64.4 164.2a3.27 3.27 0 1 0 6.54 0a3.27 3.27 0 1 0 -6.54 0M119.7 -2.0a1.18 1.18 0 1 0 2.35 0a1.18 1.18 0 1 0 -2.35 0M117.4 6.0a1.24 1.24 0 1 0 2.48 0a1.24 1.24 0 1 0 -2.48 0M115.2 14.0a1.30 1.30 0 1 0 2.59 0a1.30 1.30 0 1 0 -2.59 0M113.0 22.1a1.35 1.35 0 1 0 2.70 0a1.35 1.35 0 1 0 -2.70 0M110.8 30.1a1.40 1.40 0 1 0 2.81 0a1.40 1.40 0 1 0 -2.81 0M108.6 38.1a1.45 1.45 0 1 0 2.91 0a1.45 1.45 0 1 0 -2.91 0M106.4 46.1a1.51 1.51 0 1 0 3.03 0a1.51 1.51 0 1 0 -3.03 0M104.2 54.1a1.58 1.58 0 1 0 3.16 0a1.58 1.58 0 1 0 -3.16 0M102.0 62.1a1.65 1.65 0 1 0 3.29 0a1.65 1.65 0 1 0 -3.29 0M99.8 70.2a1.71 1.71 0 1 0 3.41 0a1.71 1.71 0 1 0 -3.41 0M97.6 78.2a1.79 1.79 0 1 0 3.57 0a1.79 1.79 0 1 0 -3.57 0M95.3 86.2a1.93 1.93 0 1 0 3.86 0a1.93 1.93 0 1 0 -3.86 0M93.0 94.2a2.07 2.07 0 1 0 4.13 0a2.07 2.07 0 1 0 -4.13 0M90.7 102.2a2.19 2.19 0 1 0 4.38 0a2.19 2.19 0 1 0 -4.38 0M88.5 110.2a2.31 2.31 0 1 0 4.61 0a2.31 2.31 0 1 0 -4.61 0M86.1 118.3a2.48 2.48 0 1 0 4.97 0a2.48 2.48 0 1 0 -4.97 0M83.8 126.3a2.68 2.68 0 1 0 5.35 0a2.68 2.68 0 1 0 -5.35 0M81.5 134.3a2.85 2.85 0 1 0 5.70 0a2.85 2.85 0 1 0 -5.70 0M79.1 142.3a3.06 3.06 0 1 0 6.12 0a3.06 3.06 0 1 0 -6.12 0M76.8 150.3a3.26 3.26 0 1 0 6.53 0a3.26 3.26 0 1 0 -6.53 0M129.8 -7.9a1.19 1.19 0 1 0 2.38 0a1.19 1.19 0 1 0 -2.38 0M127.6 0.2a1.25 1.25 0 1 0 2.51 0a1.25 1.25 0 1 0 -2.51 0M125.4 8.2a1.31 1.31 0 1 0 2.62 0a1.31 1.31 0 1 0 -2.62 0M123.2 16.2a1.37 1.37 0 1 0 2.74 0a1.37 1.37 0 1 0 -2.74 0M121.0 24.2a1.42 1.42 0 1 0 2.84 0a1.42 1.42 0 1 0 -2.84 0M118.8 32.2a1.47 1.47 0 1 0 2.94 0a1.47 1.47 0 1 0 -2.94 0M116.6 40.2a1.54 1.54 0 1 0 3.08 0a1.54 1.54 0 1 0 -3.08 0M114.4 48.3a1.61 1.61 0 1 0 3.22 0a1.61 1.61 0 1 0 -3.22 0M112.1 56.3a1.67 1.67 0 1 0 3.34 0a1.67 1.67 0 1 0 -3.34 0M109.9 64.3a1.73 1.73 0 1 0 3.47 0a1.73 1.73 0 1 0 -3.47 0M107.7 72.3a1.86 1.86 0 1 0 3.72 0a1.86 1.86 0 1 0 -3.72 0M105.4 80.3a2.00 2.00 0 1 0 4.01 0a2.00 2.00 0 1 0 -4.01 0M103.1 88.3a2.14 2.14 0 1 0 4.28 0a2.14 2.14 0 1 0 -4.28 0M100.8 96.4a2.26 2.26 0 1 0 4.52 0a2.26 2.26 0 1 0 -4.52 0M98.5 104.4a2.41 2.41 0 1 0 4.82 0a2.41 2.41 0 1 0 -4.82 0M96.2 112.4a2.62 2.62 0 1 0 5.23 0a2.62 2.62 0 1 0 -5.23 0M93.8 120.4a2.80 2.80 0 1 0 5.61 0a2.80 2.80 0 1 0 -5.61 0M91.5 128.4a3.01 3.01 0 1 0 6.02 0a3.01 3.01 0 1 0 -6.02 0M89.1 136.4a3.23 3.23 0 1 0 6.46 0a3.23 3.23 0 1 0 -6.46 0M137.7 -5.7a1.27 1.27 0 1 0 2.53 0a1.27 1.27 0 1 0 -2.53 0M135.5 2.3a1.33 1.33 0 1 0 2.65 0a1.33 1.33 0 1 0 -2.65 0M133.3 10.3a1.38 1.38 0 1 0 2.76 0a1.38 1.38 0 1 0 -2.76 0M131.1 18.3a1.44 1.44 0 1 0 2.87 0a1.44 1.44 0 1 0 -2.87 0M128.9 26.4a1.49 1.49 0 1 0 2.98 0a1.49 1.49 0 1 0 -2.98 0M126.7 34.4a1.56 1.56 0 1 0 3.12 0a1.56 1.56 0 1 0 -3.12 0M124.5 42.4a1.63 1.63 0 1 0 3.26 0a1.63 1.63 0 1 0 -3.26 0M122.3 50.4a1.70 1.70 0 1 0 3.39 0a1.70 1.70 0 1 0 -3.39 0M120.1 58.4a1.77 1.77 0 1 0 3.54 0a1.77 1.77 0 1 0 -3.54 0M117.8 66.4a1.93 1.93 0 1 0 3.85 0a1.93 1.93 0 1 0 -3.85 0M115.5 74.5a2.07 2.07 0 1 0 4.14 0a2.07 2.07 0 1 0 -4.14 0M113.2 82.5a2.20 2.20 0 1 0 4.40 0a2.20 2.20 0 1 0 -4.40 0M110.9 90.5a2.32 2.32 0 1 0 4.65 0a2.32 2.32 0 1 0 -4.65 0M108.6 98.5a2.53 2.53 0 1 0 5.06 0a2.53 2.53 0 1 0 -5.06 0M106.2 106.5a2.73 2.73 0 1 0 5.47 0a2.73 2.73 0 1 0 -5.47 0M103.9 114.5a2.93 2.93 0 1 0 5.86 0a2.93 2.93 0 1 0 -5.86 0M101.5 122.6a3.17 3.17 0 1 0 6.33 0a3.17 3.17 0 1 0 -6.33 0M145.7 -3.6a1.34 1.34 0 1 0 2.67 0a1.34 1.34 0 1 0 -2.67 0M143.5 4.5a1.39 1.39 0 1 0 2.79 0a1.39 1.39 0 1 0 -2.79 0M141.3 12.5a1.45 1.45 0 1 0 2.90 0a1.45 1.45 0 1 0 -2.90 0M139.1 20.5a1.51 1.51 0 1 0 3.02 0a1.51 1.51 0 1 0 -3.02 0M136.9 28.5a1.58 1.58 0 1 0 3.17 0a1.58 1.58 0 1 0 -3.17 0M134.6 36.5a1.65 1.65 0 1 0 3.30 0a1.65 1.65 0 1 0 -3.30 0M132.4 44.5a1.72 1.72 0 1 0 3.43 0a1.72 1.72 0 1 0 -3.43 0M130.2 52.6a1.83 1.83 0 1 0 3.65 0a1.83 1.83 0 1 0 -3.65 0M127.9 60.6a1.98 1.98 0 1 0 3.97 0a1.98 1.98 0 1 0 -3.97 0M125.6 68.6a2.13 2.13 0 1 0 4.25 0a2.13 2.13 0 1 0 -4.25 0M123.3 76.6a2.26 2.26 0 1 0 4.52 0a2.26 2.26 0 1 0 -4.52 0M121.0 84.6a2.42 2.42 0 1 0 4.84 0a2.42 2.42 0 1 0 -4.84 0M118.6 92.6a2.64 2.64 0 1 0 5.28 0a2.64 2.64 0 1 0 -5.28 0M116.3 100.7a2.84 2.84 0 1 0 5.68 0a2.84 2.84 0 1 0 -5.68 0M113.9 108.7a3.07 3.07 0 1 0 6.15 0a3.07 3.07 0 1 0 -6.15 0M111.5 116.7a3.30 3.30 0 1 0 6.61 0a3.30 3.30 0 1 0 -6.61 0M155.9 -9.4a1.35 1.35 0 1 0 2.69 0a1.35 1.35 0 1 0 -2.69 0M153.6 -1.4a1.40 1.40 0 1 0 2.81 0a1.40 1.40 0 1 0 -2.81 0M151.4 6.6a1.46 1.46 0 1 0 2.92 0a1.46 1.46 0 1 0 -2.92 0M149.2 14.6a1.53 1.53 0 1 0 3.05 0a1.53 1.53 0 1 0 -3.05 0M147.0 22.6a1.60 1.60 0 1 0 3.20 0a1.60 1.60 0 1 0 -3.20 0M144.8 30.7a1.67 1.67 0 1 0 3.34 0a1.67 1.67 0 1 0 -3.34 0M142.6 38.7a1.74 1.74 0 1 0 3.47 0a1.74 1.74 0 1 0 -3.47 0M140.3 46.7a1.88 1.88 0 1 0 3.76 0a1.88 1.88 0 1 0 -3.76 0M138.0 54.7a2.03 2.03 0 1 0 4.07 0a2.03 2.03 0 1 0 -4.07 0M135.7 62.7a2.18 2.18 0 1 0 4.35 0a2.18 2.18 0 1 0 -4.35 0M133.4 70.7a2.31 2.31 0 1 0 4.62 0a2.31 2.31 0 1 0 -4.62 0M131.1 78.8a2.52 2.52 0 1 0 5.03 0a2.52 2.52 0 1 0 -5.03 0M128.7 86.8a2.73 2.73 0 1 0 5.47 0a2.73 2.73 0 1 0 -5.47 0M126.3 94.8a2.95 2.95 0 1 0 5.90 0a2.95 2.95 0 1 0 -5.90 0M123.9 102.8a3.20 3.20 0 1 0 6.39 0a3.20 3.20 0 1 0 -6.39 0M163.8 -7.3a1.41 1.41 0 1 0 2.83 0a1.41 1.41 0 1 0 -2.83 0M161.6 0.7a1.47 1.47 0 1 0 2.94 0a1.47 1.47 0 1 0 -2.94 0M159.4 8.7a1.54 1.54 0 1 0 3.08 0a1.54 1.54 0 1 0 -3.08 0M157.2 16.8a1.61 1.61 0 1 0 3.23 0a1.61 1.61 0 1 0 -3.23 0M154.9 24.8a1.69 1.69 0 1 0 3.37 0a1.69 1.69 0 1 0 -3.37 0M152.7 32.8a1.75 1.75 0 1 0 3.50 0a1.75 1.75 0 1 0 -3.50 0M150.4 40.8a1.92 1.92 0 1 0 3.85 0a1.92 1.92 0 1 0 -3.85 0M148.1 48.8a2.08 2.08 0 1 0 4.16 0a2.08 2.08 0 1 0 -4.16 0M145.8 56.9a2.22 2.22 0 1 0 4.44 0a2.22 2.22 0 1 0 -4.44 0M143.5 64.9a2.36 2.36 0 1 0 4.73 0a2.36 2.36 0 1 0 -4.73 0M141.1 72.9a2.60 2.60 0 1 0 5.20 0a2.60 2.60 0 1 0 -5.20 0M138.8 80.9a2.82 2.82 0 1 0 5.63 0a2.82 2.82 0 1 0 -5.63 0M136.4 88.9a3.06 3.06 0 1 0 6.12 0a3.06 3.06 0 1 0 -6.12 0M134.0 96.9a3.31 3.31 0 1 0 6.61 0a3.31 3.31 0 1 0 -6.61 0M171.8 -5.1a1.48 1.48 0 1 0 2.95 0a1.48 1.48 0 1 0 -2.95 0M169.5 2.9a1.55 1.55 0 1 0 3.10 0a1.55 1.55 0 1 0 -3.10 0M167.3 10.9a1.63 1.63 0 1 0 3.25 0a1.63 1.63 0 1 0 -3.25 0M165.1 18.9a1.70 1.70 0 1 0 3.40 0a1.70 1.70 0 1 0 -3.40 0M162.9 26.9a1.79 1.79 0 1 0 3.58 0a1.79 1.79 0 1 0 -3.58 0M160.5 34.9a1.96 1.96 0 1 0 3.92 0a1.96 1.96 0 1 0 -3.92 0M158.2 43.0a2.12 2.12 0 1 0 4.23 0a2.12 2.12 0 1 0 -4.23 0M155.9 51.0a2.26 2.26 0 1 0 4.52 0a2.26 2.26 0 1 0 -4.52 0M153.6 59.0a2.44 2.44 0 1 0 4.88 0a2.44 2.44 0 1 0 -4.88 0M151.2 67.0a2.67 2.67 0 1 0 5.35 0a2.67 2.67 0 1 0 -5.35 0M148.9 75.0a2.89 2.89 0 1 0 5.78 0a2.89 2.89 0 1 0 -5.78 0M146.4 83.0a3.16 3.16 0 1 0 6.32 0a3.16 3.16 0 1 0 -6.32 0M179.7 -3.0a1.56 1.56 0 1 0 3.12 0a1.56 1.56 0 1 0 -3.12 0M177.5 5.0a1.64 1.64 0 1 0 3.27 0a1.64 1.64 0 1 0 -3.27 0M175.2 13.0a1.71 1.71 0 1 0 3.42 0a1.71 1.71 0 1 0 -3.42 0M173.0 21.1a1.82 1.82 0 1 0 3.64 0a1.82 1.82 0 1 0 -3.64 0M170.7 29.1a1.99 1.99 0 1 0 3.98 0a1.99 1.99 0 1 0 -3.98 0M168.4 37.1a2.15 2.15 0 1 0 4.29 0a2.15 2.15 0 1 0 -4.29 0M166.1 45.1a2.29 2.29 0 1 0 4.58 0a2.29 2.29 0 1 0 -4.58 0M163.7 53.1a2.50 2.50 0 1 0 5.01 0a2.50 2.50 0 1 0 -5.01 0M161.3 61.1a2.74 2.74 0 1 0 5.48 0a2.74 2.74 0 1 0 -5.48 0M158.9 69.2a2.98 2.98 0 1 0 5.95 0a2.98 2.98 0 1 0 -5.95 0M156.5 77.2a3.24 3.24 0 1 0 6.49 0a3.24 3.24 0 1 0 -6.49 0M189.8 -8.9a1.57 1.57 0 1 0 3.13 0a1.57 1.57 0 1 0 -3.13 0M187.6 -0.8a1.64 1.64 0 1 0 3.29 0a1.64 1.64 0 1 0 -3.29 0M185.4 7.2a1.72 1.72 0 1 0 3.43 0a1.72 1.72 0 1 0 -3.43 0M183.1 15.2a1.85 1.85 0 1 0 3.69 0a1.85 1.85 0 1 0 -3.69 0M180.8 23.2a2.02 2.02 0 1 0 4.03 0a2.02 2.02 0 1 0 -4.03 0M178.5 31.2a2.17 2.17 0 1 0 4.35 0a2.17 2.17 0 1 0 -4.35 0M176.2 39.2a2.32 2.32 0 1 0 4.64 0a2.32 2.32 0 1 0 -4.64 0M173.8 47.3a2.56 2.56 0 1 0 5.11 0a2.56 2.56 0 1 0 -5.11 0M171.4 55.3a2.79 2.79 0 1 0 5.58 0a2.79 2.79 0 1 0 -5.58 0M169.0 63.3a3.05 3.05 0 1 0 6.10 0a3.05 3.05 0 1 0 -6.10 0M197.8 -6.7a1.65 1.65 0 1 0 3.30 0a1.65 1.65 0 1 0 -3.30 0M195.6 1.3a1.72 1.72 0 1 0 3.45 0a1.72 1.72 0 1 0 -3.45 0M193.3 9.3a1.86 1.86 0 1 0 3.73 0a1.86 1.86 0 1 0 -3.73 0M191.0 17.3a2.04 2.04 0 1 0 4.07 0a2.04 2.04 0 1 0 -4.07 0M188.6 25.4a2.19 2.19 0 1 0 4.39 0a2.19 2.19 0 1 0 -4.39 0M186.4 33.4a2.34 2.34 0 1 0 4.68 0a2.34 2.34 0 1 0 -4.68 0M183.9 41.4a2.60 2.60 0 1 0 5.20 0a2.60 2.60 0 1 0 -5.20 0M181.6 49.4a2.84 2.84 0 1 0 5.67 0a2.84 2.84 0 1 0 -5.67 0M179.1 57.4a3.11 3.11 0 1 0 6.23 0a3.11 3.11 0 1 0 -6.23 0M205.7 -4.6a1.73 1.73 0 1 0 3.45 0a1.73 1.73 0 1 0 -3.45 0M203.4 3.5a1.88 1.88 0 1 0 3.75 0a1.88 1.88 0 1 0 -3.75 0M201.1 11.5a2.05 2.05 0 1 0 4.10 0a2.05 2.05 0 1 0 -4.10 0M198.8 19.5a2.21 2.21 0 1 0 4.42 0a2.21 2.21 0 1 0 -4.42 0M196.5 27.5a2.37 2.37 0 1 0 4.75 0a2.37 2.37 0 1 0 -4.75 0M194.1 35.5a2.64 2.64 0 1 0 5.27 0a2.64 2.64 0 1 0 -5.27 0M191.7 43.5a2.87 2.87 0 1 0 5.74 0a2.87 2.87 0 1 0 -5.74 0M189.2 51.6a3.16 3.16 0 1 0 6.33 0a3.16 3.16 0 1 0 -6.33 0M213.6 -2.4a1.88 1.88 0 1 0 3.77 0a1.88 1.88 0 1 0 -3.77 0M211.3 5.6a2.06 2.06 0 1 0 4.12 0a2.06 2.06 0 1 0 -4.12 0M208.9 13.6a2.22 2.22 0 1 0 4.44 0a2.22 2.22 0 1 0 -4.44 0M206.6 21.6a2.40 2.40 0 1 0 4.80 0a2.40 2.40 0 1 0 -4.80 0M204.2 29.7a2.66 2.66 0 1 0 5.32 0a2.66 2.66 0 1 0 -5.32 0M201.8 37.7a2.91 2.91 0 1 0 5.81 0a2.91 2.91 0 1 0 -5.81 0M199.4 45.7a3.20 3.20 0 1 0 6.41 0a3.20 3.20 0 1 0 -6.41 0M223.7 -8.3a1.88 1.88 0 1 0 3.77 0a1.88 1.88 0 1 0 -3.77 0M221.4 -0.3a2.06 2.06 0 1 0 4.13 0a2.06 2.06 0 1 0 -4.13 0M219.1 7.8a2.23 2.23 0 1 0 4.45 0a2.23 2.23 0 1 0 -4.45 0M216.8 15.8a2.41 2.41 0 1 0 4.83 0a2.41 2.41 0 1 0 -4.83 0M214.4 23.8a2.68 2.68 0 1 0 5.36 0a2.68 2.68 0 1 0 -5.36 0M212.0 31.8a2.93 2.93 0 1 0 5.87 0a2.93 2.93 0 1 0 -5.87 0M209.5 39.8a3.23 3.23 0 1 0 6.47 0a3.23 3.23 0 1 0 -6.47 0M231.6 -6.1a2.06 2.06 0 1 0 4.12 0a2.06 2.06 0 1 0 -4.12 0M229.3 1.9a2.23 2.23 0 1 0 4.46 0a2.23 2.23 0 1 0 -4.46 0M226.9 9.9a2.42 2.42 0 1 0 4.84 0a2.42 2.42 0 1 0 -4.84 0M224.5 17.9a2.69 2.69 0 1 0 5.38 0a2.69 2.69 0 1 0 -5.38 0M222.1 25.9a2.95 2.95 0 1 0 5.90 0a2.95 2.95 0 1 0 -5.90 0M219.7 33.9a3.26 3.26 0 1 0 6.51 0a3.26 3.26 0 1 0 -6.51 0M239.4 -4.0a2.22 2.22 0 1 0 4.45 0a2.22 2.22 0 1 0 -4.45 0M237.1 4.0a2.42 2.42 0 1 0 4.83 0a2.42 2.42 0 1 0 -4.83 0M234.7 12.0a2.69 2.69 0 1 0 5.38 0a2.69 2.69 0 1 0 -5.38 0M232.3 20.1a2.96 2.96 0 1 0 5.92 0a2.96 2.96 0 1 0 -5.92 0M229.8 28.1a3.27 3.27 0 1 0 6.53 0a3.27 3.27 0 1 0 -6.53 0M249.6 -9.9a2.22 2.22 0 1 0 4.43 0a2.22 2.22 0 1 0 -4.43 0M247.3 -1.8a2.41 2.41 0 1 0 4.81 0a2.41 2.41 0 1 0 -4.81 0M244.8 6.2a2.69 2.69 0 1 0 5.37 0a2.69 2.69 0 1 0 -5.37 0M242.4 14.2a2.96 2.96 0 1 0 5.91 0a2.96 2.96 0 1 0 -5.91 0M240.0 22.2a3.27 3.27 0 1 0 6.54 0a3.27 3.27 0 1 0 -6.54 0M257.5 -7.7a2.39 2.39 0 1 0 4.77 0a2.39 2.39 0 1 0 -4.77 0M255.0 0.3a2.67 2.67 0 1 0 5.34 0a2.67 2.67 0 1 0 -5.34 0M252.6 8.3a2.94 2.94 0 1 0 5.89 0a2.94 2.94 0 1 0 -5.89 0M250.1 16.3a3.26 3.26 0 1 0 6.52 0a3.26 3.26 0 1 0 -6.52 0M265.2 -5.6a2.65 2.65 0 1 0 5.30 0a2.65 2.65 0 1 0 -5.30 0M262.8 2.5a2.92 2.92 0 1 0 5.84 0a2.92 2.92 0 1 0 -5.84 0M260.3 10.5a3.25 3.25 0 1 0 6.49 0a3.25 3.25 0 1 0 -6.49 0M273.0 -3.4a2.89 2.89 0 1 0 5.78 0a2.89 2.89 0 1 0 -5.78 0M270.5 4.6a3.22 3.22 0 1 0 6.44 0a3.22 3.22 0 1 0 -6.44 0M283.2 -9.3a2.86 2.86 0 1 0 5.72 0a2.86 2.86 0 1 0 -5.72 0M280.7 -1.3a3.19 3.19 0 1 0 6.38 0a3.19 3.19 0 1 0 -6.38 0M290.9 -7.1a3.14 3.14 0 1 0 6.29 0a3.14 3.14 0 1 0 -6.29 0M1056.2 -8.4a2.94 2.94 0 1 0 5.88 0a2.94 2.94 0 1 0 -5.88 0M1064.3 -6.2a2.87 2.87 0 1 0 5.74 0a2.87 2.87 0 1 0 -5.74 0M1061.7 1.8a3.30 3.30 0 1 0 6.60 0a3.30 3.30 0 1 0 -6.60 0M1072.4 -4.1a2.81 2.81 0 1 0 5.63 0a2.81 2.81 0 1 0 -5.63 0M1069.8 4.0a3.23 3.23 0 1 0 6.46 0a3.23 3.23 0 1 0 -6.46 0M1083.0 -9.9a2.37 2.37 0 1 0 4.75 0a2.37 2.37 0 1 0 -4.75 0M1080.5 -1.9a2.75 2.75 0 1 0 5.50 0a2.75 2.75 0 1 0 -5.50 0M1077.9 6.1a3.16 3.16 0 1 0 6.31 0a3.16 3.16 0 1 0 -6.31 0M1091.1 -7.8a2.32 2.32 0 1 0 4.64 0a2.32 2.32 0 1 0 -4.64 0M1088.5 0.2a2.68 2.68 0 1 0 5.37 0a2.68 2.68 0 1 0 -5.37 0M1086.0 8.3a3.07 3.07 0 1 0 6.15 0a3.07 3.07 0 1 0 -6.15 0M1099.1 -5.6a2.28 2.28 0 1 0 4.55 0a2.28 2.28 0 1 0 -4.55 0M1096.6 2.4a2.61 2.61 0 1 0 5.22 0a2.61 2.61 0 1 0 -5.22 0M1094.1 10.4a2.99 2.99 0 1 0 5.97 0a2.99 2.99 0 1 0 -5.97 0M1107.2 -3.5a2.23 2.23 0 1 0 4.46 0a2.23 2.23 0 1 0 -4.46 0M1104.7 4.5a2.53 2.53 0 1 0 5.07 0a2.53 2.53 0 1 0 -5.07 0M1102.2 12.6a2.89 2.89 0 1 0 5.78 0a2.89 2.89 0 1 0 -5.78 0M1117.6 -9.4a1.95 1.95 0 1 0 3.89 0a1.95 1.95 0 1 0 -3.89 0M1115.2 -1.3a2.18 2.18 0 1 0 4.37 0a2.18 2.18 0 1 0 -4.37 0M1112.8 6.7a2.45 2.45 0 1 0 4.90 0a2.45 2.45 0 1 0 -4.90 0M1110.3 14.7a2.81 2.81 0 1 0 5.63 0a2.81 2.81 0 1 0 -5.63 0M1107.7 22.7a3.23 3.23 0 1 0 6.45 0a3.23 3.23 0 1 0 -6.45 0M1125.7 -7.2a1.89 1.89 0 1 0 3.78 0a1.89 1.89 0 1 0 -3.78 0M1123.3 0.8a2.13 2.13 0 1 0 4.26 0a2.13 2.13 0 1 0 -4.26 0M1120.9 8.8a2.36 2.36 0 1 0 4.71 0a2.36 2.36 0 1 0 -4.71 0M1118.4 16.8a2.73 2.73 0 1 0 5.46 0a2.73 2.73 0 1 0 -5.46 0M1115.9 24.9a3.13 3.13 0 1 0 6.26 0a3.13 3.13 0 1 0 -6.26 0M1133.8 -5.1a1.83 1.83 0 1 0 3.66 0a1.83 1.83 0 1 0 -3.66 0M1131.4 3.0a2.08 2.08 0 1 0 4.15 0a2.08 2.08 0 1 0 -4.15 0M1129.0 11.0a2.30 2.30 0 1 0 4.60 0a2.30 2.30 0 1 0 -4.60 0M1126.5 19.0a2.65 2.65 0 1 0 5.29 0a2.65 2.65 0 1 0 -5.29 0M1124.0 27.0a3.02 3.02 0 1 0 6.04 0a3.02 3.02 0 1 0 -6.04 0M1141.9 -2.9a1.76 1.76 0 1 0 3.52 0a1.76 1.76 0 1 0 -3.52 0M1139.5 5.1a2.02 2.02 0 1 0 4.03 0a2.02 2.02 0 1 0 -4.03 0M1137.1 13.1a2.24 2.24 0 1 0 4.49 0a2.24 2.24 0 1 0 -4.49 0M1134.6 21.1a2.55 2.55 0 1 0 5.10 0a2.55 2.55 0 1 0 -5.10 0M1132.1 29.2a2.91 2.91 0 1 0 5.81 0a2.91 2.91 0 1 0 -5.81 0M1152.2 -8.8a1.62 1.62 0 1 0 3.25 0a1.62 1.62 0 1 0 -3.25 0M1149.9 -0.8a1.73 1.73 0 1 0 3.46 0a1.73 1.73 0 1 0 -3.46 0M1147.5 7.3a1.95 1.95 0 1 0 3.91 0a1.95 1.95 0 1 0 -3.91 0M1145.2 15.3a2.19 2.19 0 1 0 4.37 0a2.19 2.19 0 1 0 -4.37 0M1142.7 23.3a2.45 2.45 0 1 0 4.90 0a2.45 2.45 0 1 0 -4.90 0M1140.2 31.3a2.81 2.81 0 1 0 5.62 0a2.81 2.81 0 1 0 -5.62 0M1137.7 39.3a3.22 3.22 0 1 0 6.44 0a3.22 3.22 0 1 0 -6.44 0M1160.2 -6.6a1.60 1.60 0 1 0 3.19 0a1.60 1.60 0 1 0 -3.19 0M1158.0 1.4a1.70 1.70 0 1 0 3.40 0a1.70 1.70 0 1 0 -3.40 0M1155.6 9.4a1.89 1.89 0 1 0 3.77 0a1.89 1.89 0 1 0 -3.77 0M1153.2 17.4a2.13 2.13 0 1 0 4.25 0a2.13 2.13 0 1 0 -4.25 0M1150.9 25.4a2.34 2.34 0 1 0 4.68 0a2.34 2.34 0 1 0 -4.68 0M1148.3 33.5a2.71 2.71 0 1 0 5.43 0a2.71 2.71 0 1 0 -5.43 0M1145.8 41.5a3.10 3.10 0 1 0 6.20 0a3.10 3.10 0 1 0 -6.20 0M1168.3 -4.5a1.57 1.57 0 1 0 3.13 0a1.57 1.57 0 1 0 -3.13 0M1166.0 3.5a1.67 1.67 0 1 0 3.35 0a1.67 1.67 0 1 0 -3.35 0M1163.7 11.6a1.81 1.81 0 1 0 3.62 0a1.81 1.81 0 1 0 -3.62 0M1161.3 19.6a2.06 2.06 0 1 0 4.12 0a2.06 2.06 0 1 0 -4.12 0M1158.9 27.6a2.28 2.28 0 1 0 4.56 0a2.28 2.28 0 1 0 -4.56 0M1156.5 35.6a2.61 2.61 0 1 0 5.22 0a2.61 2.61 0 1 0 -5.22 0M1154.0 43.6a2.97 2.97 0 1 0 5.95 0a2.97 2.97 0 1 0 -5.95 0M1176.3 -2.3a1.53 1.53 0 1 0 3.07 0a1.53 1.53 0 1 0 -3.07 0M1174.0 5.7a1.64 1.64 0 1 0 3.29 0a1.64 1.64 0 1 0 -3.29 0M1171.8 13.7a1.75 1.75 0 1 0 3.49 0a1.75 1.75 0 1 0 -3.49 0M1169.4 21.7a1.99 1.99 0 1 0 3.98 0a1.99 1.99 0 1 0 -3.98 0M1167.0 29.7a2.22 2.22 0 1 0 4.43 0a2.22 2.22 0 1 0 -4.43 0M1164.6 37.8a2.50 2.50 0 1 0 5.00 0a2.50 2.50 0 1 0 -5.00 0M1162.1 45.8a2.85 2.85 0 1 0 5.70 0a2.85 2.85 0 1 0 -5.70 0M1159.5 53.8a3.26 3.26 0 1 0 6.52 0a3.26 3.26 0 1 0 -6.52 0M1186.6 -8.2a1.41 1.41 0 1 0 2.83 0a1.41 1.41 0 1 0 -2.83 0M1184.4 -0.2a1.50 1.50 0 1 0 3.00 0a1.50 1.50 0 1 0 -3.00 0M1182.1 7.8a1.61 1.61 0 1 0 3.22 0a1.61 1.61 0 1 0 -3.22 0M1179.8 15.8a1.71 1.71 0 1 0 3.43 0a1.71 1.71 0 1 0 -3.43 0M1177.5 23.9a1.91 1.91 0 1 0 3.83 0a1.91 1.91 0 1 0 -3.83 0M1175.1 31.9a2.15 2.15 0 1 0 4.30 0a2.15 2.15 0 1 0 -4.30 0M1172.7 39.9a2.38 2.38 0 1 0 4.75 0a2.38 2.38 0 1 0 -4.75 0M1170.2 47.9a2.74 2.74 0 1 0 5.48 0a2.74 2.74 0 1 0 -5.48 0M1167.7 55.9a3.13 3.13 0 1 0 6.26 0a3.13 3.13 0 1 0 -6.26 0M1194.6 -6.1a1.39 1.39 0 1 0 2.78 0a1.39 1.39 0 1 0 -2.78 0M1192.4 2.0a1.47 1.47 0 1 0 2.94 0a1.47 1.47 0 1 0 -2.94 0M1190.1 10.0a1.58 1.58 0 1 0 3.15 0a1.58 1.58 0 1 0 -3.15 0M1187.9 18.0a1.68 1.68 0 1 0 3.36 0a1.68 1.68 0 1 0 -3.36 0M1185.6 26.0a1.83 1.83 0 1 0 3.67 0a1.83 1.83 0 1 0 -3.67 0M1183.2 34.0a2.08 2.08 0 1 0 4.15 0a2.08 2.08 0 1 0 -4.15 0M1180.8 42.0a2.29 2.29 0 1 0 4.58 0a2.29 2.29 0 1 0 -4.58 0M1178.4 50.1a2.63 2.63 0 1 0 5.25 0a2.63 2.63 0 1 0 -5.25 0M1175.8 58.1a2.99 2.99 0 1 0 5.98 0a2.99 2.99 0 1 0 -5.98 0M1202.7 -3.9a1.36 1.36 0 1 0 2.72 0a1.36 1.36 0 1 0 -2.72 0M1200.4 4.1a1.44 1.44 0 1 0 2.89 0a1.44 1.44 0 1 0 -2.89 0M1198.2 12.1a1.54 1.54 0 1 0 3.08 0a1.54 1.54 0 1 0 -3.08 0M1195.9 20.1a1.65 1.65 0 1 0 3.30 0a1.65 1.65 0 1 0 -3.30 0M1193.7 28.2a1.75 1.75 0 1 0 3.50 0a1.75 1.75 0 1 0 -3.50 0M1191.3 36.2a2.00 2.00 0 1 0 3.99 0a2.00 2.00 0 1 0 -3.99 0M1188.9 44.2a2.22 2.22 0 1 0 4.44 0a2.22 2.22 0 1 0 -4.44 0M1186.5 52.2a2.50 2.50 0 1 0 5.00 0a2.50 2.50 0 1 0 -5.00 0M1184.0 60.2a2.85 2.85 0 1 0 5.70 0a2.85 2.85 0 1 0 -5.70 0M1181.4 68.2a3.26 3.26 0 1 0 6.51 0a3.26 3.26 0 1 0 -6.51 0M1213.0 -9.8a1.25 1.25 0 1 0 2.49 0a1.25 1.25 0 1 0 -2.49 0M1210.7 -1.8a1.33 1.33 0 1 0 2.67 0a1.33 1.33 0 1 0 -2.67 0M1208.5 6.3a1.42 1.42 0 1 0 2.83 0a1.42 1.42 0 1 0 -2.83 0M1206.3 14.3a1.50 1.50 0 1 0 3.01 0a1.50 1.50 0 1 0 -3.01 0M1204.0 22.3a1.61 1.61 0 1 0 3.23 0a1.61 1.61 0 1 0 -3.23 0M1201.7 30.3a1.72 1.72 0 1 0 3.43 0a1.72 1.72 0 1 0 -3.43 0M1199.4 38.3a1.91 1.91 0 1 0 3.83 0a1.91 1.91 0 1 0 -3.83 0M1197.0 46.3a2.14 2.14 0 1 0 4.29 0a2.14 2.14 0 1 0 -4.29 0M1194.7 54.4a2.37 2.37 0 1 0 4.73 0a2.37 2.37 0 1 0 -4.73 0M1192.1 62.4a2.73 2.73 0 1 0 5.46 0a2.73 2.73 0 1 0 -5.46 0M1189.6 70.4a3.11 3.11 0 1 0 6.22 0a3.11 3.11 0 1 0 -6.22 0M1221.0 -7.6a1.21 1.21 0 1 0 2.43 0a1.21 1.21 0 1 0 -2.43 0M1218.8 0.4a1.30 1.30 0 1 0 2.61 0a1.30 1.30 0 1 0 -2.61 0M1216.5 8.4a1.39 1.39 0 1 0 2.78 0a1.39 1.39 0 1 0 -2.78 0M1214.3 16.4a1.47 1.47 0 1 0 2.94 0a1.47 1.47 0 1 0 -2.94 0M1212.1 24.4a1.58 1.58 0 1 0 3.15 0a1.58 1.58 0 1 0 -3.15 0M1209.8 32.5a1.68 1.68 0 1 0 3.36 0a1.68 1.68 0 1 0 -3.36 0M1207.5 40.5a1.82 1.82 0 1 0 3.65 0a1.82 1.82 0 1 0 -3.65 0M1205.1 48.5a2.06 2.06 0 1 0 4.13 0a2.06 2.06 0 1 0 -4.13 0M1202.8 56.5a2.28 2.28 0 1 0 4.56 0a2.28 2.28 0 1 0 -4.56 0M1200.3 64.5a2.60 2.60 0 1 0 5.20 0a2.60 2.60 0 1 0 -5.20 0M1197.8 72.5a2.95 2.95 0 1 0 5.90 0a2.95 2.95 0 1 0 -5.90 0M1229.1 -5.5a1.18 1.18 0 1 0 2.36 0a1.18 1.18 0 1 0 -2.36 0M1226.8 2.5a1.27 1.27 0 1 0 2.55 0a1.27 1.27 0 1 0 -2.55 0M1224.6 10.6a1.36 1.36 0 1 0 2.72 0a1.36 1.36 0 1 0 -2.72 0M1222.4 18.6a1.44 1.44 0 1 0 2.88 0a1.44 1.44 0 1 0 -2.88 0M1220.1 26.6a1.54 1.54 0 1 0 3.07 0a1.54 1.54 0 1 0 -3.07 0M1217.9 34.6a1.64 1.64 0 1 0 3.28 0a1.64 1.64 0 1 0 -3.28 0M1215.6 42.6a1.74 1.74 0 1 0 3.48 0a1.74 1.74 0 1 0 -3.48 0M1213.2 50.6a1.98 1.98 0 1 0 3.95 0a1.98 1.98 0 1 0 -3.95 0M1210.9 58.7a2.20 2.20 0 1 0 4.40 0a2.20 2.20 0 1 0 -4.40 0M1208.4 66.7a2.46 2.46 0 1 0 4.92 0a2.46 2.46 0 1 0 -4.92 0M1205.9 74.7a2.81 2.81 0 1 0 5.61 0a2.81 2.81 0 1 0 -5.61 0M1203.4 82.7a3.20 3.20 0 1 0 6.40 0a3.20 3.20 0 1 0 -6.40 0M1237.1 -3.3a1.15 1.15 0 1 0 2.29 0a1.15 1.15 0 1 0 -2.29 0M1234.9 4.7a1.24 1.24 0 1 0 2.48 0a1.24 1.24 0 1 0 -2.48 0M1232.6 12.7a1.33 1.33 0 1 0 2.66 0a1.33 1.33 0 1 0 -2.66 0M1230.4 20.7a1.41 1.41 0 1 0 2.82 0a1.41 1.41 0 1 0 -2.82 0M1228.2 28.7a1.49 1.49 0 1 0 2.99 0a1.49 1.49 0 1 0 -2.99 0M1225.9 36.8a1.60 1.60 0 1 0 3.21 0a1.60 1.60 0 1 0 -3.21 0M1223.7 44.8a1.70 1.70 0 1 0 3.41 0a1.70 1.70 0 1 0 -3.41 0M1221.3 52.8a1.88 1.88 0 1 0 3.77 0a1.88 1.88 0 1 0 -3.77 0M1219.0 60.8a2.11 2.11 0 1 0 4.23 0a2.11 2.11 0 1 0 -4.23 0M1216.6 68.8a2.32 2.32 0 1 0 4.65 0a2.32 2.32 0 1 0 -4.65 0M1214.1 76.8a2.67 2.67 0 1 0 5.34 0a2.67 2.67 0 1 0 -5.34 0M1211.6 84.9a3.03 3.03 0 1 0 6.07 0a3.03 3.03 0 1 0 -6.07 0M1247.4 -9.2a1.04 1.04 0 1 0 2.08 0a1.04 1.04 0 1 0 -2.08 0M1245.2 -1.2a1.12 1.12 0 1 0 2.24 0a1.12 1.12 0 1 0 -2.24 0M1242.9 6.8a1.21 1.21 0 1 0 2.41 0a1.21 1.21 0 1 0 -2.41 0M1240.7 14.9a1.30 1.30 0 1 0 2.59 0a1.30 1.30 0 1 0 -2.59 0M1238.4 22.9a1.38 1.38 0 1 0 2.76 0a1.38 1.38 0 1 0 -2.76 0M1236.2 30.9a1.46 1.46 0 1 0 2.92 0a1.46 1.46 0 1 0 -2.92 0M1234.0 38.9a1.56 1.56 0 1 0 3.12 0a1.56 1.56 0 1 0 -3.12 0M1231.7 46.9a1.67 1.67 0 1 0 3.33 0a1.67 1.67 0 1 0 -3.33 0M1229.5 54.9a1.78 1.78 0 1 0 3.56 0a1.78 1.78 0 1 0 -3.56 0M1227.1 63.0a2.02 2.02 0 1 0 4.05 0a2.02 2.02 0 1 0 -4.05 0M1224.7 71.0a2.24 2.24 0 1 0 4.48 0a2.24 2.24 0 1 0 -4.48 0M1222.3 79.0a2.53 2.53 0 1 0 5.05 0a2.53 2.53 0 1 0 -5.05 0M1219.8 87.0a2.86 2.86 0 1 0 5.72 0a2.86 2.86 0 1 0 -5.72 0M1217.2 95.0a3.26 3.26 0 1 0 6.52 0a3.26 3.26 0 1 0 -6.52 0M1255.4 -7.1a1.01 1.01 0 1 0 2.02 0a1.01 1.01 0 1 0 -2.02 0M1253.2 1.0a1.09 1.09 0 1 0 2.18 0a1.09 1.09 0 1 0 -2.18 0M1251.0 9.0a1.17 1.17 0 1 0 2.34 0a1.17 1.17 0 1 0 -2.34 0M1248.7 17.0a1.26 1.26 0 1 0 2.53 0a1.26 1.26 0 1 0 -2.53 0M1246.5 25.0a1.35 1.35 0 1 0 2.70 0a1.35 1.35 0 1 0 -2.70 0M1244.3 33.0a1.43 1.43 0 1 0 2.86 0a1.43 1.43 0 1 0 -2.86 0M1242.0 41.1a1.52 1.52 0 1 0 3.03 0a1.52 1.52 0 1 0 -3.03 0M1239.8 49.1a1.62 1.62 0 1 0 3.25 0a1.62 1.62 0 1 0 -3.25 0M1237.5 57.1a1.72 1.72 0 1 0 3.45 0a1.72 1.72 0 1 0 -3.45 0M1235.2 65.1a1.93 1.93 0 1 0 3.85 0a1.93 1.93 0 1 0 -3.85 0M1232.8 73.1a2.15 2.15 0 1 0 4.30 0a2.15 2.15 0 1 0 -4.30 0M1230.4 81.1a2.37 2.37 0 1 0 4.73 0a2.37 2.37 0 1 0 -4.73 0M1227.9 89.2a2.72 2.72 0 1 0 5.44 0a2.72 2.72 0 1 0 -5.44 0M1225.4 97.2a3.09 3.09 0 1 0 6.18 0a3.09 3.09 0 1 0 -6.18 0M1263.5 -4.9a0.98 0.98 0 1 0 1.96 0a0.98 0.98 0 1 0 -1.96 0M1261.2 3.1a1.06 1.06 0 1 0 2.12 0a1.06 1.06 0 1 0 -2.12 0M1259.0 11.1a1.14 1.14 0 1 0 2.27 0a1.14 1.14 0 1 0 -2.27 0M1256.8 19.1a1.23 1.23 0 1 0 2.45 0a1.23 1.23 0 1 0 -2.45 0M1254.5 27.2a1.31 1.31 0 1 0 2.63 0a1.31 1.31 0 1 0 -2.63 0M1252.3 35.2a1.40 1.40 0 1 0 2.79 0a1.40 1.40 0 1 0 -2.79 0M1250.1 43.2a1.47 1.47 0 1 0 2.95 0a1.47 1.47 0 1 0 -2.95 0M1247.8 51.2a1.58 1.58 0 1 0 3.16 0a1.58 1.58 0 1 0 -3.16 0M1245.6 59.2a1.68 1.68 0 1 0 3.36 0a1.68 1.68 0 1 0 -3.36 0M1243.3 67.3a1.82 1.82 0 1 0 3.64 0a1.82 1.82 0 1 0 -3.64 0M1240.9 75.3a2.06 2.06 0 1 0 4.11 0a2.06 2.06 0 1 0 -4.11 0M1238.6 83.3a2.27 2.27 0 1 0 4.53 0a2.27 2.27 0 1 0 -4.53 0M1236.1 91.3a2.57 2.57 0 1 0 5.14 0a2.57 2.57 0 1 0 -5.14 0M1233.6 99.3a2.90 2.90 0 1 0 5.80 0a2.90 2.90 0 1 0 -5.80 0M1231.1 107.3a3.30 3.30 0 1 0 6.60 0a3.30 3.30 0 1 0 -6.60 0M1271.5 -2.8a0.94 0.94 0 1 0 1.89 0a0.94 0.94 0 1 0 -1.89 0M1269.3 5.3a1.03 1.03 0 1 0 2.06 0a1.03 1.03 0 1 0 -2.06 0M1267.1 13.3a1.11 1.11 0 1 0 2.21 0a1.11 1.11 0 1 0 -2.21 0M1264.8 21.3a1.19 1.19 0 1 0 2.38 0a1.19 1.19 0 1 0 -2.38 0M1262.6 29.3a1.28 1.28 0 1 0 2.56 0a1.28 1.28 0 1 0 -2.56 0M1260.4 37.3a1.36 1.36 0 1 0 2.73 0a1.36 1.36 0 1 0 -2.73 0M1258.1 45.3a1.44 1.44 0 1 0 2.88 0a1.44 1.44 0 1 0 -2.88 0M1255.9 53.4a1.53 1.53 0 1 0 3.07 0a1.53 1.53 0 1 0 -3.07 0M1253.6 61.4a1.64 1.64 0 1 0 3.28 0a1.64 1.64 0 1 0 -3.28 0M1251.4 69.4a1.74 1.74 0 1 0 3.47 0a1.74 1.74 0 1 0 -3.47 0M1249.0 77.4a1.95 1.95 0 1 0 3.91 0a1.95 1.95 0 1 0 -3.91 0M1246.7 85.4a2.17 2.17 0 1 0 4.35 0a2.17 2.17 0 1 0 -4.35 0M1244.3 93.5a2.40 2.40 0 1 0 4.80 0a2.40 2.40 0 1 0 -4.80 0M1241.8 101.5a2.75 2.75 0 1 0 5.49 0a2.75 2.75 0 1 0 -5.49 0M1239.3 109.5a3.11 3.11 0 1 0 6.23 0a3.11 3.11 0 1 0 -6.23 0M1281.8 -8.6a0.81 0.81 0 1 0 1.62 0a0.81 0.81 0 1 0 -1.62 0M1279.6 -0.6a0.91 0.91 0 1 0 1.81 0a0.91 0.91 0 1 0 -1.81 0M1277.3 7.4a0.99 0.99 0 1 0 1.99 0a0.99 0.99 0 1 0 -1.99 0M1275.1 15.4a1.07 1.07 0 1 0 2.15 0a1.07 1.07 0 1 0 -2.15 0M1272.9 23.4a1.15 1.15 0 1 0 2.30 0a1.15 1.15 0 1 0 -2.30 0M1270.7 31.5a1.24 1.24 0 1 0 2.48 0a1.24 1.24 0 1 0 -2.48 0M1268.4 39.5a1.33 1.33 0 1 0 2.65 0a1.33 1.33 0 1 0 -2.65 0M1266.2 47.5a1.41 1.41 0 1 0 2.81 0a1.41 1.41 0 1 0 -2.81 0M1264.0 55.5a1.48 1.48 0 1 0 2.97 0a1.48 1.48 0 1 0 -2.97 0M1261.7 63.5a1.59 1.59 0 1 0 3.18 0a1.59 1.59 0 1 0 -3.18 0M1259.5 71.5a1.69 1.69 0 1 0 3.38 0a1.69 1.69 0 1 0 -3.38 0M1257.2 79.6a1.84 1.84 0 1 0 3.69 0a1.84 1.84 0 1 0 -3.69 0M1254.8 87.6a2.07 2.07 0 1 0 4.15 0a2.07 2.07 0 1 0 -4.15 0M1252.4 95.6a2.28 2.28 0 1 0 4.56 0a2.28 2.28 0 1 0 -4.56 0M1250.0 103.6a2.59 2.59 0 1 0 5.17 0a2.59 2.59 0 1 0 -5.17 0M1247.5 111.6a2.91 2.91 0 1 0 5.83 0a2.91 2.91 0 1 0 -5.83 0M1245.0 119.7a3.31 3.31 0 1 0 6.61 0a3.31 3.31 0 1 0 -6.61 0M1289.8 -6.5a0.81 0.81 0 1 0 1.62 0a0.81 0.81 0 1 0 -1.62 0M1287.6 1.5a0.87 0.87 0 1 0 1.73 0a0.87 0.87 0 1 0 -1.73 0M1285.4 9.6a0.96 0.96 0 1 0 1.91 0a0.96 0.96 0 1 0 -1.91 0M1283.2 17.6a1.04 1.04 0 1 0 2.08 0a1.04 1.04 0 1 0 -2.08 0M1280.9 25.6a1.12 1.12 0 1 0 2.23 0a1.12 1.12 0 1 0 -2.23 0M1278.7 33.6a1.20 1.20 0 1 0 2.40 0a1.20 1.20 0 1 0 -2.40 0M1276.5 41.6a1.29 1.29 0 1 0 2.58 0a1.29 1.29 0 1 0 -2.58 0M1274.2 49.6a1.37 1.37 0 1 0 2.74 0a1.37 1.37 0 1 0 -2.74 0M1272.0 57.7a1.45 1.45 0 1 0 2.90 0a1.45 1.45 0 1 0 -2.90 0M1269.8 65.7a1.54 1.54 0 1 0 3.09 0a1.54 1.54 0 1 0 -3.09 0M1267.5 73.7a1.65 1.65 0 1 0 3.29 0a1.65 1.65 0 1 0 -3.29 0M1265.3 81.7a1.74 1.74 0 1 0 3.48 0a1.74 1.74 0 1 0 -3.48 0M1262.9 89.7a1.97 1.97 0 1 0 3.93 0a1.97 1.97 0 1 0 -3.93 0M1260.5 97.7a2.18 2.18 0 1 0 4.36 0a2.18 2.18 0 1 0 -4.36 0M1258.2 105.8a2.41 2.41 0 1 0 4.82 0a2.41 2.41 0 1 0 -4.82 0M1255.7 113.8a2.75 2.75 0 1 0 5.50 0a2.75 2.75 0 1 0 -5.50 0M1253.2 121.8a3.11 3.11 0 1 0 6.22 0a3.11 3.11 0 1 0 -6.22 0M1297.9 -4.3a0.81 0.81 0 1 0 1.62 0a0.81 0.81 0 1 0 -1.62 0M1295.7 3.7a0.82 0.82 0 1 0 1.65 0a0.82 0.82 0 1 0 -1.65 0M1293.5 11.7a0.92 0.92 0 1 0 1.84 0a0.92 0.92 0 1 0 -1.84 0M1291.2 19.7a1.00 1.00 0 1 0 2.01 0a1.00 1.00 0 1 0 -2.01 0M1289.0 27.7a1.08 1.08 0 1 0 2.17 0a1.08 1.08 0 1 0 -2.17 0M1286.8 35.8a1.16 1.16 0 1 0 2.32 0a1.16 1.16 0 1 0 -2.32 0M1284.5 43.8a1.25 1.25 0 1 0 2.50 0a1.25 1.25 0 1 0 -2.50 0M1282.3 51.8a1.33 1.33 0 1 0 2.67 0a1.33 1.33 0 1 0 -2.67 0M1280.1 59.8a1.41 1.41 0 1 0 2.83 0a1.41 1.41 0 1 0 -2.83 0M1277.8 67.8a1.49 1.49 0 1 0 2.98 0a1.49 1.49 0 1 0 -2.98 0M1275.6 75.8a1.60 1.60 0 1 0 3.19 0a1.60 1.60 0 1 0 -3.19 0M1273.3 83.9a1.69 1.69 0 1 0 3.39 0a1.69 1.69 0 1 0 -3.39 0M1271.0 91.9a1.85 1.85 0 1 0 3.70 0a1.85 1.85 0 1 0 -3.70 0M1268.7 99.9a2.07 2.07 0 1 0 4.15 0a2.07 2.07 0 1 0 -4.15 0M1266.3 107.9a2.28 2.28 0 1 0 4.56 0a2.28 2.28 0 1 0 -4.56 0M1263.9 115.9a2.58 2.58 0 1 0 5.16 0a2.58 2.58 0 1 0 -5.16 0M1261.4 123.9a2.90 2.90 0 1 0 5.80 0a2.90 2.90 0 1 0 -5.80 0M1258.9 132.0a3.29 3.29 0 1 0 6.58 0a3.29 3.29 0 1 0 -6.58 0M1305.9 -2.2a0.81 0.81 0 1 0 1.61 0a0.81 0.81 0 1 0 -1.61 0M1303.7 5.8a0.81 0.81 0 1 0 1.62 0a0.81 0.81 0 1 0 -1.62 0M1301.5 13.9a0.88 0.88 0 1 0 1.76 0a0.88 0.88 0 1 0 -1.76 0M1299.3 21.9a0.97 0.97 0 1 0 1.93 0a0.97 0.97 0 1 0 -1.93 0M1297.0 29.9a1.05 1.05 0 1 0 2.09 0a1.05 1.05 0 1 0 -2.09 0M1294.8 37.9a1.12 1.12 0 1 0 2.25 0a1.12 1.12 0 1 0 -2.25 0M1292.6 45.9a1.21 1.21 0 1 0 2.42 0a1.21 1.21 0 1 0 -2.42 0M1290.4 53.9a1.29 1.29 0 1 0 2.59 0a1.29 1.29 0 1 0 -2.59 0M1288.1 62.0a1.38 1.38 0 1 0 2.75 0a1.38 1.38 0 1 0 -2.75 0M1285.9 70.0a1.45 1.45 0 1 0 2.90 0a1.45 1.45 0 1 0 -2.90 0M1283.7 78.0a1.54 1.54 0 1 0 3.09 0a1.54 1.54 0 1 0 -3.09 0M1281.4 86.0a1.65 1.65 0 1 0 3.29 0a1.65 1.65 0 1 0 -3.29 0M1279.2 94.0a1.74 1.74 0 1 0 3.48 0a1.74 1.74 0 1 0 -3.48 0M1276.8 102.0a1.96 1.96 0 1 0 3.92 0a1.96 1.96 0 1 0 -3.92 0M1274.4 110.1a2.17 2.17 0 1 0 4.35 0a2.17 2.17 0 1 0 -4.35 0M1272.1 118.1a2.39 2.39 0 1 0 4.78 0a2.39 2.39 0 1 0 -4.78 0M1269.6 126.1a2.73 2.73 0 1 0 5.46 0a2.73 2.73 0 1 0 -5.46 0M1267.1 134.1a3.08 3.08 0 1 0 6.16 0a3.08 3.08 0 1 0 -6.16 0M1316.1 -8.0a0.80 0.80 0 1 0 1.60 0a0.80 0.80 0 1 0 -1.60 0M1313.9 -0.0a0.80 0.80 0 1 0 1.61 0a0.80 0.80 0 1 0 -1.61 0M1311.7 8.0a0.81 0.81 0 1 0 1.62 0a0.81 0.81 0 1 0 -1.62 0M1309.6 16.0a0.83 0.83 0 1 0 1.67 0a0.83 0.83 0 1 0 -1.67 0M1307.3 24.0a0.93 0.93 0 1 0 1.85 0a0.93 0.93 0 1 0 -1.85 0M1305.1 32.0a1.01 1.01 0 1 0 2.02 0a1.01 1.01 0 1 0 -2.02 0M1302.9 40.1a1.09 1.09 0 1 0 2.17 0a1.09 1.09 0 1 0 -2.17 0M1300.7 48.1a1.16 1.16 0 1 0 2.33 0a1.16 1.16 0 1 0 -2.33 0M1298.4 56.1a1.25 1.25 0 1 0 2.51 0a1.25 1.25 0 1 0 -2.51 0M1296.2 64.1a1.34 1.34 0 1 0 2.67 0a1.34 1.34 0 1 0 -2.67 0M1294.0 72.1a1.41 1.41 0 1 0 2.83 0a1.41 1.41 0 1 0 -2.83 0M1291.7 80.1a1.49 1.49 0 1 0 2.98 0a1.49 1.49 0 1 0 -2.98 0M1289.5 88.2a1.59 1.59 0 1 0 3.19 0a1.59 1.59 0 1 0 -3.19 0M1287.2 96.2a1.69 1.69 0 1 0 3.38 0a1.69 1.69 0 1 0 -3.38 0M1284.9 104.2a1.84 1.84 0 1 0 3.67 0a1.84 1.84 0 1 0 -3.67 0M1282.6 112.2a2.06 2.06 0 1 0 4.12 0a2.06 2.06 0 1 0 -4.12 0M1280.2 120.2a2.26 2.26 0 1 0 4.53 0a2.26 2.26 0 1 0 -4.53 0M1277.8 128.2a2.55 2.55 0 1 0 5.09 0a2.55 2.55 0 1 0 -5.09 0M1275.3 136.3a2.86 2.86 0 1 0 5.73 0a2.86 2.86 0 1 0 -5.73 0M1272.8 144.3a3.24 3.24 0 1 0 6.48 0a3.24 3.24 0 1 0 -6.48 0M1324.1 -5.9a0.80 0.80 0 1 0 1.60 0a0.80 0.80 0 1 0 -1.60 0M1321.9 2.1a0.80 0.80 0 1 0 1.61 0a0.80 0.80 0 1 0 -1.61 0M1319.8 10.1a0.81 0.81 0 1 0 1.61 0a0.81 0.81 0 1 0 -1.61 0M1317.6 18.2a0.81 0.81 0 1 0 1.62 0a0.81 0.81 0 1 0 -1.62 0M1315.4 26.2a0.88 0.88 0 1 0 1.77 0a0.88 0.88 0 1 0 -1.77 0M1313.2 34.2a0.97 0.97 0 1 0 1.94 0a0.97 0.97 0 1 0 -1.94 0M1310.9 42.2a1.05 1.05 0 1 0 2.10 0a1.05 1.05 0 1 0 -2.10 0M1308.7 50.2a1.12 1.12 0 1 0 2.25 0a1.12 1.12 0 1 0 -2.25 0M1306.5 58.2a1.21 1.21 0 1 0 2.42 0a1.21 1.21 0 1 0 -2.42 0M1304.2 66.3a1.29 1.29 0 1 0 2.59 0a1.29 1.29 0 1 0 -2.59 0M1302.0 74.3a1.37 1.37 0 1 0 2.75 0a1.37 1.37 0 1 0 -2.75 0M1299.8 82.3a1.45 1.45 0 1 0 2.90 0a1.45 1.45 0 1 0 -2.90 0M1297.6 90.3a1.54 1.54 0 1 0 3.08 0a1.54 1.54 0 1 0 -3.08 0M1295.3 98.3a1.64 1.64 0 1 0 3.28 0a1.64 1.64 0 1 0 -3.28 0M1293.1 106.3a1.73 1.73 0 1 0 3.47 0a1.73 1.73 0 1 0 -3.47 0M1290.7 114.4a1.94 1.94 0 1 0 3.88 0a1.94 1.94 0 1 0 -3.88 0M1288.3 122.4a2.15 2.15 0 1 0 4.30 0a2.15 2.15 0 1 0 -4.30 0M1286.0 130.4a2.35 2.35 0 1 0 4.69 0a2.35 2.35 0 1 0 -4.69 0M1283.5 138.4a2.68 2.68 0 1 0 5.37 0a2.68 2.68 0 1 0 -5.37 0M1281.0 146.4a3.02 3.02 0 1 0 6.04 0a3.02 3.02 0 1 0 -6.04 0M1332.1 -3.8a0.80 0.80 0 1 0 1.60 0a0.80 0.80 0 1 0 -1.60 0M1329.9 4.3a0.80 0.80 0 1 0 1.60 0a0.80 0.80 0 1 0 -1.60 0M1327.8 12.3a0.80 0.80 0 1 0 1.61 0a0.80 0.80 0 1 0 -1.61 0M1325.6 20.3a0.81 0.81 0 1 0 1.62 0a0.81 0.81 0 1 0 -1.62 0M1323.5 28.3a0.84 0.84 0 1 0 1.67 0a0.84 0.84 0 1 0 -1.67 0M1321.2 36.3a0.93 0.93 0 1 0 1.86 0a0.93 0.93 0 1 0 -1.86 0M1319.0 44.4a1.01 1.01 0 1 0 2.02 0a1.01 1.01 0 1 0 -2.02 0M1316.8 52.4a1.09 1.09 0 1 0 2.17 0a1.09 1.09 0 1 0 -2.17 0M1314.5 60.4a1.16 1.16 0 1 0 2.32 0a1.16 1.16 0 1 0 -2.32 0M1312.3 68.4a1.25 1.25 0 1 0 2.50 0a1.25 1.25 0 1 0 -2.50 0M1310.1 76.4a1.33 1.33 0 1 0 2.66 0a1.33 1.33 0 1 0 -2.66 0M1307.8 84.4a1.41 1.41 0 1 0 2.82 0a1.41 1.41 0 1 0 -2.82 0M1305.6 92.5a1.48 1.48 0 1 0 2.97 0a1.48 1.48 0 1 0 -2.97 0M1303.4 100.5a1.59 1.59 0 1 0 3.17 0a1.59 1.59 0 1 0 -3.17 0M1301.1 108.5a1.68 1.68 0 1 0 3.36 0a1.68 1.68 0 1 0 -3.36 0M1298.9 116.5a1.81 1.81 0 1 0 3.62 0a1.81 1.81 0 1 0 -3.62 0M1296.5 124.5a2.03 2.03 0 1 0 4.06 0a2.03 2.03 0 1 0 -4.06 0M1294.1 132.5a2.23 2.23 0 1 0 4.47 0a2.23 2.23 0 1 0 -4.47 0M1291.7 140.6a2.49 2.49 0 1 0 4.98 0a2.49 2.49 0 1 0 -4.98 0M1289.3 148.6a2.80 2.80 0 1 0 5.61 0a2.80 2.80 0 1 0 -5.61 0M1286.8 156.6a3.16 3.16 0 1 0 6.32 0a3.16 3.16 0 1 0 -6.32 0M1342.3 -9.6a0.79 0.79 0 1 0 1.58 0a0.79 0.79 0 1 0 -1.58 0M1340.1 -1.6a0.80 0.80 0 1 0 1.59 0a0.80 0.80 0 1 0 -1.59 0M1338.0 6.4a0.80 0.80 0 1 0 1.60 0a0.80 0.80 0 1 0 -1.60 0M1335.8 14.4a0.80 0.80 0 1 0 1.61 0a0.80 0.80 0 1 0 -1.61 0M1333.7 22.4a0.81 0.81 0 1 0 1.61 0a0.81 0.81 0 1 0 -1.61 0M1331.5 30.5a0.81 0.81 0 1 0 1.62 0a0.81 0.81 0 1 0 -1.62 0M1329.3 38.5a0.88 0.88 0 1 0 1.77 0a0.88 0.88 0 1 0 -1.77 0M1327.0 46.5a0.97 0.97 0 1 0 1.94 0a0.97 0.97 0 1 0 -1.94 0M1324.8 54.5a1.05 1.05 0 1 0 2.10 0a1.05 1.05 0 1 0 -2.10 0M1322.6 62.5a1.12 1.12 0 1 0 2.24 0a1.12 1.12 0 1 0 -2.24 0M1320.4 70.6a1.20 1.20 0 1 0 2.41 0a1.20 1.20 0 1 0 -2.41 0M1318.1 78.6a1.29 1.29 0 1 0 2.58 0a1.29 1.29 0 1 0 -2.58 0M1315.9 86.6a1.37 1.37 0 1 0 2.73 0a1.37 1.37 0 1 0 -2.73 0M1313.7 94.6a1.44 1.44 0 1 0 2.88 0a1.44 1.44 0 1 0 -2.88 0M1311.5 102.6a1.53 1.53 0 1 0 3.06 0a1.53 1.53 0 1 0 -3.06 0M1309.2 110.6a1.63 1.63 0 1 0 3.25 0a1.63 1.63 0 1 0 -3.25 0M1307.0 118.7a1.72 1.72 0 1 0 3.44 0a1.72 1.72 0 1 0 -3.44 0M1304.6 126.7a1.90 1.90 0 1 0 3.80 0a1.90 1.90 0 1 0 -3.80 0M1302.3 134.7a2.11 2.11 0 1 0 4.23 0a2.11 2.11 0 1 0 -4.23 0M1299.9 142.7a2.31 2.31 0 1 0 4.61 0a2.31 2.31 0 1 0 -4.61 0M1297.5 150.7a2.61 2.61 0 1 0 5.22 0a2.61 2.61 0 1 0 -5.22 0M1295.0 158.7a2.92 2.92 0 1 0 5.84 0a2.92 2.92 0 1 0 -5.84 0M1292.5 166.8a3.29 3.29 0 1 0 6.58 0a3.29 3.29 0 1 0 -6.58 0M1350.3 -7.5a0.79 0.79 0 1 0 1.58 0a0.79 0.79 0 1 0 -1.58 0M1348.1 0.5a0.79 0.79 0 1 0 1.59 0a0.79 0.79 0 1 0 -1.59 0M1346.0 8.6a0.80 0.80 0 1 0 1.60 0a0.80 0.80 0 1 0 -1.60 0M1343.8 16.6a0.80 0.80 0 1 0 1.60 0a0.80 0.80 0 1 0 -1.60 0M1341.7 24.6a0.80 0.80 0 1 0 1.61 0a0.80 0.80 0 1 0 -1.61 0M1339.5 32.6a0.81 0.81 0 1 0 1.62 0a0.81 0.81 0 1 0 -1.62 0M1337.3 40.6a0.83 0.83 0 1 0 1.67 0a0.83 0.83 0 1 0 -1.67 0M1335.1 48.6a0.92 0.92 0 1 0 1.85 0a0.92 0.92 0 1 0 -1.85 0M1332.9 56.7a1.01 1.01 0 1 0 2.01 0a1.01 1.01 0 1 0 -2.01 0M1330.7 64.7a1.08 1.08 0 1 0 2.16 0a1.08 1.08 0 1 0 -2.16 0M1328.4 72.7a1.15 1.15 0 1 0 2.31 0a1.15 1.15 0 1 0 -2.31 0M1326.2 80.7a1.24 1.24 0 1 0 2.48 0a1.24 1.24 0 1 0 -2.48 0M1324.0 88.7a1.32 1.32 0 1 0 2.65 0a1.32 1.32 0 1 0 -2.65 0M1321.7 96.8a1.40 1.40 0 1 0 2.80 0a1.40 1.40 0 1 0 -2.80 0M1319.5 104.8a1.47 1.47 0 1 0 2.94 0a1.47 1.47 0 1 0 -2.94 0M1317.3 112.8a1.57 1.57 0 1 0 3.14 0a1.57 1.57 0 1 0 -3.14 0M1315.0 120.8a1.66 1.66 0 1 0 3.33 0a1.66 1.66 0 1 0 -3.33 0M1312.8 128.8a1.76 1.76 0 1 0 3.52 0a1.76 1.76 0 1 0 -3.52 0M1310.4 136.8a1.99 1.99 0 1 0 3.97 0a1.99 1.99 0 1 0 -3.97 0M1308.1 144.9a2.19 2.19 0 1 0 4.37 0a2.19 2.19 0 1 0 -4.37 0M1305.7 152.9a2.40 2.40 0 1 0 4.80 0a2.40 2.40 0 1 0 -4.80 0M1303.2 160.9a2.72 2.72 0 1 0 5.44 0a2.72 2.72 0 1 0 -5.44 0M1300.8 168.9a3.05 3.05 0 1 0 6.10 0a3.05 3.05 0 1 0 -6.10 0M1358.3 -5.3a0.79 0.79 0 1 0 1.58 0a0.79 0.79 0 1 0 -1.58 0M1356.1 2.7a0.79 0.79 0 1 0 1.58 0a0.79 0.79 0 1 0 -1.58 0M1354.0 10.7a0.80 0.80 0 1 0 1.59 0a0.80 0.80 0 1 0 -1.59 0M1351.8 18.7a0.80 0.80 0 1 0 1.60 0a0.80 0.80 0 1 0 -1.60 0M1349.7 26.7a0.80 0.80 0 1 0 1.61 0a0.80 0.80 0 1 0 -1.61 0M1347.5 34.8a0.81 0.81 0 1 0 1.61 0a0.81 0.81 0 1 0 -1.61 0M1345.4 42.8a0.81 0.81 0 1 0 1.62 0a0.81 0.81 0 1 0 -1.62 0M1343.2 50.8a0.88 0.88 0 1 0 1.75 0a0.88 0.88 0 1 0 -1.75 0M1340.9 58.8a0.96 0.96 0 1 0 1.92 0a0.96 0.96 0 1 0 -1.92 0M1338.7 66.8a1.04 1.04 0 1 0 2.08 0a1.04 1.04 0 1 0 -2.08 0M1336.5 74.8a1.11 1.11 0 1 0 2.23 0a1.11 1.11 0 1 0 -2.23 0M1334.3 82.9a1.19 1.19 0 1 0 2.38 0a1.19 1.19 0 1 0 -2.38 0M1332.0 90.9a1.28 1.28 0 1 0 2.55 0a1.28 1.28 0 1 0 -2.55 0M1329.8 98.9a1.35 1.35 0 1 0 2.71 0a1.35 1.35 0 1 0 -2.71 0M1327.6 106.9a1.43 1.43 0 1 0 2.86 0a1.43 1.43 0 1 0 -2.86 0M1325.4 114.9a1.51 1.51 0 1 0 3.02 0a1.51 1.51 0 1 0 -3.02 0M1323.1 123.0a1.61 1.61 0 1 0 3.21 0a1.61 1.61 0 1 0 -3.21 0M1320.9 131.0a1.70 1.70 0 1 0 3.40 0a1.70 1.70 0 1 0 -3.40 0M1318.6 139.0a1.85 1.85 0 1 0 3.69 0a1.85 1.85 0 1 0 -3.69 0M1316.2 147.0a2.06 2.06 0 1 0 4.12 0a2.06 2.06 0 1 0 -4.12 0M1313.9 155.0a2.25 2.25 0 1 0 4.50 0a2.25 2.25 0 1 0 -4.50 0M1311.5 163.0a2.51 2.51 0 1 0 5.02 0a2.51 2.51 0 1 0 -5.02 0M1309.0 171.1a2.82 2.82 0 1 0 5.63 0a2.82 2.82 0 1 0 -5.63 0M1306.5 179.1a3.16 3.16 0 1 0 6.33 0a3.16 3.16 0 1 0 -6.33 0M1366.3 -3.2a0.79 0.79 0 1 0 1.57 0a0.79 0.79 0 1 0 -1.57 0M1364.2 4.8a0.79 0.79 0 1 0 1.58 0a0.79 0.79 0 1 0 -1.58 0M1362.0 12.9a0.79 0.79 0 1 0 1.59 0a0.79 0.79 0 1 0 -1.59 0M1359.9 20.9a0.80 0.80 0 1 0 1.60 0a0.80 0.80 0 1 0 -1.60 0M1357.7 28.9a0.80 0.80 0 1 0 1.60 0a0.80 0.80 0 1 0 -1.60 0M1355.6 36.9a0.80 0.80 0 1 0 1.61 0a0.80 0.80 0 1 0 -1.61 0M1353.4 44.9a0.81 0.81 0 1 0 1.62 0a0.81 0.81 0 1 0 -1.62 0M1351.2 52.9a0.83 0.83 0 1 0 1.65 0a0.83 0.83 0 1 0 -1.65 0M1349.0 61.0a0.91 0.91 0 1 0 1.83 0a0.91 0.91 0 1 0 -1.83 0M1346.8 69.0a1.00 1.00 0 1 0 1.99 0a1.00 1.00 0 1 0 -1.99 0M1344.6 77.0a1.07 1.07 0 1 0 2.14 0a1.07 1.07 0 1 0 -2.14 0M1342.3 85.0a1.14 1.14 0 1 0 2.28 0a1.14 1.14 0 1 0 -2.28 0M1340.1 93.0a1.23 1.23 0 1 0 2.45 0a1.23 1.23 0 1 0 -2.45 0M1337.9 101.0a1.31 1.31 0 1 0 2.62 0a1.31 1.31 0 1 0 -2.62 0M1335.6 109.1a1.38 1.38 0 1 0 2.77 0a1.38 1.38 0 1 0 -2.77 0M1333.4 117.1a1.46 1.46 0 1 0 2.91 0a1.46 1.46 0 1 0 -2.91 0M1331.2 125.1a1.55 1.55 0 1 0 3.09 0a1.55 1.55 0 1 0 -3.09 0M1328.9 133.1a1.64 1.64 0 1 0 3.28 0a1.64 1.64 0 1 0 -3.28 0M1326.7 141.1a1.73 1.73 0 1 0 3.46 0a1.73 1.73 0 1 0 -3.46 0M1324.4 149.2a1.92 1.92 0 1 0 3.84 0a1.92 1.92 0 1 0 -3.84 0M1322.0 157.2a2.12 2.12 0 1 0 4.25 0a2.12 2.12 0 1 0 -4.25 0M1319.7 165.2a2.31 2.31 0 1 0 4.62 0a2.31 2.31 0 1 0 -4.62 0M1317.2 173.2a2.61 2.61 0 1 0 5.21 0a2.61 2.61 0 1 0 -5.21 0M1314.8 181.2a2.90 2.90 0 1 0 5.80 0a2.90 2.90 0 1 0 -5.80 0M1312.3 189.2a3.26 3.26 0 1 0 6.52 0a3.26 3.26 0 1 0 -6.52 0M1376.5 -9.0a0.78 0.78 0 1 0 1.56 0a0.78 0.78 0 1 0 -1.56 0M1374.3 -1.0a0.79 0.79 0 1 0 1.57 0a0.79 0.79 0 1 0 -1.57 0M1372.2 7.0a0.79 0.79 0 1 0 1.58 0a0.79 0.79 0 1 0 -1.58 0M1370.0 15.0a0.79 0.79 0 1 0 1.58 0a0.79 0.79 0 1 0 -1.58 0M1367.9 23.0a0.80 0.80 0 1 0 1.59 0a0.80 0.80 0 1 0 -1.59 0M1365.7 31.0a0.80 0.80 0 1 0 1.60 0a0.80 0.80 0 1 0 -1.60 0M1363.6 39.1a0.80 0.80 0 1 0 1.61 0a0.80 0.80 0 1 0 -1.61 0M1361.4 47.1a0.81 0.81 0 1 0 1.61 0a0.81 0.81 0 1 0 -1.61 0M1359.3 55.1a0.81 0.81 0 1 0 1.62 0a0.81 0.81 0 1 0 -1.62 0M1357.1 63.1a0.86 0.86 0 1 0 1.73 0a0.86 0.86 0 1 0 -1.73 0M1354.8 71.1a0.95 0.95 0 1 0 1.90 0a0.95 0.95 0 1 0 -1.90 0M1352.6 79.1a1.03 1.03 0 1 0 2.06 0a1.03 1.03 0 1 0 -2.06 0M1350.4 87.2a1.10 1.10 0 1 0 2.20 0a1.10 1.10 0 1 0 -2.20 0M1348.2 95.2a1.17 1.17 0 1 0 2.35 0a1.17 1.17 0 1 0 -2.35 0M1345.9 103.2a1.26 1.26 0 1 0 2.52 0a1.26 1.26 0 1 0 -2.52 0M1343.7 111.2a1.34 1.34 0 1 0 2.67 0a1.34 1.34 0 1 0 -2.67 0M1341.5 119.2a1.41 1.41 0 1 0 2.82 0a1.41 1.41 0 1 0 -2.82 0M1339.3 127.2a1.48 1.48 0 1 0 2.96 0a1.48 1.48 0 1 0 -2.96 0M1337.0 135.3a1.58 1.58 0 1 0 3.16 0a1.58 1.58 0 1 0 -3.16 0M1334.8 143.3a1.67 1.67 0 1 0 3.34 0a1.67 1.67 0 1 0 -3.34 0M1332.5 151.3a1.77 1.77 0 1 0 3.54 0a1.77 1.77 0 1 0 -3.54 0M1330.2 159.3a1.99 1.99 0 1 0 3.97 0a1.99 1.99 0 1 0 -3.97 0M1327.8 167.3a2.18 2.18 0 1 0 4.36 0a2.18 2.18 0 1 0 -4.36 0M1325.5 175.4a2.38 2.38 0 1 0 4.75 0a2.38 2.38 0 1 0 -4.75 0M1323.0 183.4a2.69 2.69 0 1 0 5.38 0a2.69 2.69 0 1 0 -5.38 0M1320.6 191.4a3.00 3.00 0 1 0 6.00 0a3.00 3.00 0 1 0 -6.00 0M1375.9 25.2a0.79 0.79 0 1 0 1.59 0a0.79 0.79 0 1 0 -1.59 0M1373.7 33.2a0.80 0.80 0 1 0 1.59 0a0.80 0.80 0 1 0 -1.59 0M1371.6 41.2a0.80 0.80 0 1 0 1.60 0a0.80 0.80 0 1 0 -1.60 0M1369.4 49.2a0.80 0.80 0 1 0 1.61 0a0.80 0.80 0 1 0 -1.61 0M1367.3 57.2a0.81 0.81 0 1 0 1.62 0a0.81 0.81 0 1 0 -1.62 0M1365.1 65.3a0.81 0.81 0 1 0 1.62 0a0.81 0.81 0 1 0 -1.62 0M1362.9 73.3a0.90 0.90 0 1 0 1.80 0a0.90 0.90 0 1 0 -1.80 0M1360.7 81.3a0.98 0.98 0 1 0 1.96 0a0.98 0.98 0 1 0 -1.96 0M1358.5 89.3a1.06 1.06 0 1 0 2.11 0a1.06 1.06 0 1 0 -2.11 0M1356.2 97.3a1.13 1.13 0 1 0 2.25 0a1.13 1.13 0 1 0 -2.25 0M1354.0 105.3a1.21 1.21 0 1 0 2.41 0a1.21 1.21 0 1 0 -2.41 0M1351.8 113.4a1.29 1.29 0 1 0 2.57 0a1.29 1.29 0 1 0 -2.57 0M1349.6 121.4a1.36 1.36 0 1 0 2.73 0a1.36 1.36 0 1 0 -2.73 0M1347.3 129.4a1.43 1.43 0 1 0 2.87 0a1.43 1.43 0 1 0 -2.87 0M1345.1 137.4a1.51 1.51 0 1 0 3.03 0a1.51 1.51 0 1 0 -3.03 0M1342.9 145.4a1.61 1.61 0 1 0 3.22 0a1.61 1.61 0 1 0 -3.22 0M1340.6 153.4a1.70 1.70 0 1 0 3.40 0a1.70 1.70 0 1 0 -3.40 0M1338.3 161.5a1.83 1.83 0 1 0 3.67 0a1.83 1.83 0 1 0 -3.67 0M1336.0 169.5a2.04 2.04 0 1 0 4.08 0a2.04 2.04 0 1 0 -4.08 0M1333.6 177.5a2.23 2.23 0 1 0 4.46 0a2.23 2.23 0 1 0 -4.46 0M1331.3 185.5a2.46 2.46 0 1 0 4.92 0a2.46 2.46 0 1 0 -4.92 0M1328.8 193.5a2.76 2.76 0 1 0 5.52 0a2.76 2.76 0 1 0 -5.52 0M1326.4 201.6a3.08 3.08 0 1 0 6.16 0a3.08 3.08 0 1 0 -6.16 0M1375.3 59.4a0.81 0.81 0 1 0 1.61 0a0.81 0.81 0 1 0 -1.61 0M1373.2 67.4a0.81 0.81 0 1 0 1.62 0a0.81 0.81 0 1 0 -1.62 0M1371.0 75.4a0.85 0.85 0 1 0 1.69 0a0.85 0.85 0 1 0 -1.69 0M1368.7 83.4a0.93 0.93 0 1 0 1.86 0a0.93 0.93 0 1 0 -1.86 0M1366.5 91.5a1.01 1.01 0 1 0 2.02 0a1.01 1.01 0 1 0 -2.02 0M1364.3 99.5a1.08 1.08 0 1 0 2.16 0a1.08 1.08 0 1 0 -2.16 0M1362.1 107.5a1.15 1.15 0 1 0 2.30 0a1.15 1.15 0 1 0 -2.30 0M1359.8 115.5a1.23 1.23 0 1 0 2.47 0a1.23 1.23 0 1 0 -2.47 0M1357.6 123.5a1.31 1.31 0 1 0 2.63 0a1.31 1.31 0 1 0 -2.63 0M1355.4 131.5a1.39 1.39 0 1 0 2.77 0a1.39 1.39 0 1 0 -2.77 0M1353.2 139.6a1.46 1.46 0 1 0 2.91 0a1.46 1.46 0 1 0 -2.91 0M1350.9 147.6a1.54 1.54 0 1 0 3.08 0a1.54 1.54 0 1 0 -3.08 0M1348.7 155.6a1.63 1.63 0 1 0 3.27 0a1.63 1.63 0 1 0 -3.27 0M1346.5 163.6a1.72 1.72 0 1 0 3.44 0a1.72 1.72 0 1 0 -3.44 0M1344.2 171.6a1.89 1.89 0 1 0 3.78 0a1.89 1.89 0 1 0 -3.78 0M1341.8 179.6a2.09 2.09 0 1 0 4.18 0a2.09 2.09 0 1 0 -4.18 0M1339.5 187.7a2.27 2.27 0 1 0 4.54 0a2.27 2.27 0 1 0 -4.54 0M1337.1 195.7a2.53 2.53 0 1 0 5.06 0a2.53 2.53 0 1 0 -5.06 0M1334.6 203.7a2.82 2.82 0 1 0 5.63 0a2.82 2.82 0 1 0 -5.63 0M1332.2 211.7a3.14 3.14 0 1 0 6.29 0a3.14 3.14 0 1 0 -6.29 0M1376.8 85.6a0.88 0.88 0 1 0 1.76 0a0.88 0.88 0 1 0 -1.76 0M1374.6 93.6a0.96 0.96 0 1 0 1.92 0a0.96 0.96 0 1 0 -1.92 0M1372.4 101.6a1.04 1.04 0 1 0 2.07 0a1.04 1.04 0 1 0 -2.07 0M1370.1 109.6a1.11 1.11 0 1 0 2.21 0a1.11 1.11 0 1 0 -2.21 0M1367.9 117.7a1.18 1.18 0 1 0 2.36 0a1.18 1.18 0 1 0 -2.36 0M1365.7 125.7a1.26 1.26 0 1 0 2.52 0a1.26 1.26 0 1 0 -2.52 0M1363.5 133.7a1.34 1.34 0 1 0 2.67 0a1.34 1.34 0 1 0 -2.67 0M1361.2 141.7a1.41 1.41 0 1 0 2.81 0a1.41 1.41 0 1 0 -2.81 0M1359.0 149.7a1.47 1.47 0 1 0 2.95 0a1.47 1.47 0 1 0 -2.95 0M1356.8 157.7a1.57 1.57 0 1 0 3.13 0a1.57 1.57 0 1 0 -3.13 0M1354.6 165.8a1.66 1.66 0 1 0 3.31 0a1.66 1.66 0 1 0 -3.31 0M1352.3 173.8a1.74 1.74 0 1 0 3.48 0a1.74 1.74 0 1 0 -3.48 0M1350.0 181.8a1.94 1.94 0 1 0 3.88 0a1.94 1.94 0 1 0 -3.88 0M1347.6 189.8a2.13 2.13 0 1 0 4.26 0a2.13 2.13 0 1 0 -4.26 0M1345.3 197.8a2.31 2.31 0 1 0 4.61 0a2.31 2.31 0 1 0 -4.61 0M1342.9 205.8a2.58 2.58 0 1 0 5.17 0a2.58 2.58 0 1 0 -5.17 0M1340.5 213.9a2.86 2.86 0 1 0 5.72 0a2.86 2.86 0 1 0 -5.72 0M1338.0 221.9a3.19 3.19 0 1 0 6.39 0a3.19 3.19 0 1 0 -6.39 0M1376.0 119.8a1.13 1.13 0 1 0 2.25 0a1.13 1.13 0 1 0 -2.25 0M1373.8 127.8a1.20 1.20 0 1 0 2.41 0a1.20 1.20 0 1 0 -2.41 0M1371.5 135.8a1.28 1.28 0 1 0 2.56 0a1.28 1.28 0 1 0 -2.56 0M1369.3 143.9a1.36 1.36 0 1 0 2.71 0a1.36 1.36 0 1 0 -2.71 0M1367.1 151.9a1.43 1.43 0 1 0 2.85 0a1.43 1.43 0 1 0 -2.85 0M1364.9 159.9a1.50 1.50 0 1 0 2.99 0a1.50 1.50 0 1 0 -2.99 0M1362.6 167.9a1.59 1.59 0 1 0 3.18 0a1.59 1.59 0 1 0 -3.18 0M1360.4 175.9a1.68 1.68 0 1 0 3.35 0a1.68 1.68 0 1 0 -3.35 0M1358.2 183.9a1.77 1.77 0 1 0 3.54 0a1.77 1.77 0 1 0 -3.54 0M1355.8 192.0a1.98 1.98 0 1 0 3.96 0a1.98 1.98 0 1 0 -3.96 0M1353.5 200.0a2.16 2.16 0 1 0 4.33 0a2.16 2.16 0 1 0 -4.33 0M1351.2 208.0a2.33 2.33 0 1 0 4.67 0a2.33 2.33 0 1 0 -4.67 0M1348.7 216.0a2.63 2.63 0 1 0 5.25 0a2.63 2.63 0 1 0 -5.25 0M1346.3 224.0a2.90 2.90 0 1 0 5.80 0a2.90 2.90 0 1 0 -5.80 0M1343.8 232.0a3.23 3.23 0 1 0 6.46 0a3.23 3.23 0 1 0 -6.46 0M1375.2 154.0a1.37 1.37 0 1 0 2.75 0a1.37 1.37 0 1 0 -2.75 0M1373.0 162.0a1.44 1.44 0 1 0 2.88 0a1.44 1.44 0 1 0 -2.88 0M1370.7 170.1a1.52 1.52 0 1 0 3.04 0a1.52 1.52 0 1 0 -3.04 0M1368.5 178.1a1.61 1.61 0 1 0 3.22 0a1.61 1.61 0 1 0 -3.22 0M1366.3 186.1a1.69 1.69 0 1 0 3.39 0a1.69 1.69 0 1 0 -3.39 0M1364.0 194.1a1.81 1.81 0 1 0 3.62 0a1.81 1.81 0 1 0 -3.62 0M1361.6 202.1a2.01 2.01 0 1 0 4.02 0a2.01 2.01 0 1 0 -4.02 0M1359.3 210.1a2.19 2.19 0 1 0 4.38 0a2.19 2.19 0 1 0 -4.38 0M1357.0 218.2a2.37 2.37 0 1 0 4.73 0a2.37 2.37 0 1 0 -4.73 0M1354.5 226.2a2.66 2.66 0 1 0 5.32 0a2.66 2.66 0 1 0 -5.32 0M1352.1 234.2a2.93 2.93 0 1 0 5.86 0a2.93 2.93 0 1 0 -5.86 0M1349.7 242.2a3.25 3.25 0 1 0 6.50 0a3.25 3.25 0 1 0 -6.50 0M1374.3 188.2a1.62 1.62 0 1 0 3.25 0a1.62 1.62 0 1 0 -3.25 0M1372.1 196.3a1.71 1.71 0 1 0 3.41 0a1.71 1.71 0 1 0 -3.41 0M1369.8 204.3a1.84 1.84 0 1 0 3.68 0a1.84 1.84 0 1 0 -3.68 0M1367.5 212.3a2.03 2.03 0 1 0 4.07 0a2.03 2.03 0 1 0 -4.07 0M1365.2 220.3a2.21 2.21 0 1 0 4.42 0a2.21 2.21 0 1 0 -4.42 0M1362.8 228.3a2.39 2.39 0 1 0 4.79 0a2.39 2.39 0 1 0 -4.79 0M1360.4 236.3a2.68 2.68 0 1 0 5.35 0a2.68 2.68 0 1 0 -5.35 0M1358.0 244.4a2.95 2.95 0 1 0 5.89 0a2.95 2.95 0 1 0 -5.89 0M1355.5 252.4a3.26 3.26 0 1 0 6.52 0a3.26 3.26 0 1 0 -6.52 0M1375.7 214.4a1.86 1.86 0 1 0 3.72 0a1.86 1.86 0 1 0 -3.72 0M1373.3 222.5a2.05 2.05 0 1 0 4.10 0a2.05 2.05 0 1 0 -4.10 0M1371.0 230.5a2.22 2.22 0 1 0 4.44 0a2.22 2.22 0 1 0 -4.44 0M1368.7 238.5a2.41 2.41 0 1 0 4.82 0a2.41 2.41 0 1 0 -4.82 0M1366.3 246.5a2.68 2.68 0 1 0 5.37 0a2.68 2.68 0 1 0 -5.37 0M1363.8 254.5a2.95 2.95 0 1 0 5.89 0a2.95 2.95 0 1 0 -5.89 0M1361.4 262.5a3.25 3.25 0 1 0 6.50 0a3.25 3.25 0 1 0 -6.50 0M1374.6 248.7a2.41 2.41 0 1 0 4.82 0a2.41 2.41 0 1 0 -4.82 0M1372.1 256.7a2.68 2.68 0 1 0 5.35 0a2.68 2.68 0 1 0 -5.35 0M1369.7 264.7a2.93 2.93 0 1 0 5.86 0a2.93 2.93 0 1 0 -5.86 0M1367.3 272.7a3.23 3.23 0 1 0 6.46 0a3.23 3.23 0 1 0 -6.46 0M1373.2 282.9a3.20 3.20 0 1 0 6.39 0a3.20 3.20 0 1 0 -6.39 0"/></g><g fill="#111116"><circle cx="276.6" cy="76.6" r="6.2"/><circle cx="218.0" cy="129.7" r="5.5"/><circle cx="164.8" cy="191.8" r="9.8"/><circle cx="67.6" cy="247.3" r="5.9"/><circle cx="1069.6" cy="73.4" r="5.0"/><circle cx="1140.3" cy="124.2" r="9.4"/><circle cx="1202.4" cy="180.5" r="5.9"/><circle cx="1243.4" cy="231.6" r="7.0"/><circle cx="29.7" cy="438.8" r="6.9"/><circle cx="203.0" cy="479.4" r="5.6"/><circle cx="1341.0" cy="430.5" r="5.4"/><circle cx="1171.5" cy="499.1" r="6.2"/></g><rect x="264" y="199" width="840" height="544" fill="#101016"/><g stroke="#5a5a60" stroke-width="2.2"><line x1="364" y1="265.0" x2="1038" y2="265.0"/><line x1="364" y1="327.1" x2="1038" y2="327.1"/><line x1="364" y1="389.2" x2="1038" y2="389.2"/><line x1="364" y1="451.7" x2="1038" y2="451.7"/><line x1="364" y1="513.9" x2="1038" y2="513.9"/><line x1="364" y1="575.0" x2="1038" y2="575.0"/></g><rect x="401.8" y="494.7" width="86.8" height="143" fill="#8e9daf"/><rect x="766.6" y="484.7" width="85.4" height="153" fill="#8e9daf"/><rect x="534" y="358.3" width="89.8" height="280" fill="#ffffff"/><rect x="897.6" y="231.7" width="90.7" height="406" fill="#ffffff"/><rect x="360.5" y="236" width="4" height="404" fill="#fff"/><rect x="360.5" y="636" width="677" height="4" fill="#fff"/><path d="M362.5 219.5L373.4 240L351.6 240Z" fill="#fff" stroke="#fff" stroke-width="1.5" stroke-linejoin="round"/><rect x="548" y="323" width="62" height="8" fill="#101016"/><rect x="771" y="447.5" width="79" height="8" fill="#101016"/><circle cx="571.6" cy="372.1" r="7" fill="#101016"/><line x1="533.6" y1="396.3" x2="452" y2="454" stroke="#fff" stroke-width="5"/><path d="M440.5 462L450.3 447.9L456.2 464.3Z" fill="#fff" stroke="#fff" stroke-width="3" stroke-linejoin="round"/><line x1="816.8" y1="411.4" x2="898" y2="332" stroke="#fff" stroke-width="5" stroke-linecap="round"/><line x1="914.5" y1="319" x2="932" y2="302" stroke="#101016" stroke-width="8"/><path d="M940.5 294.2L918.4 298.1L939.2 315.8Z" fill="#101016" stroke="#101016" stroke-width="2" stroke-linejoin="round"/><path d="M229.66 369.95 L228.95 374.37 L228.04 378.61 L226.94 382.69 L225.65 386.63 L224.16 390.42 L222.49 394.08 L220.63 397.59 L218.59 400.97 L216.36 404.21 L213.96 407.31 L211.39 410.26 L208.64 413.07 L205.72 415.73 L202.65 418.23 L199.41 420.57 L196.01 422.76 L192.45 424.78 L188.75 426.64 L184.89 428.33 L180.89 429.85 L176.73 431.20 L172.41 432.37 L167.94 433.36 L163.29 434.18 L158.43 434.82 L153.32 435.28 L147.83 435.55 L141.28 435.65 L134.48 435.56 L128.95 435.30 L123.83 434.85 L118.96 434.22 L114.30 433.41 L109.82 432.43 L105.49 431.26 L101.33 429.92 L97.31 428.41 L93.45 426.73 L89.74 424.88 L86.17 422.87 L82.77 420.69 L79.52 418.35 L76.43 415.86 L73.51 413.21 L70.75 410.41 L68.17 407.47 L65.76 404.38 L63.52 401.14 L61.47 397.77 L59.60 394.26 L57.92 390.62 L56.42 386.83 L55.12 382.90 L54.01 378.83 L53.10 374.60 L52.38 370.18 L51.85 365.54 L51.53 360.57 L51.40 354.83 L51.47 348.37 L51.75 343.27 L52.21 338.55 L52.88 334.08 L53.74 329.80 L54.80 325.69 L56.05 321.72 L57.49 317.90 L59.13 314.21 L60.94 310.67 L62.95 307.26 L65.13 303.99 L67.50 300.86 L70.03 297.87 L72.74 295.03 L75.62 292.34 L78.67 289.81 L81.87 287.43 L85.23 285.21 L88.75 283.15 L92.43 281.25 L96.25 279.53 L100.22 277.97 L104.35 276.58 L108.63 275.37 L113.07 274.34 L117.68 273.48 L122.48 272.80 L127.53 272.31 L132.92 271.99 L139.03 271.86 L146.23 271.90 L151.88 272.13 L157.07 272.54 L161.99 273.13 L166.69 273.90 L171.22 274.84 L175.57 275.97 L179.77 277.27 L183.82 278.74 L187.72 280.38 L191.46 282.20 L195.06 284.18 L198.50 286.32 L201.78 288.62 L204.90 291.08 L207.86 293.69 L210.66 296.46 L213.28 299.37 L215.73 302.43 L218.00 305.63 L220.10 308.98 L222.00 312.46 L223.73 316.07 L225.26 319.83 L226.61 323.72 L227.76 327.76 L228.72 331.96 L229.48 336.33 L230.05 340.92 L230.42 345.81 L264.40 355.10 Z" fill="#fff" stroke="#111116" stroke-width="4.2" stroke-linejoin="miter" stroke-miterlimit="10"/><path d="M1142.83 393.90 L1140.07 391.12 L1137.51 388.22 L1135.15 385.21 L1132.99 382.08 L1131.04 378.85 L1129.30 375.51 L1127.77 372.06 L1126.46 368.51 L1125.37 364.85 L1124.50 361.08 L1123.85 357.16 L1123.42 353.07 L1123.22 348.66 L1123.24 343.56 L1123.49 339.24 L1123.95 335.18 L1124.65 331.30 L1125.56 327.54 L1126.69 323.91 L1128.05 320.38 L1129.61 316.95 L1131.39 313.63 L1133.38 310.42 L1135.58 307.31 L1137.98 304.32 L1140.58 301.44 L1143.37 298.69 L1146.35 296.05 L1149.52 293.54 L1152.86 291.17 L1156.38 288.92 L1160.07 286.82 L1163.92 284.86 L1167.93 283.04 L1172.10 281.37 L1176.41 279.85 L1180.87 278.48 L1185.48 277.27 L1190.22 276.22 L1195.12 275.32 L1200.16 274.59 L1205.38 274.02 L1210.79 273.62 L1216.51 273.38 L1223.12 273.30 L1229.53 273.39 L1235.21 273.64 L1240.62 274.06 L1245.82 274.64 L1250.85 275.38 L1255.73 276.29 L1260.47 277.35 L1265.06 278.58 L1269.51 279.95 L1273.82 281.49 L1277.97 283.17 L1281.97 285.00 L1285.81 286.97 L1289.49 289.09 L1292.99 291.34 L1296.32 293.72 L1299.48 296.24 L1302.44 298.89 L1305.22 301.65 L1307.80 304.54 L1310.19 307.54 L1312.37 310.65 L1314.34 313.87 L1316.11 317.20 L1317.66 320.63 L1319.00 324.17 L1320.11 327.82 L1321.01 331.58 L1321.69 335.48 L1322.14 339.54 L1322.37 343.90 L1322.37 349.00 L1322.15 353.38 L1321.71 357.46 L1321.04 361.36 L1320.16 365.13 L1319.05 368.78 L1317.72 372.32 L1316.18 375.76 L1314.42 379.09 L1312.46 382.32 L1310.28 385.43 L1307.91 388.44 L1305.33 391.33 L1302.56 394.10 L1299.60 396.75 L1296.46 399.27 L1293.14 401.66 L1289.64 403.92 L1285.97 406.04 L1282.13 408.02 L1278.14 409.86 L1273.99 411.55 L1269.70 413.08 L1265.25 414.47 L1260.66 415.70 L1255.93 416.77 L1251.06 417.68 L1246.03 418.43 L1240.84 419.02 L1235.45 419.44 L1229.77 419.70 L1223.45 419.80 L1216.76 419.73 L1211.03 419.50 L1205.60 419.10 L1200.38 418.53 L1195.33 417.81 L1190.43 416.92 L1185.67 415.88 L1181.06 414.67 L1176.60 413.31 L1172.27 411.80 L1168.10 410.13 L1164.08 408.32 L1121.50 430.20 Z" fill="#fff" stroke="#111116" stroke-width="4.2" stroke-linejoin="miter" stroke-miterlimit="10"/><text x="358.20" y="66.00" font-family="Liberation Sans, sans-serif" font-weight="700" font-size="49.75" fill="#111116" textLength="639.23" lengthAdjust="spacingAndGlyphs" >PASENICL FON STAGICES</text><text x="418.00" y="123.20" font-family="Liberation Sans, sans-serif" font-weight="700" font-size="49.12" fill="#111116" textLength="525.09" lengthAdjust="spacingAndGlyphs" >ALIARDLYS OF NPDR</text><text x="346.80" y="169.40" font-family="Liberation Sans, sans-serif" font-weight="400" font-size="28.29" fill="#111116" textLength="655.31" lengthAdjust="spacingAndGlyphs" >FDA Proresial Assesstrongel ent for NPDR Trial</text><text x="295.20" y="273.60" font-family="Liberation Sans, sans-serif" font-weight="700" font-size="27.60" fill="#ffffff" textLength="52.18" lengthAdjust="spacingAndGlyphs" >35%</text><text x="295.20" y="335.00" font-family="Liberation Sans, sans-serif" font-weight="700" font-size="27.60" fill="#ffffff" textLength="51.11" lengthAdjust="spacingAndGlyphs" >20%</text><text x="295.20" y="397.15" font-family="Liberation Sans, sans-serif" font-weight="700" font-size="27.60" fill="#ffffff" textLength="51.11" lengthAdjust="spacingAndGlyphs" >25%</text><text x="298.00" y="460.20" font-family="Liberation Sans, sans-serif" font-weight="700" font-size="27.60" fill="#ffffff" textLength="48.23" lengthAdjust="spacingAndGlyphs" >10%</text><text x="298.20" y="522.70" font-family="Liberation Sans, sans-serif" font-weight="700" font-size="27.60" fill="#ffffff" textLength="47.86" lengthAdjust="spacingAndGlyphs" >10%</text><text x="310.00" y="583.45" font-family="Liberation Sans, sans-serif" font-weight="700" font-size="27.60" fill="#ffffff" textLength="36.71" lengthAdjust="spacingAndGlyphs" >5%</text><text x="308.00" y="644.90" font-family="Liberation Sans, sans-serif" font-weight="700" font-size="27.60" fill="#ffffff" textLength="38.77" lengthAdjust="spacingAndGlyphs" >0%</text><text x="550.20" y="337.60" font-family="Liberation Sans, sans-serif" font-weight="700" font-size="38.14" fill="#ffffff" textLength="56.88" lengthAdjust="spacingAndGlyphs" >0%</text><text x="908.00" y="281.80" font-family="Liberation Sans, sans-serif" font-weight="700" font-size="37.03" fill="#111116" textLength="74.02" lengthAdjust="spacingAndGlyphs" >25%</text><text x="772.80" y="462.00" font-family="Liberation Sans, sans-serif" font-weight="700" font-size="38.94" fill="#ffffff" textLength="75.82" lengthAdjust="spacingAndGlyphs" >25%</text><text x="423.20" y="685.40" font-family="Liberation Sans, sans-serif" font-weight="400" font-size="28.70" fill="#ffffff" textLength="169.07" lengthAdjust="spacingAndGlyphs" stroke="#ffffff" stroke-width="0.7">TREATMENT</text><text x="455.40" y="717.15" font-family="Liberation Sans, sans-serif" font-weight="400" font-size="28.70" fill="#ffffff" textLength="100.15" lengthAdjust="spacingAndGlyphs" stroke="#ffffff" stroke-width="0.7">GROUP</text><text x="754.20" y="686.30" font-family="Liberation Sans, sans-serif" font-weight="400" font-size="28.70" fill="#ffffff" textLength="232.07" lengthAdjust="spacingAndGlyphs" stroke="#ffffff" stroke-width="0.7">SHAM CONTROL</text><text x="821.40" y="717.65" font-family="Liberation Sans, sans-serif" font-weight="400" font-size="28.70" fill="#ffffff" textLength="101.37" lengthAdjust="spacingAndGlyphs" stroke="#ffffff" stroke-width="0.7">GROUP</text><text x="93.20" y="318.65" font-family="Liberation Sans, sans-serif" font-weight="400" font-size="25.50" fill="#111116" textLength="100.34" lengthAdjust="spacingAndGlyphs" >Sen thist</text><text x="94.20" y="348.75" font-family="Liberation Sans, sans-serif" font-weight="400" font-size="25.50" fill="#111116" textLength="92.73" lengthAdjust="spacingAndGlyphs" >bernual</text><text x="75.60" y="378.55" font-family="Liberation Sans, sans-serif" font-weight="400" font-size="25.50" fill="#111116" textLength="131.03" lengthAdjust="spacingAndGlyphs" >Eeborning:</text><text x="96.20" y="407.05" font-family="Liberation Sans, sans-serif" font-weight="400" font-size="25.50" fill="#111116" textLength="91.24" lengthAdjust="spacingAndGlyphs" >touetia!</text><text x="1158.00" y="326.70" font-family="Liberation Sans, sans-serif" font-weight="400" font-size="25.30" fill="#111116" textLength="128.36" lengthAdjust="spacingAndGlyphs" >Pren steed</text><text x="1147.40" y="356.45" font-family="Liberation Sans, sans-serif" font-weight="400" font-size="25.30" fill="#111116" textLength="149.63" lengthAdjust="spacingAndGlyphs" >eɒnɛresennt</text><text x="1162.40" y="385.75" font-family="Liberation Sans, sans-serif" font-weight="400" font-size="25.30" fill="#111116" textLength="122.81" lengthAdjust="spacingAndGlyphs" >esarnsse!!</text><defs>
<pattern id="pHair" width="7.3" height="7.3" patternUnits="userSpaceOnUse" patternTransform="rotate(25)">
<rect width="7.3" height="7.3" fill="#0c0c0e"/><circle cx="3.65" cy="3.65" r="1.15" fill="#8e8e92"/></pattern>
<pattern id="pSuit" width="7.2" height="7.2" patternUnits="userSpaceOnUse" patternTransform="rotate(15)">
<rect width="7.2" height="7.2" fill="#0c0c0e"/><circle cx="3.6" cy="3.6" r="1.15" fill="#8c8c90"/></pattern>
<pattern id="pBack" width="7.4" height="7.4" patternUnits="userSpaceOnUse" patternTransform="rotate(10)">
<rect width="7.4" height="7.4" fill="#141416"/><circle cx="3.7" cy="3.7" r="2.45" fill="#6a6a6e"/></pattern>
<pattern id="pSleeve" width="7.2" height="7.2" patternUnits="userSpaceOnUse" patternTransform="rotate(20)">
<rect width="7.2" height="7.2" fill="#707074"/><circle cx="3.6" cy="3.6" r="1.0" fill="#141416"/></pattern>
<pattern id="pDesk" x="0" y="753" width="40" height="16" patternUnits="userSpaceOnUse"><rect width="40" height="16" fill="#e2e2e2"/><circle cx="18.1" cy="9.0" r="2.0" fill="#3a3a3a"/><circle cx="18.1" cy="-2.3" r="1.0" fill="#555"/><circle cx="18.1" cy="13.7" r="1.0" fill="#555"/><circle cx="19.0" cy="9.8" r="1.0" fill="#3a3a3a"/><circle cx="12.1" cy="1.5" r="1.9" fill="#111"/><circle cx="12.1" cy="17.5" r="1.9" fill="#111"/><circle cx="23.8" cy="6.3" r="1.4" fill="#555"/><circle cx="26.0" cy="10.0" r="1.9" fill="#111"/><circle cx="2.4" cy="3.0" r="1.1" fill="#111"/><circle cx="42.4" cy="3.0" r="1.1" fill="#111"/><circle cx="31.1" cy="5.2" r="1.6" fill="#1c1c1c"/><circle cx="20.8" cy="10.2" r="1.4" fill="#111"/><circle cx="18.3" cy="4.5" r="2.1" fill="#111"/><circle cx="28.3" cy="5.0" r="1.1" fill="#2a2a2a"/><circle cx="1.2" cy="9.0" r="0.9" fill="#111"/><circle cx="41.2" cy="9.0" r="0.9" fill="#111"/><circle cx="33.9" cy="6.2" r="2.0" fill="#111"/><circle cx="8.5" cy="-1.2" r="0.9" fill="#3a3a3a"/><circle cx="8.5" cy="14.8" r="0.9" fill="#3a3a3a"/><circle cx="-0.8" cy="6.4" r="0.9" fill="#1c1c1c"/><circle cx="39.2" cy="6.4" r="0.9" fill="#1c1c1c"/><circle cx="31.1" cy="4.3" r="0.9" fill="#2a2a2a"/><circle cx="0.6" cy="6.6" r="2.0" fill="#1c1c1c"/><circle cx="40.6" cy="6.6" r="2.0" fill="#1c1c1c"/><circle cx="9.9" cy="1.6" r="0.9" fill="#3a3a3a"/><circle cx="9.9" cy="17.6" r="0.9" fill="#3a3a3a"/><circle cx="7.1" cy="8.9" r="1.4" fill="#1c1c1c"/><circle cx="-0.6" cy="12.3" r="1.3" fill="#3a3a3a"/><circle cx="39.4" cy="12.3" r="1.3" fill="#3a3a3a"/><circle cx="4.7" cy="6.7" r="1.1" fill="#2a2a2a"/><circle cx="34.6" cy="-0.4" r="1.6" fill="#111"/><circle cx="34.6" cy="15.6" r="1.6" fill="#111"/><circle cx="8.4" cy="6.3" r="1.9" fill="#555"/><circle cx="4.0" cy="-0.2" r="1.1" fill="#2a2a2a"/><circle cx="4.0" cy="15.8" r="1.1" fill="#2a2a2a"/><circle cx="0.4" cy="9.8" r="1.9" fill="#3a3a3a"/><circle cx="40.4" cy="9.8" r="1.9" fill="#3a3a3a"/><circle cx="2.9" cy="1.4" r="1.6" fill="#1c1c1c"/><circle cx="2.9" cy="17.4" r="1.6" fill="#1c1c1c"/><circle cx="42.9" cy="1.4" r="1.6" fill="#1c1c1c"/><circle cx="42.9" cy="17.4" r="1.6" fill="#1c1c1c"/><circle cx="0.6" cy="5.9" r="1.6" fill="#1c1c1c"/><circle cx="40.6" cy="5.9" r="1.6" fill="#1c1c1c"/><circle cx="-1.6" cy="7.7" r="1.5" fill="#3a3a3a"/><circle cx="38.4" cy="7.7" r="1.5" fill="#3a3a3a"/><circle cx="7.3" cy="2.5" r="2.0" fill="#555"/><circle cx="7.3" cy="18.5" r="2.0" fill="#555"/><circle cx="10.0" cy="3.0" r="1.8" fill="#555"/><circle cx="7.9" cy="-0.8" r="1.9" fill="#555"/><circle cx="7.9" cy="15.2" r="1.9" fill="#555"/><circle cx="3.1" cy="0.8" r="0.9" fill="#555"/><circle cx="3.1" cy="16.8" r="0.9" fill="#555"/><circle cx="-1.5" cy="3.8" r="1.7" fill="#2a2a2a"/><circle cx="38.5" cy="3.8" r="1.7" fill="#2a2a2a"/><circle cx="16.8" cy="-1.5" r="1.4" fill="#555"/><circle cx="16.8" cy="14.5" r="1.4" fill="#555"/><circle cx="7.0" cy="11.5" r="0.9" fill="#1c1c1c"/><circle cx="19.2" cy="10.5" r="1.6" fill="#111"/><circle cx="11.2" cy="-1.3" r="1.1" fill="#111"/><circle cx="11.2" cy="14.7" r="1.1" fill="#111"/><circle cx="2.8" cy="6.6" r="1.1" fill="#111"/><circle cx="42.8" cy="6.6" r="1.1" fill="#111"/><circle cx="7.1" cy="5.9" r="1.5" fill="#1c1c1c"/><circle cx="3.7" cy="2.2" r="1.4" fill="#2a2a2a"/><circle cx="3.7" cy="18.2" r="1.4" fill="#2a2a2a"/><circle cx="26.3" cy="11.1" r="1.6" fill="#1c1c1c"/><circle cx="23.6" cy="-1.2" r="1.4" fill="#2a2a2a"/><circle cx="23.6" cy="14.8" r="1.4" fill="#2a2a2a"/><circle cx="28.0" cy="-0.6" r="0.8" fill="#111"/><circle cx="28.0" cy="15.4" r="0.8" fill="#111"/><circle cx="19.3" cy="11.7" r="1.2" fill="#111"/><circle cx="3.0" cy="8.7" r="1.8" fill="#1c1c1c"/><circle cx="31.7" cy="-1.4" r="1.3" fill="#3a3a3a"/><circle cx="31.7" cy="14.6" r="1.3" fill="#3a3a3a"/><circle cx="36.0" cy="-2.1" r="1.3" fill="#111"/><circle cx="36.0" cy="13.9" r="1.3" fill="#111"/><circle cx="34.5" cy="9.2" r="1.6" fill="#3a3a3a"/><circle cx="15.2" cy="0.2" r="0.9" fill="#111"/><circle cx="15.2" cy="16.2" r="0.9" fill="#111"/><circle cx="25.6" cy="-0.1" r="1.9" fill="#2a2a2a"/><circle cx="25.6" cy="15.9" r="1.9" fill="#2a2a2a"/><circle cx="15.5" cy="11.8" r="1.6" fill="#3a3a3a"/><circle cx="18.5" cy="8.7" r="1.5" fill="#555"/><circle cx="1.2" cy="9.6" r="1.4" fill="#1c1c1c"/><circle cx="41.2" cy="9.6" r="1.4" fill="#1c1c1c"/><circle cx="-1.7" cy="1.8" r="1.8" fill="#3a3a3a"/><circle cx="-1.7" cy="17.8" r="1.8" fill="#3a3a3a"/><circle cx="38.3" cy="1.8" r="1.8" fill="#3a3a3a"/><circle cx="38.3" cy="17.8" r="1.8" fill="#3a3a3a"/><circle cx="10.2" cy="0.2" r="1.2" fill="#555"/><circle cx="10.2" cy="16.2" r="1.2" fill="#555"/><circle cx="8.1" cy="2.7" r="2.0" fill="#3a3a3a"/><circle cx="8.1" cy="18.7" r="2.0" fill="#3a3a3a"/><circle cx="19.9" cy="3.9" r="1.3" fill="#2a2a2a"/><circle cx="7.9" cy="6.9" r="1.8" fill="#1c1c1c"/><circle cx="35.2" cy="6.2" r="1.6" fill="#2a2a2a"/><circle cx="8.4" cy="2.2" r="1.3" fill="#111"/><circle cx="8.4" cy="18.2" r="1.3" fill="#111"/></pattern>
</defs><path d="M0.0 645.0 L18.0 631.0 L32.6 618.0 L79.0 624.0 L88.5 645.6 L93.7 652.0 L83.3 658.6 L76.8 669.0 L72.9 684.6 L72.2 698.0 L78.8 731.0 L91.9 753.0 L102.8 768.0 L0.0 768.0 Z" fill="url(#pBack)" stroke="#0c0c0e" stroke-width="3" stroke-linejoin="round"/><path d="M93.7 652.0 L88.5 645.6 L99.0 653.4 L110.7 667.7 L121.0 683.3 L132.0 710.0 L144.4 740.0 L166.3 672.2 L198.0 689.7 L187.0 722.5 L175.0 768.0 L102.8 768.0 L91.9 753.0 L78.8 731.0 L72.2 698.0 L72.9 684.6 L76.8 669.0 L83.3 658.6 Z" fill="url(#pSleeve)" stroke="#0c0c0e" stroke-width="3.2" stroke-linejoin="round"/><path d="M30.0 618.2 L79.0 624.0 L88.5 645.6 L84.6 645.6 L60.0 638.0 L35.0 633.0 L17.0 633.0 Z" fill="url(#pBack)" stroke="#0c0c0e" stroke-width="2.5" stroke-linejoin="round"/><path d="M35.2 598.0 L79.4 612.0 L78.0 632.5 L60.0 628.0 L33.0 621.0 Z" fill="url(#pHair)"/><path d="M36.5 626.0 C29.1 622.8 36.6 611.9 35.4 607.0 C34.1 602.1 31.8 600.9 29.0 596.7 C26.2 592.5 21.7 586.9 18.8 582.0 C15.8 577.1 13.1 572.7 11.5 567.5 C9.9 562.3 9.6 555.7 9.4 550.8 C9.2 545.9 9.2 542.8 10.4 538.3 C11.6 533.8 13.9 527.6 16.7 523.8 C19.5 519.9 22.8 517.5 27.0 515.4 C31.2 513.3 38.0 512.6 41.7 511.2 C45.4 509.9 47.0 509.1 49.0 507.0 C51.0 504.9 52.1 501.2 54.0 498.8 C55.9 496.3 57.6 494.2 60.4 492.5 C63.2 490.8 67.2 488.6 70.8 488.3 C74.4 488.0 78.5 488.8 82.0 490.5 C85.5 492.2 89.0 494.9 91.7 498.8 C94.4 502.6 97.1 509.1 97.9 513.3 C98.7 517.5 96.9 521.4 96.5 524.0 C96.1 526.6 95.3 527.3 95.5 529.0 C95.7 530.7 96.7 532.2 97.5 534.0 C98.3 535.8 99.6 538.0 100.5 540.0 C101.4 542.0 102.2 544.1 103.0 546.0 C103.8 547.9 104.5 549.8 105.5 551.5 C106.5 553.2 107.7 554.8 109.0 556.5 C110.3 558.2 112.1 559.8 113.5 561.5 C114.9 563.2 117.2 565.6 117.5 567.0 C117.8 568.4 116.3 569.0 115.0 570.0 C113.7 571.0 110.4 571.0 109.5 573.0 C108.6 575.0 109.6 578.8 109.6 582.0 C109.6 585.2 109.8 588.2 109.4 592.0 C109.0 595.8 108.5 601.5 107.3 605.0 C106.1 608.5 104.6 611.4 102.0 613.3 C99.4 615.2 94.8 615.4 91.7 616.5 C88.6 617.6 85.2 618.4 83.3 620.0 C81.3 621.6 87.8 625.0 80.0 626.0 C72.2 627.0 43.9 629.2 36.5 626.0 Z" fill="#0c0c0e"/><path d="M50.0 505.0 L57.0 494.0 L67.0 488.5 L78.0 488.0 L88.0 492.0 L95.0 500.0 L98.5 510.0 L98.0 518.0 L95.5 523.7 L91.0 527.3 L86.4 529.1 L81.0 531.4 L74.0 534.0 L66.0 530.0 L62.0 520.0 L56.0 512.0 Z" fill="url(#pHair)"/><path d="M60.0 570.0 L80.0 562.0 L95.0 562.5 L97.0 557.5 L100.0 559.0 L104.0 556.0 L108.5 556.0 L113.0 561.0 L116.0 568.0 L108.5 573.5 L109.4 590.4 L107.3 605.0 L102.0 613.3 L91.7 616.5 L83.3 621.7 L79.0 626.0 L60.0 622.0 L52.0 600.0 L52.0 585.0 Z" fill="url(#pHair)"/><path d="M79.0 532.0 L85.0 529.5 L90.0 528.3 L93.0 531.0 L96.0 537.0 L98.5 544.0 L100.0 550.0 L101.5 556.0 L100.0 559.0 L97.0 557.5 L95.0 562.5 L81.0 562.0 L84.5 553.0 L86.0 546.0 L84.0 538.0 Z" fill="#fff"/><path d="M90 552 L97.4 546" stroke="#0c0c0e" stroke-width="2.2" stroke-linecap="round"/><path d="M155.4 538.3 L227.3 552.9 L200.2 637.7 L128.3 623.1 Z" fill="#fff" stroke="#0c0c0e" stroke-width="3" stroke-linejoin="miter"/><path d="M161.7 554.4l20.6 4.2M159.2 563.2l20.6 4.2M156.8 572.1l20.6 4.2M154.3 580.9l20.6 4.2M151.9 589.8l18.6 3.8M149.4 598.6l20.6 4.2M147.0 607.5l18.6 3.8M195 559.6 l16.7 3.4" stroke="#0c0c0e" stroke-width="3.1" stroke-linecap="round" fill="none"/><path d="M192.5 569.5 L207.7 572.6 L202.8 587.8 L187.6 584.8 ZM186.5 592.0 L202.2 595.2 L195.8 615.2 L180.1 612.0 Z" fill="#fff" stroke="#0c0c0e" stroke-width="2.8"/><path d="M190 580 l2 -6 M185 601 l9 2 M183 608 l10 2" stroke="#0c0c0e" stroke-width="2" fill="none"/><path d="M167.0 676.0 L170.5 668.0 L172.5 658.0 L174.5 646.0 L177.5 634.0 L180.0 627.0 L184.6 623.5 L188.5 627.5 L189.8 640.0 L196.0 631.0 L203.0 623.0 L209.6 616.5 L212.7 613.2 L216.0 615.5 L217.5 622.0 L217.0 632.5 L213.5 645.0 L208.0 656.0 L201.0 666.0 L196.0 676.0 L198.0 689.7 L166.3 672.2 Z" fill="#fff" stroke="#0c0c0e" stroke-width="2.8" stroke-linejoin="round"/><path d="M166.3 672.2 L198 689.7" stroke="#0c0c0e" stroke-width="4"/><path d="M165 768 L170 754 L261 754 Q269 754 269.5 762 L270 768 Z" fill="url(#pDesk)" stroke="#0c0c0e" stroke-width="3"/><path d="M219.5 731 L224 753.5 L228.5 731 Z" fill="#fff" stroke="#0c0c0e" stroke-width="2.5" stroke-linejoin="round"/><circle cx="223" cy="725.8" r="9.5" fill="#fff" stroke="#0c0c0e" stroke-width="2.6"/><path d="M220 720 l1 9 M225 719 l-1 10" stroke="#0c0c0e" stroke-width="2"/><path d="M1298.2 618.7 L1327.9 611.3 L1345.7 606.8 L1357.6 617.2 L1368.0 629.0 L1368.0 768.0 L1198.7 768.0 L1191.3 747.9 L1179.4 724.1 L1168.7 687.3 L1194.4 678.7 L1227.4 677.3 L1248.8 661.6 L1259.6 659.0 L1268.5 649.9 L1286.3 629.1 Z" fill="url(#pSuit)" stroke="#0c0c0e" stroke-width="2.5" stroke-linejoin="round"/><path d="M1194 679.5 L1204 664 L1230 674 L1240 735 Z" fill="#fff" stroke="#0c0c0e" stroke-width="2.5" stroke-linejoin="round"/><path d="M1284.4 516.9 L1282.5 518.8 L1278.6 528.6 L1268.8 544.2 L1258.0 561.8 L1268.8 565.7 L1267.8 573.5 L1268.0 580.0 L1269.3 590.4 L1273.9 597.0 L1279.0 600.2 L1297.3 602.8 L1298.2 618.7 L1341.0 607.0 L1341.0 594.0 L1300.0 520.0 Z" fill="#fff"/><path d="M1285.5 514.0 L1282.5 518.8 L1278.6 528.6 L1268.8 544.2 L1258.5 561.5 L1268.8 565.7 L1267.8 573.5 L1268.0 580.0 L1269.3 590.4 L1273.9 597.0 L1279.0 600.2 L1297.3 602.8 L1298.0 619.0" fill="none" stroke="#0c0c0e" stroke-width="2.8" stroke-linejoin="round" stroke-linecap="round"/><path d="M1341 594 L1341.5 608" stroke="#0c0c0e" stroke-width="2.8"/><path d="M1274.5 500.0 C1274.7 496.9 1275.8 493.1 1277.5 490.5 C1279.2 487.9 1281.6 485.8 1285.0 484.5 C1288.4 483.2 1293.5 482.0 1298.0 482.5 C1302.5 483.0 1307.9 485.5 1311.8 487.6 C1315.7 489.8 1317.3 493.0 1321.5 495.4 C1325.7 497.8 1331.9 499.6 1337.1 502.2 C1342.3 504.8 1348.9 507.9 1352.8 511.0 C1356.7 514.1 1358.6 516.9 1360.6 520.8 C1362.5 524.7 1364.2 529.2 1364.5 534.4 C1364.8 539.6 1363.8 546.5 1362.5 552.0 C1361.2 557.5 1359.0 562.7 1356.7 567.6 C1354.4 572.5 1351.5 576.9 1348.9 581.3 C1346.3 585.7 1343.0 591.7 1341.0 594.0 C1339.0 596.3 1339.7 596.1 1337.1 595.0 C1334.5 593.9 1329.0 590.4 1325.4 587.1 C1321.8 583.8 1319.6 579.9 1315.7 575.4 C1311.8 570.9 1305.6 562.9 1302.0 560.0 C1298.4 557.1 1295.2 560.5 1294.2 557.9 C1293.2 555.3 1295.5 549.1 1296.1 544.2 C1296.7 539.3 1298.3 532.2 1298.0 528.6 C1297.7 525.0 1296.5 524.7 1294.2 522.7 C1291.9 520.8 1287.3 519.2 1284.4 516.9 C1281.5 514.6 1278.2 511.8 1276.6 509.0 C1274.9 506.2 1274.3 503.1 1274.5 500.0 Z" fill="url(#pSuit)" stroke="#0c0c0e" stroke-width="1.5"/><ellipse cx="1309" cy="564" rx="7" ry="10" fill="#fff" stroke="#0c0c0e" stroke-width="2.8"/><path d="M1307 558 q5 1 4 7 q-1 5 -5 5" stroke="#0c0c0e" stroke-width="2.6" fill="none"/><path d="M1277 545 q4 4 8 1 M1276 533 q5 0 9 3" stroke="#0c0c0e" stroke-width="2.3" fill="none" stroke-linecap="round"/><path d="M1133.4 574.0 L1139.3 563.8 L1158.6 643.0 L1153.0 641.0 Z" fill="#fff" stroke="#0c0c0e" stroke-width="2.4" stroke-linejoin="round"/><path d="M1139.3 563.8 L1219.5 558.4 L1238.8 637.2 L1158.6 643.0 Z" fill="#fff" stroke="#0c0c0e" stroke-width="3" stroke-linejoin="round"/><path d="M1152.7 575.6l27 -1.5M1188.3 571.2l25 -1.5M1154.4 582.6l27 -1.5M1190.4 579.5l25 -1.5M1156.1 589.6l27 -1.5M1192.5 587.7l25 -1.5M1157.8 596.6l27 -1.5M1194.6 596.0l25 -1.5M1159.4 603.6l27 -1.5M1196.7 604.2l25 -1.5M1161.1 610.6l27 -1.5M1198.8 612.5l25 -1.5M1162.8 617.6l27 -1.5M1200.9 620.7l25 -1.5M1164.5 624.6l27 -1.5M1203.0 629.0l18 -1.5" stroke="#0c0c0e" stroke-width="2.8" fill="none"/><path d="M1204.4 643 L1215 636 L1237 626 Q1240 618 1246 620 Q1251 624 1250 634 L1248.8 660 L1230.2 674.4 L1216 668 L1206 655 Z" fill="#fff" stroke="#0c0c0e" stroke-width="2.6" stroke-linejoin="round"/><path d="M1208 643 L1236 639 L1238 652 L1233 664 L1221 668 L1211 656 Z" fill="url(#pHair)"/><path d="M1182.3 631.5 L1186.5 634.0 L1188.0 645.0 L1191.5 658.0 L1194.0 672.0 L1194.4 679.0 L1174.4 687.0 L1167.2 681.6 L1158.0 668.0 L1152.0 655.0 L1149.0 640.0 L1148.6 630.0 L1151.5 627.0 L1155.5 631.0 L1158.5 643.0 L1166.0 646.0 L1174.0 646.5 L1179.0 643.0 L1180.0 636.0 Z" fill="#fff" stroke="#0c0c0e" stroke-width="2.8" stroke-linejoin="round"/><path d="M1152 650 q4 6 8 8 M1154 660 q4 6 9 7" stroke="#0c0c0e" stroke-width="2" fill="none"/><path d="M1168.7 687.3 L1194.4 678.7" stroke="#0c0c0e" stroke-width="3"/><path d="M1101 768 L1102 761 Q1103 754 1111 753.5 L1184 753.5 L1190 768 Z" fill="url(#pDesk)" stroke="#0c0c0e" stroke-width="3"/><path d="M1140.5 733 L1143.5 753.5 L1148.5 733 Z" fill="#fff" stroke="#0c0c0e" stroke-width="2.5" stroke-linejoin="round"/><circle cx="1144.8" cy="725.5" r="9.3" fill="#fff" stroke="#0c0c0e" stroke-width="2.6"/><path d="M1142 719 l-1 10 M1147 719 l0 10" stroke="#0c0c0e" stroke-width="2"/></svg></body></html>
